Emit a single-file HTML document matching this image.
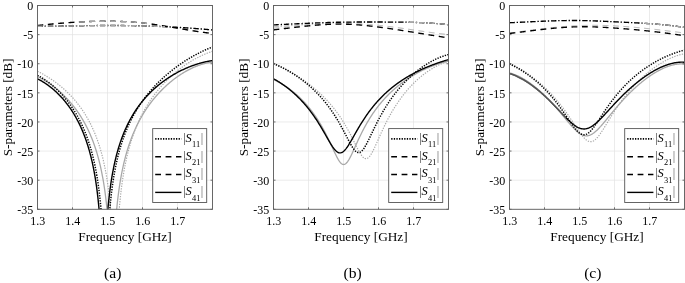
<!DOCTYPE html>
<html><head><meta charset="utf-8"><title>S-parameters</title>
<style>html,body{margin:0;padding:0;background:#fff}body{width:685px;height:283px;overflow:hidden}</style>
</head><body>
<svg width="685" height="283" viewBox="0 0 685 283" style="display:block">
<rect width="685" height="283" fill="#fff"/>
<defs>
<clipPath id="c0"><rect x="37.50" y="5.50" width="175.00" height="203.80"/></clipPath>
<clipPath id="c1"><rect x="273.50" y="5.50" width="175.00" height="203.80"/></clipPath>
<clipPath id="c2"><rect x="509.50" y="5.50" width="175.00" height="203.80"/></clipPath>
<clipPath id="o0_0"><rect x="78.00" y="5.50" width="72.00" height="203.80"/></clipPath>
<clipPath id="o0_1"><rect x="37.00" y="5.50" width="128.00" height="203.80"/></clipPath>
<clipPath id="o1_0"><rect x="405.00" y="5.50" width="44.00" height="203.80"/></clipPath>
<clipPath id="o2_0"><rect x="641.00" y="5.50" width="45.00" height="203.80"/></clipPath>
<clipPath id="o2_1"><rect x="509.00" y="5.50" width="57.00" height="203.80"/></clipPath>
</defs>
<path d="M72.50 5.50 V209.30 M107.50 5.50 V209.30 M142.50 5.50 V209.30 M177.50 5.50 V209.30 M37.50 34.61 H212.50 M37.50 63.73 H212.50 M37.50 92.84 H212.50 M37.50 121.96 H212.50 M37.50 151.07 H212.50 M37.50 180.19 H212.50" stroke="#e2e2e2" stroke-width="0.7" fill="none"/>
<g clip-path="url(#c0)" fill="none">
<path d="M37.50 25.53 L37.99 25.48 L38.47 25.42 L38.96 25.37 L39.45 25.32 L39.94 25.26 L40.42 25.21 L40.91 25.16 L41.40 25.11 L41.89 25.05 L42.37 25.00 L42.86 24.95 L43.35 24.90 L43.84 24.85 L44.32 24.80 L44.81 24.75 L45.30 24.70 L45.79 24.65 L46.27 24.60 L46.76 24.55 L47.25 24.50 L47.74 24.45 L48.22 24.40 L48.71 24.35 L49.20 24.31 L49.69 24.26 L50.17 24.21 L50.66 24.16 L51.15 24.12 L51.64 24.07 L52.12 24.02 L52.61 23.98 L53.10 23.93 L53.59 23.89 L54.07 23.84 L54.56 23.80 L55.05 23.75 L55.54 23.71 L56.02 23.67 L56.51 23.62 L57.00 23.58 L57.49 23.54 L57.97 23.49 L58.46 23.45 L58.95 23.41 L59.44 23.37 L59.92 23.33 L60.41 23.29 L60.90 23.25 L61.39 23.21 L61.87 23.17 L62.36 23.13 L62.85 23.09 L63.34 23.05 L63.82 23.01 L64.31 22.97 L64.80 22.93 L65.29 22.90 L65.77 22.86 L66.26 22.82 L66.75 22.79 L67.24 22.75 L67.72 22.72 L68.21 22.68 L68.70 22.65 L69.19 22.61 L69.67 22.58 L70.16 22.54 L70.65 22.51 L71.14 22.48 L71.62 22.44 L72.11 22.41 L72.60 22.38 L73.08 22.35 L73.57 22.32 L74.06 22.29 L74.55 22.26 L75.03 22.23 L75.52 22.20 L76.01 22.17 L76.50 22.14 L76.98 22.11 L77.47 22.08 L77.96 22.06 L78.45 22.03 L78.93 22.00 L79.42 21.98 L79.91 21.95 L80.40 21.92 L80.88 21.90 L81.37 21.87 L81.86 21.85 L82.35 21.83 L82.83 21.80 L83.32 21.78 L83.81 21.76 L84.30 21.74 L84.78 21.71 L85.27 21.69 L85.76 21.67 L86.25 21.65 L86.73 21.63 L87.22 21.61 L87.71 21.59 L88.20 21.57 L88.68 21.56 L89.17 21.54 L89.66 21.52 L90.15 21.50 L90.63 21.49 L91.12 21.47 L91.61 21.46 L92.10 21.44 L92.58 21.43 L93.07 21.41 L93.56 21.40 L94.05 21.39 L94.53 21.37 L95.02 21.36 L95.51 21.35 L96.00 21.34 L96.48 21.33 L96.97 21.32 L97.46 21.31 L97.95 21.30 L98.43 21.29 L98.92 21.28 L99.41 21.28 L99.90 21.27 L100.38 21.26 L100.87 21.26 L101.36 21.25 L101.85 21.24 L102.33 21.24 L102.82 21.24 L103.31 21.23 L103.80 21.23 L104.28 21.23 L104.77 21.22 L105.26 21.22 L105.75 21.22 L106.23 21.22 L106.72 21.22 L107.21 21.22 L107.69 21.22 L108.18 21.22 L108.67 21.23 L109.16 21.23 L109.64 21.23 L110.13 21.24 L110.62 21.24 L111.11 21.24 L111.59 21.25 L112.08 21.26 L112.57 21.26 L113.06 21.27 L113.54 21.28 L114.03 21.29 L114.52 21.29 L115.01 21.30 L115.49 21.31 L115.98 21.32 L116.47 21.34 L116.96 21.35 L117.44 21.36 L117.93 21.37 L118.42 21.39 L118.91 21.40 L119.39 21.42 L119.88 21.43 L120.37 21.45 L120.86 21.47 L121.34 21.48 L121.83 21.50 L122.32 21.52 L122.81 21.54 L123.29 21.56 L123.78 21.58 L124.27 21.61 L124.76 21.63 L125.24 21.65 L125.73 21.68 L126.22 21.70 L126.71 21.73 L127.19 21.75 L127.68 21.78 L128.17 21.81 L128.66 21.83 L129.14 21.86 L129.63 21.89 L130.12 21.92 L130.61 21.96 L131.09 21.99 L131.58 22.02 L132.07 22.05 L132.56 22.09 L133.04 22.12 L133.53 22.16 L134.02 22.20 L134.51 22.23 L134.99 22.27 L135.48 22.31 L135.97 22.35 L136.46 22.39 L136.94 22.43 L137.43 22.48 L137.92 22.52 L138.41 22.56 L138.89 22.61 L139.38 22.65 L139.87 22.70 L140.36 22.75 L140.84 22.80 L141.33 22.85 L141.82 22.90 L142.31 22.95 L142.79 23.00 L143.28 23.05 L143.77 23.11 L144.25 23.16 L144.74 23.22 L145.23 23.27 L145.72 23.33 L146.20 23.39 L146.69 23.45 L147.18 23.51 L147.67 23.57 L148.15 23.63 L148.64 23.69 L149.13 23.75 L149.62 23.81 L150.10 23.88 L150.59 23.94 L151.08 24.01 L151.57 24.07 L152.05 24.14 L152.54 24.21 L153.03 24.27 L153.52 24.34 L154.00 24.41 L154.49 24.48 L154.98 24.55 L155.47 24.62 L155.95 24.69 L156.44 24.76 L156.93 24.84 L157.42 24.91 L157.90 24.98 L158.39 25.06 L158.88 25.13 L159.37 25.21 L159.85 25.28 L160.34 25.36 L160.83 25.43 L161.32 25.51 L161.80 25.59 L162.29 25.66 L162.78 25.74 L163.27 25.82 L163.75 25.90 L164.24 25.98 L164.73 26.06 L165.22 26.14 L165.70 26.22 L166.19 26.30 L166.68 26.38 L167.17 26.46 L167.65 26.54 L168.14 26.62 L168.63 26.70 L169.12 26.78 L169.60 26.86 L170.09 26.95 L170.58 27.03 L171.07 27.11 L171.55 27.19 L172.04 27.28 L172.53 27.36 L173.02 27.44 L173.50 27.53 L173.99 27.61 L174.48 27.69 L174.97 27.77 L175.45 27.86 L175.94 27.94 L176.43 28.03 L176.92 28.11 L177.40 28.19 L177.89 28.28 L178.38 28.36 L178.86 28.44 L179.35 28.53 L179.84 28.61 L180.33 28.69 L180.81 28.78 L181.30 28.86 L181.79 28.94 L182.28 29.03 L182.76 29.11 L183.25 29.19 L183.74 29.27 L184.23 29.36 L184.71 29.44 L185.20 29.52 L185.69 29.60 L186.18 29.69 L186.66 29.77 L187.15 29.85 L187.64 29.93 L188.13 30.01 L188.61 30.09 L189.10 30.17 L189.59 30.25 L190.08 30.33 L190.56 30.41 L191.05 30.49 L191.54 30.57 L192.03 30.65 L192.51 30.72 L193.00 30.80 L193.49 30.88 L193.98 30.95 L194.46 31.03 L194.95 31.11 L195.44 31.18 L195.93 31.26 L196.41 31.33 L196.90 31.41 L197.39 31.48 L197.88 31.55 L198.36 31.62 L198.85 31.70 L199.34 31.77 L199.83 31.84 L200.31 31.91 L200.80 31.98 L201.29 32.05 L201.78 32.12 L202.26 32.19 L202.75 32.25 L203.24 32.32 L203.73 32.39 L204.21 32.45 L204.70 32.52 L205.19 32.58 L205.68 32.64 L206.16 32.71 L206.65 32.77 L207.14 32.83 L207.63 32.89 L208.11 32.95 L208.60 33.01 L209.09 33.07 L209.58 33.12 L210.06 33.18 L210.55 33.24 L211.04 33.29 L211.53 33.34 L212.01 33.40 L212.50 33.45" stroke="#a8a8a8" stroke-width="1.00" stroke-dasharray="5.8 4.6"/>
<path d="M37.50 26.23 L37.99 26.23 L38.47 26.23 L38.96 26.23 L39.45 26.23 L39.94 26.23 L40.42 26.23 L40.91 26.23 L41.40 26.23 L41.89 26.22 L42.37 26.22 L42.86 26.22 L43.35 26.22 L43.84 26.22 L44.32 26.21 L44.81 26.21 L45.30 26.21 L45.79 26.21 L46.27 26.20 L46.76 26.20 L47.25 26.20 L47.74 26.19 L48.22 26.19 L48.71 26.19 L49.20 26.18 L49.69 26.18 L50.17 26.17 L50.66 26.17 L51.15 26.17 L51.64 26.16 L52.12 26.16 L52.61 26.15 L53.10 26.15 L53.59 26.14 L54.07 26.14 L54.56 26.13 L55.05 26.13 L55.54 26.12 L56.02 26.12 L56.51 26.11 L57.00 26.10 L57.49 26.10 L57.97 26.09 L58.46 26.09 L58.95 26.08 L59.44 26.07 L59.92 26.07 L60.41 26.06 L60.90 26.05 L61.39 26.05 L61.87 26.04 L62.36 26.03 L62.85 26.03 L63.34 26.02 L63.82 26.01 L64.31 26.01 L64.80 26.00 L65.29 25.99 L65.77 25.98 L66.26 25.98 L66.75 25.97 L67.24 25.96 L67.72 25.95 L68.21 25.95 L68.70 25.94 L69.19 25.93 L69.67 25.92 L70.16 25.92 L70.65 25.91 L71.14 25.90 L71.62 25.89 L72.11 25.89 L72.60 25.88 L73.08 25.87 L73.57 25.86 L74.06 25.86 L74.55 25.85 L75.03 25.84 L75.52 25.83 L76.01 25.82 L76.50 25.82 L76.98 25.81 L77.47 25.80 L77.96 25.79 L78.45 25.79 L78.93 25.78 L79.42 25.77 L79.91 25.76 L80.40 25.76 L80.88 25.75 L81.37 25.74 L81.86 25.73 L82.35 25.73 L82.83 25.72 L83.32 25.71 L83.81 25.70 L84.30 25.70 L84.78 25.69 L85.27 25.68 L85.76 25.68 L86.25 25.67 L86.73 25.66 L87.22 25.66 L87.71 25.65 L88.20 25.64 L88.68 25.64 L89.17 25.63 L89.66 25.62 L90.15 25.62 L90.63 25.61 L91.12 25.60 L91.61 25.60 L92.10 25.59 L92.58 25.59 L93.07 25.58 L93.56 25.58 L94.05 25.57 L94.53 25.56 L95.02 25.56 L95.51 25.55 L96.00 25.55 L96.48 25.54 L96.97 25.54 L97.46 25.53 L97.95 25.53 L98.43 25.53 L98.92 25.52 L99.41 25.52 L99.90 25.51 L100.38 25.51 L100.87 25.51 L101.36 25.50 L101.85 25.50 L102.33 25.50 L102.82 25.49 L103.31 25.49 L103.80 25.49 L104.28 25.48 L104.77 25.48 L105.26 25.48 L105.75 25.48 L106.23 25.48 L106.72 25.47 L107.21 25.47 L107.69 25.47 L108.18 25.47 L108.67 25.47 L109.16 25.47 L109.64 25.47 L110.13 25.47 L110.62 25.47 L111.11 25.47 L111.59 25.47 L112.08 25.47 L112.57 25.47 L113.06 25.47 L113.54 25.47 L114.03 25.47 L114.52 25.47 L115.01 25.48 L115.49 25.48 L115.98 25.48 L116.47 25.48 L116.96 25.48 L117.44 25.49 L117.93 25.49 L118.42 25.49 L118.91 25.49 L119.39 25.50 L119.88 25.50 L120.37 25.51 L120.86 25.51 L121.34 25.51 L121.83 25.52 L122.32 25.52 L122.81 25.53 L123.29 25.53 L123.78 25.54 L124.27 25.54 L124.76 25.55 L125.24 25.55 L125.73 25.56 L126.22 25.56 L126.71 25.57 L127.19 25.58 L127.68 25.58 L128.17 25.59 L128.66 25.60 L129.14 25.61 L129.63 25.61 L130.12 25.62 L130.61 25.63 L131.09 25.64 L131.58 25.64 L132.07 25.65 L132.56 25.66 L133.04 25.67 L133.53 25.68 L134.02 25.69 L134.51 25.70 L134.99 25.71 L135.48 25.72 L135.97 25.73 L136.46 25.74 L136.94 25.75 L137.43 25.76 L137.92 25.77 L138.41 25.78 L138.89 25.79 L139.38 25.80 L139.87 25.81 L140.36 25.83 L140.84 25.84 L141.33 25.85 L141.82 25.86 L142.31 25.87 L142.79 25.89 L143.28 25.90 L143.77 25.91 L144.25 25.93 L144.74 25.94 L145.23 25.95 L145.72 25.97 L146.20 25.98 L146.69 26.00 L147.18 26.01 L147.67 26.03 L148.15 26.04 L148.64 26.06 L149.13 26.07 L149.62 26.09 L150.10 26.10 L150.59 26.12 L151.08 26.14 L151.57 26.15 L152.05 26.17 L152.54 26.19 L153.03 26.20 L153.52 26.22 L154.00 26.24 L154.49 26.26 L154.98 26.27 L155.47 26.29 L155.95 26.31 L156.44 26.33 L156.93 26.35 L157.42 26.37 L157.90 26.39 L158.39 26.40 L158.88 26.42 L159.37 26.44 L159.85 26.46 L160.34 26.48 L160.83 26.50 L161.32 26.53 L161.80 26.55 L162.29 26.57 L162.78 26.59 L163.27 26.61 L163.75 26.63 L164.24 26.65 L164.73 26.68 L165.22 26.70 L165.70 26.72 L166.19 26.74 L166.68 26.77 L167.17 26.79 L167.65 26.81 L168.14 26.84 L168.63 26.86 L169.12 26.89 L169.60 26.91 L170.09 26.93 L170.58 26.96 L171.07 26.98 L171.55 27.01 L172.04 27.04 L172.53 27.06 L173.02 27.09 L173.50 27.11 L173.99 27.14 L174.48 27.17 L174.97 27.19 L175.45 27.22 L175.94 27.25 L176.43 27.27 L176.92 27.30 L177.40 27.33 L177.89 27.36 L178.38 27.39 L178.86 27.42 L179.35 27.44 L179.84 27.47 L180.33 27.50 L180.81 27.53 L181.30 27.56 L181.79 27.59 L182.28 27.62 L182.76 27.65 L183.25 27.68 L183.74 27.71 L184.23 27.74 L184.71 27.78 L185.20 27.81 L185.69 27.84 L186.18 27.87 L186.66 27.90 L187.15 27.94 L187.64 27.97 L188.13 28.00 L188.61 28.04 L189.10 28.07 L189.59 28.10 L190.08 28.14 L190.56 28.17 L191.05 28.21 L191.54 28.24 L192.03 28.27 L192.51 28.31 L193.00 28.34 L193.49 28.38 L193.98 28.42 L194.46 28.45 L194.95 28.49 L195.44 28.53 L195.93 28.56 L196.41 28.60 L196.90 28.64 L197.39 28.67 L197.88 28.71 L198.36 28.75 L198.85 28.79 L199.34 28.83 L199.83 28.86 L200.31 28.90 L200.80 28.94 L201.29 28.98 L201.78 29.02 L202.26 29.06 L202.75 29.10 L203.24 29.14 L203.73 29.18 L204.21 29.22 L204.70 29.26 L205.19 29.31 L205.68 29.35 L206.16 29.39 L206.65 29.43 L207.14 29.47 L207.63 29.52 L208.11 29.56 L208.60 29.60 L209.09 29.65 L209.58 29.69 L210.06 29.73 L210.55 29.78 L211.04 29.82 L211.53 29.87 L212.01 29.91 L212.50 29.96" stroke="#a8a8a8" stroke-width="1.00" stroke-dasharray="5.3 1.9 1.3 1.9"/>
<path d="M37.50 25.53 L37.99 25.48 L38.47 25.42 L38.96 25.37 L39.45 25.32 L39.94 25.26 L40.42 25.21 L40.91 25.16 L41.40 25.11 L41.89 25.05 L42.37 25.00 L42.86 24.95 L43.35 24.90 L43.84 24.85 L44.32 24.80 L44.81 24.75 L45.30 24.70 L45.79 24.65 L46.27 24.60 L46.76 24.55 L47.25 24.50 L47.74 24.45 L48.22 24.40 L48.71 24.35 L49.20 24.31 L49.69 24.26 L50.17 24.21 L50.66 24.16 L51.15 24.12 L51.64 24.07 L52.12 24.02 L52.61 23.98 L53.10 23.93 L53.59 23.89 L54.07 23.84 L54.56 23.80 L55.05 23.75 L55.54 23.71 L56.02 23.67 L56.51 23.62 L57.00 23.58 L57.49 23.54 L57.97 23.49 L58.46 23.45 L58.95 23.41 L59.44 23.37 L59.92 23.33 L60.41 23.29 L60.90 23.25 L61.39 23.21 L61.87 23.17 L62.36 23.13 L62.85 23.09 L63.34 23.05 L63.82 23.01 L64.31 22.97 L64.80 22.93 L65.29 22.90 L65.77 22.86 L66.26 22.82 L66.75 22.79 L67.24 22.75 L67.72 22.72 L68.21 22.68 L68.70 22.65 L69.19 22.61 L69.67 22.58 L70.16 22.54 L70.65 22.51 L71.14 22.48 L71.62 22.44 L72.11 22.41 L72.60 22.38 L73.08 22.35 L73.57 22.32 L74.06 22.29 L74.55 22.26 L75.03 22.23 L75.52 22.20 L76.01 22.17 L76.50 22.14 L76.98 22.11 L77.47 22.08 L77.96 22.06 L78.45 22.03 L78.93 22.00 L79.42 21.98 L79.91 21.95 L80.40 21.92 L80.88 21.90 L81.37 21.87 L81.86 21.85 L82.35 21.83 L82.83 21.80 L83.32 21.78 L83.81 21.76 L84.30 21.74 L84.78 21.71 L85.27 21.69 L85.76 21.67 L86.25 21.65 L86.73 21.63 L87.22 21.61 L87.71 21.59 L88.20 21.57 L88.68 21.56 L89.17 21.54 L89.66 21.52 L90.15 21.50 L90.63 21.49 L91.12 21.47 L91.61 21.46 L92.10 21.44 L92.58 21.43 L93.07 21.41 L93.56 21.40 L94.05 21.39 L94.53 21.37 L95.02 21.36 L95.51 21.35 L96.00 21.34 L96.48 21.33 L96.97 21.32 L97.46 21.31 L97.95 21.30 L98.43 21.29 L98.92 21.28 L99.41 21.28 L99.90 21.27 L100.38 21.26 L100.87 21.26 L101.36 21.25 L101.85 21.24 L102.33 21.24 L102.82 21.24 L103.31 21.23 L103.80 21.23 L104.28 21.23 L104.77 21.22 L105.26 21.22 L105.75 21.22 L106.23 21.22 L106.72 21.22 L107.21 21.22 L107.69 21.22 L108.18 21.22 L108.67 21.23 L109.16 21.23 L109.64 21.23 L110.13 21.24 L110.62 21.24 L111.11 21.24 L111.59 21.25 L112.08 21.26 L112.57 21.26 L113.06 21.27 L113.54 21.28 L114.03 21.29 L114.52 21.29 L115.01 21.30 L115.49 21.31 L115.98 21.32 L116.47 21.34 L116.96 21.35 L117.44 21.36 L117.93 21.37 L118.42 21.39 L118.91 21.40 L119.39 21.42 L119.88 21.43 L120.37 21.45 L120.86 21.47 L121.34 21.48 L121.83 21.50 L122.32 21.52 L122.81 21.54 L123.29 21.56 L123.78 21.58 L124.27 21.61 L124.76 21.63 L125.24 21.65 L125.73 21.68 L126.22 21.70 L126.71 21.73 L127.19 21.75 L127.68 21.78 L128.17 21.81 L128.66 21.83 L129.14 21.86 L129.63 21.89 L130.12 21.92 L130.61 21.96 L131.09 21.99 L131.58 22.02 L132.07 22.05 L132.56 22.09 L133.04 22.12 L133.53 22.16 L134.02 22.20 L134.51 22.23 L134.99 22.27 L135.48 22.31 L135.97 22.35 L136.46 22.39 L136.94 22.43 L137.43 22.48 L137.92 22.52 L138.41 22.56 L138.89 22.61 L139.38 22.65 L139.87 22.70 L140.36 22.75 L140.84 22.80 L141.33 22.85 L141.82 22.90 L142.31 22.95 L142.79 23.00 L143.28 23.05 L143.77 23.11 L144.25 23.16 L144.74 23.22 L145.23 23.27 L145.72 23.33 L146.20 23.39 L146.69 23.45 L147.18 23.51 L147.67 23.57 L148.15 23.63 L148.64 23.69 L149.13 23.75 L149.62 23.81 L150.10 23.88 L150.59 23.94 L151.08 24.01 L151.57 24.07 L152.05 24.14 L152.54 24.21 L153.03 24.27 L153.52 24.34 L154.00 24.41 L154.49 24.48 L154.98 24.55 L155.47 24.62 L155.95 24.69 L156.44 24.76 L156.93 24.84 L157.42 24.91 L157.90 24.98 L158.39 25.06 L158.88 25.13 L159.37 25.21 L159.85 25.28 L160.34 25.36 L160.83 25.43 L161.32 25.51 L161.80 25.59 L162.29 25.66 L162.78 25.74 L163.27 25.82 L163.75 25.90 L164.24 25.98 L164.73 26.06 L165.22 26.14 L165.70 26.22 L166.19 26.30 L166.68 26.38 L167.17 26.46 L167.65 26.54 L168.14 26.62 L168.63 26.70 L169.12 26.78 L169.60 26.86 L170.09 26.95 L170.58 27.03 L171.07 27.11 L171.55 27.19 L172.04 27.28 L172.53 27.36 L173.02 27.44 L173.50 27.53 L173.99 27.61 L174.48 27.69 L174.97 27.77 L175.45 27.86 L175.94 27.94 L176.43 28.03 L176.92 28.11 L177.40 28.19 L177.89 28.28 L178.38 28.36 L178.86 28.44 L179.35 28.53 L179.84 28.61 L180.33 28.69 L180.81 28.78 L181.30 28.86 L181.79 28.94 L182.28 29.03 L182.76 29.11 L183.25 29.19 L183.74 29.27 L184.23 29.36 L184.71 29.44 L185.20 29.52 L185.69 29.60 L186.18 29.69 L186.66 29.77 L187.15 29.85 L187.64 29.93 L188.13 30.01 L188.61 30.09 L189.10 30.17 L189.59 30.25 L190.08 30.33 L190.56 30.41 L191.05 30.49 L191.54 30.57 L192.03 30.65 L192.51 30.72 L193.00 30.80 L193.49 30.88 L193.98 30.95 L194.46 31.03 L194.95 31.11 L195.44 31.18 L195.93 31.26 L196.41 31.33 L196.90 31.41 L197.39 31.48 L197.88 31.55 L198.36 31.62 L198.85 31.70 L199.34 31.77 L199.83 31.84 L200.31 31.91 L200.80 31.98 L201.29 32.05 L201.78 32.12 L202.26 32.19 L202.75 32.25 L203.24 32.32 L203.73 32.39 L204.21 32.45 L204.70 32.52 L205.19 32.58 L205.68 32.64 L206.16 32.71 L206.65 32.77 L207.14 32.83 L207.63 32.89 L208.11 32.95 L208.60 33.01 L209.09 33.07 L209.58 33.12 L210.06 33.18 L210.55 33.24 L211.04 33.29 L211.53 33.34 L212.01 33.40 L212.50 33.45" stroke="#000" stroke-width="1.35" stroke-dasharray="5.8 4.6"/>
<path d="M37.50 26.23 L37.99 26.23 L38.47 26.23 L38.96 26.23 L39.45 26.23 L39.94 26.23 L40.42 26.23 L40.91 26.23 L41.40 26.23 L41.89 26.22 L42.37 26.22 L42.86 26.22 L43.35 26.22 L43.84 26.22 L44.32 26.21 L44.81 26.21 L45.30 26.21 L45.79 26.21 L46.27 26.20 L46.76 26.20 L47.25 26.20 L47.74 26.19 L48.22 26.19 L48.71 26.19 L49.20 26.18 L49.69 26.18 L50.17 26.17 L50.66 26.17 L51.15 26.17 L51.64 26.16 L52.12 26.16 L52.61 26.15 L53.10 26.15 L53.59 26.14 L54.07 26.14 L54.56 26.13 L55.05 26.13 L55.54 26.12 L56.02 26.12 L56.51 26.11 L57.00 26.10 L57.49 26.10 L57.97 26.09 L58.46 26.09 L58.95 26.08 L59.44 26.07 L59.92 26.07 L60.41 26.06 L60.90 26.05 L61.39 26.05 L61.87 26.04 L62.36 26.03 L62.85 26.03 L63.34 26.02 L63.82 26.01 L64.31 26.01 L64.80 26.00 L65.29 25.99 L65.77 25.98 L66.26 25.98 L66.75 25.97 L67.24 25.96 L67.72 25.95 L68.21 25.95 L68.70 25.94 L69.19 25.93 L69.67 25.92 L70.16 25.92 L70.65 25.91 L71.14 25.90 L71.62 25.89 L72.11 25.89 L72.60 25.88 L73.08 25.87 L73.57 25.86 L74.06 25.86 L74.55 25.85 L75.03 25.84 L75.52 25.83 L76.01 25.82 L76.50 25.82 L76.98 25.81 L77.47 25.80 L77.96 25.79 L78.45 25.79 L78.93 25.78 L79.42 25.77 L79.91 25.76 L80.40 25.76 L80.88 25.75 L81.37 25.74 L81.86 25.73 L82.35 25.73 L82.83 25.72 L83.32 25.71 L83.81 25.70 L84.30 25.70 L84.78 25.69 L85.27 25.68 L85.76 25.68 L86.25 25.67 L86.73 25.66 L87.22 25.66 L87.71 25.65 L88.20 25.64 L88.68 25.64 L89.17 25.63 L89.66 25.62 L90.15 25.62 L90.63 25.61 L91.12 25.60 L91.61 25.60 L92.10 25.59 L92.58 25.59 L93.07 25.58 L93.56 25.58 L94.05 25.57 L94.53 25.56 L95.02 25.56 L95.51 25.55 L96.00 25.55 L96.48 25.54 L96.97 25.54 L97.46 25.53 L97.95 25.53 L98.43 25.53 L98.92 25.52 L99.41 25.52 L99.90 25.51 L100.38 25.51 L100.87 25.51 L101.36 25.50 L101.85 25.50 L102.33 25.50 L102.82 25.49 L103.31 25.49 L103.80 25.49 L104.28 25.48 L104.77 25.48 L105.26 25.48 L105.75 25.48 L106.23 25.48 L106.72 25.47 L107.21 25.47 L107.69 25.47 L108.18 25.47 L108.67 25.47 L109.16 25.47 L109.64 25.47 L110.13 25.47 L110.62 25.47 L111.11 25.47 L111.59 25.47 L112.08 25.47 L112.57 25.47 L113.06 25.47 L113.54 25.47 L114.03 25.47 L114.52 25.47 L115.01 25.48 L115.49 25.48 L115.98 25.48 L116.47 25.48 L116.96 25.48 L117.44 25.49 L117.93 25.49 L118.42 25.49 L118.91 25.49 L119.39 25.50 L119.88 25.50 L120.37 25.51 L120.86 25.51 L121.34 25.51 L121.83 25.52 L122.32 25.52 L122.81 25.53 L123.29 25.53 L123.78 25.54 L124.27 25.54 L124.76 25.55 L125.24 25.55 L125.73 25.56 L126.22 25.56 L126.71 25.57 L127.19 25.58 L127.68 25.58 L128.17 25.59 L128.66 25.60 L129.14 25.61 L129.63 25.61 L130.12 25.62 L130.61 25.63 L131.09 25.64 L131.58 25.64 L132.07 25.65 L132.56 25.66 L133.04 25.67 L133.53 25.68 L134.02 25.69 L134.51 25.70 L134.99 25.71 L135.48 25.72 L135.97 25.73 L136.46 25.74 L136.94 25.75 L137.43 25.76 L137.92 25.77 L138.41 25.78 L138.89 25.79 L139.38 25.80 L139.87 25.81 L140.36 25.83 L140.84 25.84 L141.33 25.85 L141.82 25.86 L142.31 25.87 L142.79 25.89 L143.28 25.90 L143.77 25.91 L144.25 25.93 L144.74 25.94 L145.23 25.95 L145.72 25.97 L146.20 25.98 L146.69 26.00 L147.18 26.01 L147.67 26.03 L148.15 26.04 L148.64 26.06 L149.13 26.07 L149.62 26.09 L150.10 26.10 L150.59 26.12 L151.08 26.14 L151.57 26.15 L152.05 26.17 L152.54 26.19 L153.03 26.20 L153.52 26.22 L154.00 26.24 L154.49 26.26 L154.98 26.27 L155.47 26.29 L155.95 26.31 L156.44 26.33 L156.93 26.35 L157.42 26.37 L157.90 26.39 L158.39 26.40 L158.88 26.42 L159.37 26.44 L159.85 26.46 L160.34 26.48 L160.83 26.50 L161.32 26.53 L161.80 26.55 L162.29 26.57 L162.78 26.59 L163.27 26.61 L163.75 26.63 L164.24 26.65 L164.73 26.68 L165.22 26.70 L165.70 26.72 L166.19 26.74 L166.68 26.77 L167.17 26.79 L167.65 26.81 L168.14 26.84 L168.63 26.86 L169.12 26.89 L169.60 26.91 L170.09 26.93 L170.58 26.96 L171.07 26.98 L171.55 27.01 L172.04 27.04 L172.53 27.06 L173.02 27.09 L173.50 27.11 L173.99 27.14 L174.48 27.17 L174.97 27.19 L175.45 27.22 L175.94 27.25 L176.43 27.27 L176.92 27.30 L177.40 27.33 L177.89 27.36 L178.38 27.39 L178.86 27.42 L179.35 27.44 L179.84 27.47 L180.33 27.50 L180.81 27.53 L181.30 27.56 L181.79 27.59 L182.28 27.62 L182.76 27.65 L183.25 27.68 L183.74 27.71 L184.23 27.74 L184.71 27.78 L185.20 27.81 L185.69 27.84 L186.18 27.87 L186.66 27.90 L187.15 27.94 L187.64 27.97 L188.13 28.00 L188.61 28.04 L189.10 28.07 L189.59 28.10 L190.08 28.14 L190.56 28.17 L191.05 28.21 L191.54 28.24 L192.03 28.27 L192.51 28.31 L193.00 28.34 L193.49 28.38 L193.98 28.42 L194.46 28.45 L194.95 28.49 L195.44 28.53 L195.93 28.56 L196.41 28.60 L196.90 28.64 L197.39 28.67 L197.88 28.71 L198.36 28.75 L198.85 28.79 L199.34 28.83 L199.83 28.86 L200.31 28.90 L200.80 28.94 L201.29 28.98 L201.78 29.02 L202.26 29.06 L202.75 29.10 L203.24 29.14 L203.73 29.18 L204.21 29.22 L204.70 29.26 L205.19 29.31 L205.68 29.35 L206.16 29.39 L206.65 29.43 L207.14 29.47 L207.63 29.52 L208.11 29.56 L208.60 29.60 L209.09 29.65 L209.58 29.69 L210.06 29.73 L210.55 29.78 L211.04 29.82 L211.53 29.87 L212.01 29.91 L212.50 29.96" stroke="#000" stroke-width="1.35" stroke-dasharray="5.3 1.9 1.3 1.9"/>
<path d="M37.50 71.26 L37.99 71.50 L38.47 71.75 L38.96 72.00 L39.45 72.25 L39.94 72.50 L40.42 72.76 L40.91 73.02 L41.40 73.28 L41.89 73.54 L42.37 73.81 L42.86 74.08 L43.35 74.36 L43.84 74.64 L44.32 74.92 L44.81 75.20 L45.30 75.49 L45.79 75.78 L46.27 76.07 L46.76 76.36 L47.25 76.66 L47.74 76.96 L48.22 77.27 L48.71 77.58 L49.20 77.89 L49.69 78.21 L50.17 78.53 L50.66 78.85 L51.15 79.17 L51.64 79.50 L52.12 79.83 L52.61 80.17 L53.10 80.51 L53.59 80.85 L54.07 81.20 L54.56 81.55 L55.05 81.90 L55.54 82.26 L56.02 82.62 L56.51 82.99 L57.00 83.36 L57.49 83.73 L57.97 84.11 L58.46 84.49 L58.95 84.88 L59.44 85.27 L59.92 85.66 L60.41 86.06 L60.90 86.46 L61.39 86.87 L61.87 87.28 L62.36 87.70 L62.85 88.12 L63.34 88.55 L63.82 88.98 L64.31 89.41 L64.80 89.85 L65.29 90.30 L65.77 90.75 L66.26 91.20 L66.75 91.67 L67.24 92.13 L67.72 92.60 L68.21 93.08 L68.70 93.56 L69.19 94.05 L69.67 94.55 L70.16 95.05 L70.65 95.56 L71.14 96.07 L71.62 96.59 L72.11 97.12 L72.60 97.65 L73.08 98.19 L73.57 98.74 L74.06 99.29 L74.55 99.86 L75.03 100.43 L75.52 101.00 L76.01 101.59 L76.50 102.18 L76.98 102.78 L77.47 103.39 L77.96 104.01 L78.45 104.64 L78.93 105.28 L79.42 105.92 L79.91 106.58 L80.40 107.24 L80.88 107.92 L81.37 108.60 L81.86 109.30 L82.35 110.01 L82.83 110.73 L83.32 111.46 L83.81 112.20 L84.30 112.96 L84.78 113.73 L85.27 114.51 L85.76 115.31 L86.25 116.11 L86.73 116.94 L87.22 117.78 L87.71 118.63 L88.20 119.51 L88.68 120.39 L89.17 121.30 L89.66 122.22 L90.15 123.17 L90.63 124.13 L91.12 125.11 L91.61 126.12 L92.10 127.14 L92.58 128.19 L93.07 129.27 L93.56 130.36 L94.05 131.49 L94.53 132.64 L95.02 133.82 L95.51 135.03 L96.00 136.28 L96.48 137.55 L96.97 138.87 L97.46 140.22 L97.95 141.60 L98.43 143.03 L98.92 144.51 L99.41 146.03 L99.90 147.60 L100.38 149.23 L100.87 150.91 L101.36 152.65 L101.85 154.45 L102.33 156.33 L102.82 158.28 L103.31 160.32 L103.80 162.44 L104.28 164.66 L104.77 166.98 L105.26 169.42 L105.75 171.99 L106.23 174.70 L106.72 177.57 L107.21 180.61 L107.69 183.85 L108.18 187.32 L108.67 191.05 L109.16 195.09 L109.64 199.47 L110.13 204.28 L110.62 209.60 L111.11 215.55 L111.59 222.28 L112.08 230.04 L112.57 239.17 L113.06 249.30 L113.54 249.30 L114.03 249.30 L114.52 249.30 L115.01 249.30 L115.49 249.30 L115.98 249.30 L116.47 249.30 L116.96 246.09 L117.44 235.65 L117.93 226.92 L118.42 219.44 L118.91 212.90 L119.39 207.09 L119.88 201.87 L120.37 197.12 L120.86 192.78 L121.34 188.76 L121.83 185.04 L122.32 181.56 L122.81 178.31 L123.29 175.24 L123.78 172.35 L124.27 169.61 L124.76 167.00 L125.24 164.52 L125.73 162.15 L126.22 159.88 L126.71 157.71 L127.19 155.62 L127.68 153.62 L128.17 151.68 L128.66 149.82 L129.14 148.02 L129.63 146.28 L130.12 144.59 L130.61 142.96 L131.09 141.37 L131.58 139.83 L132.07 138.34 L132.56 136.88 L133.04 135.47 L133.53 134.09 L134.02 132.74 L134.51 131.43 L134.99 130.15 L135.48 128.90 L135.97 127.68 L136.46 126.49 L136.94 125.32 L137.43 124.18 L137.92 123.06 L138.41 121.96 L138.89 120.89 L139.38 119.84 L139.87 118.80 L140.36 117.79 L140.84 116.80 L141.33 115.82 L141.82 114.86 L142.31 113.92 L142.79 112.99 L143.28 112.08 L143.77 111.19 L144.25 110.31 L144.74 109.44 L145.23 108.59 L145.72 107.75 L146.20 106.93 L146.69 106.12 L147.18 105.31 L147.67 104.53 L148.15 103.75 L148.64 102.98 L149.13 102.23 L149.62 101.48 L150.10 100.75 L150.59 100.02 L151.08 99.31 L151.57 98.60 L152.05 97.91 L152.54 97.22 L153.03 96.54 L153.52 95.87 L154.00 95.21 L154.49 94.56 L154.98 93.92 L155.47 93.28 L155.95 92.65 L156.44 92.03 L156.93 91.42 L157.42 90.81 L157.90 90.21 L158.39 89.62 L158.88 89.03 L159.37 88.45 L159.85 87.88 L160.34 87.31 L160.83 86.75 L161.32 86.20 L161.80 85.65 L162.29 85.11 L162.78 84.58 L163.27 84.05 L163.75 83.52 L164.24 83.00 L164.73 82.49 L165.22 81.98 L165.70 81.48 L166.19 80.98 L166.68 80.49 L167.17 80.00 L167.65 79.52 L168.14 79.04 L168.63 78.57 L169.12 78.10 L169.60 77.64 L170.09 77.18 L170.58 76.73 L171.07 76.28 L171.55 75.84 L172.04 75.40 L172.53 74.96 L173.02 74.53 L173.50 74.10 L173.99 73.68 L174.48 73.26 L174.97 72.84 L175.45 72.43 L175.94 72.03 L176.43 71.62 L176.92 71.23 L177.40 70.83 L177.89 70.44 L178.38 70.05 L178.86 69.67 L179.35 69.29 L179.84 68.92 L180.33 68.54 L180.81 68.17 L181.30 67.81 L181.79 67.45 L182.28 67.09 L182.76 66.74 L183.25 66.39 L183.74 66.04 L184.23 65.70 L184.71 65.36 L185.20 65.02 L185.69 64.69 L186.18 64.36 L186.66 64.03 L187.15 63.71 L187.64 63.39 L188.13 63.07 L188.61 62.76 L189.10 62.45 L189.59 62.14 L190.08 61.84 L190.56 61.54 L191.05 61.24 L191.54 60.95 L192.03 60.66 L192.51 60.37 L193.00 60.09 L193.49 59.80 L193.98 59.53 L194.46 59.25 L194.95 58.98 L195.44 58.71 L195.93 58.45 L196.41 58.19 L196.90 57.93 L197.39 57.67 L197.88 57.42 L198.36 57.17 L198.85 56.92 L199.34 56.68 L199.83 56.44 L200.31 56.20 L200.80 55.97 L201.29 55.73 L201.78 55.51 L202.26 55.28 L202.75 55.06 L203.24 54.84 L203.73 54.63 L204.21 54.41 L204.70 54.20 L205.19 54.00 L205.68 53.79 L206.16 53.59 L206.65 53.40 L207.14 53.20 L207.63 53.01 L208.11 52.82 L208.60 52.64 L209.09 52.46 L209.58 52.28 L210.06 52.11 L210.55 51.93 L211.04 51.77 L211.53 51.60 L212.01 51.44 L212.50 51.28" stroke="#a8a8a8" stroke-width="1.20" stroke-dasharray="1.3 1.3"/>
<path d="M37.50 76.58 L37.99 76.81 L38.47 77.05 L38.96 77.29 L39.45 77.53 L39.94 77.78 L40.42 78.04 L40.91 78.30 L41.40 78.56 L41.89 78.83 L42.37 79.10 L42.86 79.37 L43.35 79.65 L43.84 79.93 L44.32 80.22 L44.81 80.51 L45.30 80.81 L45.79 81.11 L46.27 81.41 L46.76 81.72 L47.25 82.03 L47.74 82.35 L48.22 82.67 L48.71 83.00 L49.20 83.33 L49.69 83.66 L50.17 84.00 L50.66 84.34 L51.15 84.69 L51.64 85.04 L52.12 85.39 L52.61 85.76 L53.10 86.12 L53.59 86.49 L54.07 86.86 L54.56 87.24 L55.05 87.63 L55.54 88.01 L56.02 88.41 L56.51 88.80 L57.00 89.21 L57.49 89.61 L57.97 90.03 L58.46 90.44 L58.95 90.87 L59.44 91.29 L59.92 91.73 L60.41 92.16 L60.90 92.61 L61.39 93.06 L61.87 93.51 L62.36 93.97 L62.85 94.44 L63.34 94.91 L63.82 95.38 L64.31 95.87 L64.80 96.36 L65.29 96.85 L65.77 97.35 L66.26 97.86 L66.75 98.37 L67.24 98.89 L67.72 99.42 L68.21 99.95 L68.70 100.49 L69.19 101.04 L69.67 101.59 L70.16 102.15 L70.65 102.72 L71.14 103.30 L71.62 103.88 L72.11 104.47 L72.60 105.07 L73.08 105.68 L73.57 106.30 L74.06 106.92 L74.55 107.56 L75.03 108.20 L75.52 108.85 L76.01 109.51 L76.50 110.18 L76.98 110.87 L77.47 111.56 L77.96 112.26 L78.45 112.97 L78.93 113.69 L79.42 114.43 L79.91 115.18 L80.40 115.93 L80.88 116.70 L81.37 117.49 L81.86 118.28 L82.35 119.09 L82.83 119.92 L83.32 120.76 L83.81 121.61 L84.30 122.48 L84.78 123.36 L85.27 124.26 L85.76 125.18 L86.25 126.12 L86.73 127.07 L87.22 128.05 L87.71 129.04 L88.20 130.05 L88.68 131.09 L89.17 132.15 L89.66 133.23 L90.15 134.34 L90.63 135.47 L91.12 136.63 L91.61 137.81 L92.10 139.03 L92.58 140.27 L93.07 141.55 L93.56 142.86 L94.05 144.21 L94.53 145.60 L95.02 147.02 L95.51 148.49 L96.00 150.00 L96.48 151.56 L96.97 153.18 L97.46 154.84 L97.95 156.56 L98.43 158.35 L98.92 160.20 L99.41 162.12 L99.90 164.12 L100.38 166.20 L100.87 168.38 L101.36 170.65 L101.85 173.03 L102.33 175.53 L102.82 178.16 L103.31 180.93 L103.80 183.87 L104.28 186.99 L104.77 190.32 L105.26 193.88 L105.75 197.71 L106.23 201.85 L106.72 206.37 L107.21 211.33 L107.69 216.82 L108.18 222.97 L108.67 229.96 L109.16 238.03 L109.64 247.58 L110.13 249.30 L110.62 249.30 L111.11 249.30 L111.59 249.30 L112.08 249.30 L112.57 249.30 L113.06 249.30 L113.54 249.30 L114.03 248.54 L114.52 238.77 L115.01 230.53 L115.49 223.40 L115.98 217.14 L116.47 211.55 L116.96 206.51 L117.44 201.91 L117.93 197.70 L118.42 193.80 L118.91 190.18 L119.39 186.79 L119.88 183.62 L120.37 180.62 L120.86 177.80 L121.34 175.12 L121.83 172.57 L122.32 170.15 L122.81 167.83 L123.29 165.61 L123.78 163.48 L124.27 161.44 L124.76 159.48 L125.24 157.58 L125.73 155.76 L126.22 153.99 L126.71 152.29 L127.19 150.64 L127.68 149.04 L128.17 147.48 L128.66 145.98 L129.14 144.51 L129.63 143.09 L130.12 141.70 L130.61 140.35 L131.09 139.03 L131.58 137.75 L132.07 136.49 L132.56 135.27 L133.04 134.08 L133.53 132.91 L134.02 131.76 L134.51 130.64 L134.99 129.55 L135.48 128.48 L135.97 127.43 L136.46 126.40 L136.94 125.39 L137.43 124.39 L137.92 123.42 L138.41 122.47 L138.89 121.53 L139.38 120.61 L139.87 119.70 L140.36 118.81 L140.84 117.94 L141.33 117.08 L141.82 116.23 L142.31 115.40 L142.79 114.58 L143.28 113.77 L143.77 112.98 L144.25 112.20 L144.74 111.43 L145.23 110.67 L145.72 109.92 L146.20 109.18 L146.69 108.46 L147.18 107.74 L147.67 107.03 L148.15 106.34 L148.64 105.65 L149.13 104.97 L149.62 104.30 L150.10 103.64 L150.59 102.99 L151.08 102.34 L151.57 101.71 L152.05 101.08 L152.54 100.46 L153.03 99.85 L153.52 99.25 L154.00 98.65 L154.49 98.06 L154.98 97.48 L155.47 96.90 L155.95 96.33 L156.44 95.77 L156.93 95.21 L157.42 94.67 L157.90 94.12 L158.39 93.59 L158.88 93.06 L159.37 92.53 L159.85 92.01 L160.34 91.50 L160.83 90.99 L161.32 90.49 L161.80 90.00 L162.29 89.51 L162.78 89.02 L163.27 88.54 L163.75 88.07 L164.24 87.60 L164.73 87.13 L165.22 86.68 L165.70 86.22 L166.19 85.77 L166.68 85.33 L167.17 84.89 L167.65 84.45 L168.14 84.02 L168.63 83.60 L169.12 83.18 L169.60 82.76 L170.09 82.35 L170.58 81.95 L171.07 81.54 L171.55 81.15 L172.04 80.75 L172.53 80.36 L173.02 79.98 L173.50 79.60 L173.99 79.22 L174.48 78.85 L174.97 78.48 L175.45 78.12 L175.94 77.76 L176.43 77.40 L176.92 77.05 L177.40 76.70 L177.89 76.36 L178.38 76.02 L178.86 75.68 L179.35 75.35 L179.84 75.03 L180.33 74.70 L180.81 74.38 L181.30 74.07 L181.79 73.75 L182.28 73.45 L182.76 73.14 L183.25 72.84 L183.74 72.55 L184.23 72.25 L184.71 71.97 L185.20 71.68 L185.69 71.40 L186.18 71.12 L186.66 70.85 L187.15 70.58 L187.64 70.32 L188.13 70.06 L188.61 69.80 L189.10 69.55 L189.59 69.30 L190.08 69.05 L190.56 68.81 L191.05 68.57 L191.54 68.34 L192.03 68.11 L192.51 67.88 L193.00 67.66 L193.49 67.44 L193.98 67.22 L194.46 67.01 L194.95 66.81 L195.44 66.60 L195.93 66.41 L196.41 66.21 L196.90 66.02 L197.39 65.84 L197.88 65.65 L198.36 65.47 L198.85 65.30 L199.34 65.13 L199.83 64.97 L200.31 64.80 L200.80 64.65 L201.29 64.50 L201.78 64.35 L202.26 64.20 L202.75 64.06 L203.24 63.93 L203.73 63.80 L204.21 63.67 L204.70 63.55 L205.19 63.43 L205.68 63.32 L206.16 63.21 L206.65 63.11 L207.14 63.01 L207.63 62.92 L208.11 62.83 L208.60 62.75 L209.09 62.67 L209.58 62.59 L210.06 62.52 L210.55 62.46 L211.04 62.40 L211.53 62.35 L212.01 62.30 L212.50 62.26" stroke="#a8a8a8" stroke-width="1.30"/>
<path d="M37.50 75.32 L37.99 75.57 L38.47 75.84 L38.96 76.10 L39.45 76.37 L39.94 76.65 L40.42 76.93 L40.91 77.22 L41.40 77.51 L41.89 77.80 L42.37 78.10 L42.86 78.41 L43.35 78.72 L43.84 79.03 L44.32 79.35 L44.81 79.68 L45.30 80.01 L45.79 80.34 L46.27 80.68 L46.76 81.03 L47.25 81.38 L47.74 81.73 L48.22 82.09 L48.71 82.46 L49.20 82.83 L49.69 83.21 L50.17 83.59 L50.66 83.97 L51.15 84.37 L51.64 84.76 L52.12 85.17 L52.61 85.58 L53.10 85.99 L53.59 86.41 L54.07 86.84 L54.56 87.27 L55.05 87.71 L55.54 88.15 L56.02 88.60 L56.51 89.06 L57.00 89.52 L57.49 89.99 L57.97 90.46 L58.46 90.94 L58.95 91.43 L59.44 91.92 L59.92 92.42 L60.41 92.93 L60.90 93.45 L61.39 93.97 L61.87 94.50 L62.36 95.03 L62.85 95.58 L63.34 96.13 L63.82 96.68 L64.31 97.25 L64.80 97.83 L65.29 98.41 L65.77 99.00 L66.26 99.60 L66.75 100.21 L67.24 100.82 L67.72 101.45 L68.21 102.08 L68.70 102.73 L69.19 103.38 L69.67 104.04 L70.16 104.72 L70.65 105.40 L71.14 106.10 L71.62 106.80 L72.11 107.52 L72.60 108.25 L73.08 108.99 L73.57 109.74 L74.06 110.50 L74.55 111.28 L75.03 112.07 L75.52 112.87 L76.01 113.69 L76.50 114.52 L76.98 115.37 L77.47 116.23 L77.96 117.11 L78.45 118.00 L78.93 118.91 L79.42 119.84 L79.91 120.79 L80.40 121.76 L80.88 122.74 L81.37 123.75 L81.86 124.77 L82.35 125.82 L82.83 126.89 L83.32 127.99 L83.81 129.11 L84.30 130.26 L84.78 131.43 L85.27 132.63 L85.76 133.86 L86.25 135.13 L86.73 136.42 L87.22 137.75 L87.71 139.12 L88.20 140.53 L88.68 141.97 L89.17 143.46 L89.66 145.00 L90.15 146.58 L90.63 148.22 L91.12 149.91 L91.61 151.66 L92.10 153.47 L92.58 155.35 L93.07 157.30 L93.56 159.33 L94.05 161.45 L94.53 163.66 L95.02 165.97 L95.51 168.39 L96.00 170.94 L96.48 173.61 L96.97 176.44 L97.46 179.43 L97.95 182.62 L98.43 186.01 L98.92 189.65 L99.41 193.57 L99.90 197.82 L100.38 202.46 L100.87 207.56 L101.36 213.22 L101.85 219.59 L102.33 226.85 L102.82 235.31 L103.31 245.38 L103.80 249.30 L104.28 249.30 L104.77 249.30 L105.26 249.30 L105.75 249.30 L106.23 249.30 L106.72 249.30 L107.21 249.30 L107.69 241.44 L108.18 232.02 L108.67 224.04 L109.16 217.12 L109.64 211.02 L110.13 205.57 L110.62 200.65 L111.11 196.16 L111.59 192.03 L112.08 188.21 L112.57 184.65 L113.06 181.33 L113.54 178.21 L114.03 175.28 L114.52 172.50 L115.01 169.86 L115.49 167.36 L115.98 164.97 L116.47 162.69 L116.96 160.51 L117.44 158.41 L117.93 156.40 L118.42 154.47 L118.91 152.60 L119.39 150.80 L119.88 149.06 L120.37 147.38 L120.86 145.76 L121.34 144.18 L121.83 142.65 L122.32 141.16 L122.81 139.72 L123.29 138.31 L123.78 136.95 L124.27 135.62 L124.76 134.32 L125.24 133.05 L125.73 131.81 L126.22 130.61 L126.71 129.43 L127.19 128.27 L127.68 127.15 L128.17 126.04 L128.66 124.96 L129.14 123.90 L129.63 122.86 L130.12 121.84 L130.61 120.85 L131.09 119.87 L131.58 118.90 L132.07 117.96 L132.56 117.03 L133.04 116.12 L133.53 115.22 L134.02 114.34 L134.51 113.48 L134.99 112.62 L135.48 111.78 L135.97 110.96 L136.46 110.14 L136.94 109.34 L137.43 108.55 L137.92 107.78 L138.41 107.01 L138.89 106.26 L139.38 105.51 L139.87 104.78 L140.36 104.05 L140.84 103.34 L141.33 102.63 L141.82 101.93 L142.31 101.25 L142.79 100.57 L143.28 99.90 L143.77 99.23 L144.25 98.58 L144.74 97.93 L145.23 97.29 L145.72 96.66 L146.20 96.04 L146.69 95.42 L147.18 94.81 L147.67 94.21 L148.15 93.61 L148.64 93.02 L149.13 92.44 L149.62 91.86 L150.10 91.29 L150.59 90.72 L151.08 90.16 L151.57 89.61 L152.05 89.06 L152.54 88.52 L153.03 87.98 L153.52 87.44 L154.00 86.92 L154.49 86.39 L154.98 85.88 L155.47 85.36 L155.95 84.86 L156.44 84.35 L156.93 83.85 L157.42 83.36 L157.90 82.87 L158.39 82.38 L158.88 81.90 L159.37 81.43 L159.85 80.95 L160.34 80.49 L160.83 80.02 L161.32 79.56 L161.80 79.10 L162.29 78.65 L162.78 78.20 L163.27 77.76 L163.75 77.31 L164.24 76.88 L164.73 76.44 L165.22 76.01 L165.70 75.58 L166.19 75.16 L166.68 74.74 L167.17 74.32 L167.65 73.91 L168.14 73.50 L168.63 73.09 L169.12 72.68 L169.60 72.28 L170.09 71.88 L170.58 71.49 L171.07 71.10 L171.55 70.71 L172.04 70.32 L172.53 69.94 L173.02 69.56 L173.50 69.18 L173.99 68.80 L174.48 68.43 L174.97 68.06 L175.45 67.70 L175.94 67.33 L176.43 66.97 L176.92 66.61 L177.40 66.26 L177.89 65.91 L178.38 65.56 L178.86 65.21 L179.35 64.86 L179.84 64.52 L180.33 64.18 L180.81 63.84 L181.30 63.51 L181.79 63.18 L182.28 62.85 L182.76 62.52 L183.25 62.20 L183.74 61.87 L184.23 61.55 L184.71 61.24 L185.20 60.92 L185.69 60.61 L186.18 60.30 L186.66 59.99 L187.15 59.69 L187.64 59.38 L188.13 59.08 L188.61 58.78 L189.10 58.49 L189.59 58.19 L190.08 57.90 L190.56 57.61 L191.05 57.33 L191.54 57.04 L192.03 56.76 L192.51 56.48 L193.00 56.20 L193.49 55.93 L193.98 55.66 L194.46 55.39 L194.95 55.12 L195.44 54.85 L195.93 54.59 L196.41 54.33 L196.90 54.07 L197.39 53.81 L197.88 53.56 L198.36 53.30 L198.85 53.05 L199.34 52.81 L199.83 52.56 L200.31 52.32 L200.80 52.08 L201.29 51.84 L201.78 51.60 L202.26 51.37 L202.75 51.14 L203.24 50.91 L203.73 50.68 L204.21 50.46 L204.70 50.24 L205.19 50.02 L205.68 49.80 L206.16 49.59 L206.65 49.37 L207.14 49.16 L207.63 48.95 L208.11 48.75 L208.60 48.55 L209.09 48.35 L209.58 48.15 L210.06 47.95 L210.55 47.76 L211.04 47.57 L211.53 47.38 L212.01 47.19 L212.50 47.01" stroke="#000" stroke-width="1.50" stroke-dasharray="1.3 1.3"/>
<path d="M37.50 78.83 L37.99 79.07 L38.47 79.32 L38.96 79.58 L39.45 79.84 L39.94 80.10 L40.42 80.37 L40.91 80.65 L41.40 80.93 L41.89 81.21 L42.37 81.50 L42.86 81.80 L43.35 82.09 L43.84 82.40 L44.32 82.71 L44.81 83.03 L45.30 83.35 L45.79 83.67 L46.27 84.00 L46.76 84.34 L47.25 84.68 L47.74 85.03 L48.22 85.38 L48.71 85.74 L49.20 86.10 L49.69 86.47 L50.17 86.85 L50.66 87.23 L51.15 87.61 L51.64 88.01 L52.12 88.41 L52.61 88.81 L53.10 89.22 L53.59 89.64 L54.07 90.06 L54.56 90.49 L55.05 90.92 L55.54 91.37 L56.02 91.81 L56.51 92.27 L57.00 92.73 L57.49 93.20 L57.97 93.68 L58.46 94.16 L58.95 94.65 L59.44 95.14 L59.92 95.65 L60.41 96.16 L60.90 96.68 L61.39 97.21 L61.87 97.74 L62.36 98.29 L62.85 98.84 L63.34 99.40 L63.82 99.96 L64.31 100.54 L64.80 101.13 L65.29 101.72 L65.77 102.33 L66.26 102.94 L66.75 103.56 L67.24 104.20 L67.72 104.84 L68.21 105.49 L68.70 106.16 L69.19 106.83 L69.67 107.52 L70.16 108.22 L70.65 108.93 L71.14 109.65 L71.62 110.38 L72.11 111.13 L72.60 111.89 L73.08 112.66 L73.57 113.45 L74.06 114.25 L74.55 115.07 L75.03 115.90 L75.52 116.75 L76.01 117.61 L76.50 118.49 L76.98 119.39 L77.47 120.30 L77.96 121.23 L78.45 122.19 L78.93 123.16 L79.42 124.15 L79.91 125.17 L80.40 126.21 L80.88 127.27 L81.37 128.35 L81.86 129.46 L82.35 130.60 L82.83 131.76 L83.32 132.95 L83.81 134.18 L84.30 135.43 L84.78 136.72 L85.27 138.04 L85.76 139.40 L86.25 140.80 L86.73 142.24 L87.22 143.73 L87.71 145.26 L88.20 146.83 L88.68 148.46 L89.17 150.15 L89.66 151.90 L90.15 153.70 L90.63 155.58 L91.12 157.53 L91.61 159.56 L92.10 161.67 L92.58 163.88 L93.07 166.19 L93.56 168.61 L94.05 171.15 L94.53 173.83 L95.02 176.66 L95.51 179.65 L96.00 182.84 L96.48 186.23 L96.97 189.87 L97.46 193.80 L97.95 198.05 L98.43 202.68 L98.92 207.78 L99.41 213.44 L99.90 219.81 L100.38 227.07 L100.87 235.52 L101.36 245.58 L101.85 249.30 L102.33 249.30 L102.82 249.30 L103.31 249.30 L103.80 249.30 L104.28 249.30 L104.77 249.30 L105.26 249.30 L105.75 241.90 L106.23 232.48 L106.72 224.50 L107.21 217.60 L107.69 211.51 L108.18 206.07 L108.67 201.16 L109.16 196.68 L109.64 192.56 L110.13 188.76 L110.62 185.22 L111.11 181.91 L111.59 178.81 L112.08 175.89 L112.57 173.13 L113.06 170.52 L113.54 168.03 L114.03 165.66 L114.52 163.40 L115.01 161.24 L115.49 159.17 L115.98 157.18 L116.47 155.27 L116.96 153.43 L117.44 151.65 L117.93 149.94 L118.42 148.28 L118.91 146.68 L119.39 145.13 L119.88 143.63 L120.37 142.17 L120.86 140.75 L121.34 139.38 L121.83 138.04 L122.32 136.74 L122.81 135.47 L123.29 134.23 L123.78 133.03 L124.27 131.85 L124.76 130.70 L125.24 129.58 L125.73 128.49 L126.22 127.42 L126.71 126.37 L127.19 125.34 L127.68 124.34 L128.17 123.36 L128.66 122.40 L129.14 121.46 L129.63 120.53 L130.12 119.62 L130.61 118.74 L131.09 117.86 L131.58 117.01 L132.07 116.17 L132.56 115.34 L133.04 114.53 L133.53 113.73 L134.02 112.95 L134.51 112.18 L134.99 111.42 L135.48 110.67 L135.97 109.94 L136.46 109.22 L136.94 108.51 L137.43 107.81 L137.92 107.12 L138.41 106.44 L138.89 105.78 L139.38 105.12 L139.87 104.47 L140.36 103.83 L140.84 103.20 L141.33 102.58 L141.82 101.97 L142.31 101.37 L142.79 100.77 L143.28 100.18 L143.77 99.60 L144.25 99.03 L144.74 98.47 L145.23 97.91 L145.72 97.36 L146.20 96.82 L146.69 96.29 L147.18 95.76 L147.67 95.24 L148.15 94.72 L148.64 94.21 L149.13 93.71 L149.62 93.21 L150.10 92.72 L150.59 92.24 L151.08 91.76 L151.57 91.29 L152.05 90.82 L152.54 90.36 L153.03 89.90 L153.52 89.45 L154.00 89.01 L154.49 88.57 L154.98 88.13 L155.47 87.70 L155.95 87.27 L156.44 86.85 L156.93 86.44 L157.42 86.02 L157.90 85.62 L158.39 85.21 L158.88 84.82 L159.37 84.42 L159.85 84.03 L160.34 83.65 L160.83 83.27 L161.32 82.89 L161.80 82.52 L162.29 82.15 L162.78 81.78 L163.27 81.42 L163.75 81.07 L164.24 80.71 L164.73 80.36 L165.22 80.02 L165.70 79.68 L166.19 79.34 L166.68 79.00 L167.17 78.67 L167.65 78.34 L168.14 78.02 L168.63 77.70 L169.12 77.38 L169.60 77.07 L170.09 76.76 L170.58 76.45 L171.07 76.14 L171.55 75.84 L172.04 75.55 L172.53 75.25 L173.02 74.96 L173.50 74.67 L173.99 74.39 L174.48 74.10 L174.97 73.82 L175.45 73.55 L175.94 73.28 L176.43 73.01 L176.92 72.74 L177.40 72.47 L177.89 72.21 L178.38 71.95 L178.86 71.70 L179.35 71.45 L179.84 71.20 L180.33 70.95 L180.81 70.71 L181.30 70.46 L181.79 70.23 L182.28 69.99 L182.76 69.76 L183.25 69.53 L183.74 69.30 L184.23 69.07 L184.71 68.85 L185.20 68.63 L185.69 68.42 L186.18 68.20 L186.66 67.99 L187.15 67.78 L187.64 67.58 L188.13 67.37 L188.61 67.17 L189.10 66.97 L189.59 66.78 L190.08 66.58 L190.56 66.39 L191.05 66.21 L191.54 66.02 L192.03 65.84 L192.51 65.66 L193.00 65.48 L193.49 65.31 L193.98 65.13 L194.46 64.96 L194.95 64.80 L195.44 64.63 L195.93 64.47 L196.41 64.31 L196.90 64.16 L197.39 64.00 L197.88 63.85 L198.36 63.70 L198.85 63.56 L199.34 63.41 L199.83 63.27 L200.31 63.13 L200.80 63.00 L201.29 62.87 L201.78 62.74 L202.26 62.61 L202.75 62.48 L203.24 62.36 L203.73 62.24 L204.21 62.12 L204.70 62.01 L205.19 61.90 L205.68 61.79 L206.16 61.68 L206.65 61.58 L207.14 61.48 L207.63 61.38 L208.11 61.29 L208.60 61.20 L209.09 61.11 L209.58 61.02 L210.06 60.94 L210.55 60.86 L211.04 60.78 L211.53 60.70 L212.01 60.63 L212.50 60.56" stroke="#000" stroke-width="1.40"/>
</g>
<path clip-path="url(#o0_0)" d="M37.50 25.53 L37.99 25.48 L38.47 25.42 L38.96 25.37 L39.45 25.32 L39.94 25.26 L40.42 25.21 L40.91 25.16 L41.40 25.11 L41.89 25.05 L42.37 25.00 L42.86 24.95 L43.35 24.90 L43.84 24.85 L44.32 24.80 L44.81 24.75 L45.30 24.70 L45.79 24.65 L46.27 24.60 L46.76 24.55 L47.25 24.50 L47.74 24.45 L48.22 24.40 L48.71 24.35 L49.20 24.31 L49.69 24.26 L50.17 24.21 L50.66 24.16 L51.15 24.12 L51.64 24.07 L52.12 24.02 L52.61 23.98 L53.10 23.93 L53.59 23.89 L54.07 23.84 L54.56 23.80 L55.05 23.75 L55.54 23.71 L56.02 23.67 L56.51 23.62 L57.00 23.58 L57.49 23.54 L57.97 23.49 L58.46 23.45 L58.95 23.41 L59.44 23.37 L59.92 23.33 L60.41 23.29 L60.90 23.25 L61.39 23.21 L61.87 23.17 L62.36 23.13 L62.85 23.09 L63.34 23.05 L63.82 23.01 L64.31 22.97 L64.80 22.93 L65.29 22.90 L65.77 22.86 L66.26 22.82 L66.75 22.79 L67.24 22.75 L67.72 22.72 L68.21 22.68 L68.70 22.65 L69.19 22.61 L69.67 22.58 L70.16 22.54 L70.65 22.51 L71.14 22.48 L71.62 22.44 L72.11 22.41 L72.60 22.38 L73.08 22.35 L73.57 22.32 L74.06 22.29 L74.55 22.26 L75.03 22.23 L75.52 22.20 L76.01 22.17 L76.50 22.14 L76.98 22.11 L77.47 22.08 L77.96 22.06 L78.45 22.03 L78.93 22.00 L79.42 21.98 L79.91 21.95 L80.40 21.92 L80.88 21.90 L81.37 21.87 L81.86 21.85 L82.35 21.83 L82.83 21.80 L83.32 21.78 L83.81 21.76 L84.30 21.74 L84.78 21.71 L85.27 21.69 L85.76 21.67 L86.25 21.65 L86.73 21.63 L87.22 21.61 L87.71 21.59 L88.20 21.57 L88.68 21.56 L89.17 21.54 L89.66 21.52 L90.15 21.50 L90.63 21.49 L91.12 21.47 L91.61 21.46 L92.10 21.44 L92.58 21.43 L93.07 21.41 L93.56 21.40 L94.05 21.39 L94.53 21.37 L95.02 21.36 L95.51 21.35 L96.00 21.34 L96.48 21.33 L96.97 21.32 L97.46 21.31 L97.95 21.30 L98.43 21.29 L98.92 21.28 L99.41 21.28 L99.90 21.27 L100.38 21.26 L100.87 21.26 L101.36 21.25 L101.85 21.24 L102.33 21.24 L102.82 21.24 L103.31 21.23 L103.80 21.23 L104.28 21.23 L104.77 21.22 L105.26 21.22 L105.75 21.22 L106.23 21.22 L106.72 21.22 L107.21 21.22 L107.69 21.22 L108.18 21.22 L108.67 21.23 L109.16 21.23 L109.64 21.23 L110.13 21.24 L110.62 21.24 L111.11 21.24 L111.59 21.25 L112.08 21.26 L112.57 21.26 L113.06 21.27 L113.54 21.28 L114.03 21.29 L114.52 21.29 L115.01 21.30 L115.49 21.31 L115.98 21.32 L116.47 21.34 L116.96 21.35 L117.44 21.36 L117.93 21.37 L118.42 21.39 L118.91 21.40 L119.39 21.42 L119.88 21.43 L120.37 21.45 L120.86 21.47 L121.34 21.48 L121.83 21.50 L122.32 21.52 L122.81 21.54 L123.29 21.56 L123.78 21.58 L124.27 21.61 L124.76 21.63 L125.24 21.65 L125.73 21.68 L126.22 21.70 L126.71 21.73 L127.19 21.75 L127.68 21.78 L128.17 21.81 L128.66 21.83 L129.14 21.86 L129.63 21.89 L130.12 21.92 L130.61 21.96 L131.09 21.99 L131.58 22.02 L132.07 22.05 L132.56 22.09 L133.04 22.12 L133.53 22.16 L134.02 22.20 L134.51 22.23 L134.99 22.27 L135.48 22.31 L135.97 22.35 L136.46 22.39 L136.94 22.43 L137.43 22.48 L137.92 22.52 L138.41 22.56 L138.89 22.61 L139.38 22.65 L139.87 22.70 L140.36 22.75 L140.84 22.80 L141.33 22.85 L141.82 22.90 L142.31 22.95 L142.79 23.00 L143.28 23.05 L143.77 23.11 L144.25 23.16 L144.74 23.22 L145.23 23.27 L145.72 23.33 L146.20 23.39 L146.69 23.45 L147.18 23.51 L147.67 23.57 L148.15 23.63 L148.64 23.69 L149.13 23.75 L149.62 23.81 L150.10 23.88 L150.59 23.94 L151.08 24.01 L151.57 24.07 L152.05 24.14 L152.54 24.21 L153.03 24.27 L153.52 24.34 L154.00 24.41 L154.49 24.48 L154.98 24.55 L155.47 24.62 L155.95 24.69 L156.44 24.76 L156.93 24.84 L157.42 24.91 L157.90 24.98 L158.39 25.06 L158.88 25.13 L159.37 25.21 L159.85 25.28 L160.34 25.36 L160.83 25.43 L161.32 25.51 L161.80 25.59 L162.29 25.66 L162.78 25.74 L163.27 25.82 L163.75 25.90 L164.24 25.98 L164.73 26.06 L165.22 26.14 L165.70 26.22 L166.19 26.30 L166.68 26.38 L167.17 26.46 L167.65 26.54 L168.14 26.62 L168.63 26.70 L169.12 26.78 L169.60 26.86 L170.09 26.95 L170.58 27.03 L171.07 27.11 L171.55 27.19 L172.04 27.28 L172.53 27.36 L173.02 27.44 L173.50 27.53 L173.99 27.61 L174.48 27.69 L174.97 27.77 L175.45 27.86 L175.94 27.94 L176.43 28.03 L176.92 28.11 L177.40 28.19 L177.89 28.28 L178.38 28.36 L178.86 28.44 L179.35 28.53 L179.84 28.61 L180.33 28.69 L180.81 28.78 L181.30 28.86 L181.79 28.94 L182.28 29.03 L182.76 29.11 L183.25 29.19 L183.74 29.27 L184.23 29.36 L184.71 29.44 L185.20 29.52 L185.69 29.60 L186.18 29.69 L186.66 29.77 L187.15 29.85 L187.64 29.93 L188.13 30.01 L188.61 30.09 L189.10 30.17 L189.59 30.25 L190.08 30.33 L190.56 30.41 L191.05 30.49 L191.54 30.57 L192.03 30.65 L192.51 30.72 L193.00 30.80 L193.49 30.88 L193.98 30.95 L194.46 31.03 L194.95 31.11 L195.44 31.18 L195.93 31.26 L196.41 31.33 L196.90 31.41 L197.39 31.48 L197.88 31.55 L198.36 31.62 L198.85 31.70 L199.34 31.77 L199.83 31.84 L200.31 31.91 L200.80 31.98 L201.29 32.05 L201.78 32.12 L202.26 32.19 L202.75 32.25 L203.24 32.32 L203.73 32.39 L204.21 32.45 L204.70 32.52 L205.19 32.58 L205.68 32.64 L206.16 32.71 L206.65 32.77 L207.14 32.83 L207.63 32.89 L208.11 32.95 L208.60 33.01 L209.09 33.07 L209.58 33.12 L210.06 33.18 L210.55 33.24 L211.04 33.29 L211.53 33.34 L212.01 33.40 L212.50 33.45" stroke="#a8a8a8" stroke-width="1.30" stroke-dasharray="5.8 4.6" fill="none"/>
<path clip-path="url(#o0_1)" d="M37.50 26.23 L37.99 26.23 L38.47 26.23 L38.96 26.23 L39.45 26.23 L39.94 26.23 L40.42 26.23 L40.91 26.23 L41.40 26.23 L41.89 26.22 L42.37 26.22 L42.86 26.22 L43.35 26.22 L43.84 26.22 L44.32 26.21 L44.81 26.21 L45.30 26.21 L45.79 26.21 L46.27 26.20 L46.76 26.20 L47.25 26.20 L47.74 26.19 L48.22 26.19 L48.71 26.19 L49.20 26.18 L49.69 26.18 L50.17 26.17 L50.66 26.17 L51.15 26.17 L51.64 26.16 L52.12 26.16 L52.61 26.15 L53.10 26.15 L53.59 26.14 L54.07 26.14 L54.56 26.13 L55.05 26.13 L55.54 26.12 L56.02 26.12 L56.51 26.11 L57.00 26.10 L57.49 26.10 L57.97 26.09 L58.46 26.09 L58.95 26.08 L59.44 26.07 L59.92 26.07 L60.41 26.06 L60.90 26.05 L61.39 26.05 L61.87 26.04 L62.36 26.03 L62.85 26.03 L63.34 26.02 L63.82 26.01 L64.31 26.01 L64.80 26.00 L65.29 25.99 L65.77 25.98 L66.26 25.98 L66.75 25.97 L67.24 25.96 L67.72 25.95 L68.21 25.95 L68.70 25.94 L69.19 25.93 L69.67 25.92 L70.16 25.92 L70.65 25.91 L71.14 25.90 L71.62 25.89 L72.11 25.89 L72.60 25.88 L73.08 25.87 L73.57 25.86 L74.06 25.86 L74.55 25.85 L75.03 25.84 L75.52 25.83 L76.01 25.82 L76.50 25.82 L76.98 25.81 L77.47 25.80 L77.96 25.79 L78.45 25.79 L78.93 25.78 L79.42 25.77 L79.91 25.76 L80.40 25.76 L80.88 25.75 L81.37 25.74 L81.86 25.73 L82.35 25.73 L82.83 25.72 L83.32 25.71 L83.81 25.70 L84.30 25.70 L84.78 25.69 L85.27 25.68 L85.76 25.68 L86.25 25.67 L86.73 25.66 L87.22 25.66 L87.71 25.65 L88.20 25.64 L88.68 25.64 L89.17 25.63 L89.66 25.62 L90.15 25.62 L90.63 25.61 L91.12 25.60 L91.61 25.60 L92.10 25.59 L92.58 25.59 L93.07 25.58 L93.56 25.58 L94.05 25.57 L94.53 25.56 L95.02 25.56 L95.51 25.55 L96.00 25.55 L96.48 25.54 L96.97 25.54 L97.46 25.53 L97.95 25.53 L98.43 25.53 L98.92 25.52 L99.41 25.52 L99.90 25.51 L100.38 25.51 L100.87 25.51 L101.36 25.50 L101.85 25.50 L102.33 25.50 L102.82 25.49 L103.31 25.49 L103.80 25.49 L104.28 25.48 L104.77 25.48 L105.26 25.48 L105.75 25.48 L106.23 25.48 L106.72 25.47 L107.21 25.47 L107.69 25.47 L108.18 25.47 L108.67 25.47 L109.16 25.47 L109.64 25.47 L110.13 25.47 L110.62 25.47 L111.11 25.47 L111.59 25.47 L112.08 25.47 L112.57 25.47 L113.06 25.47 L113.54 25.47 L114.03 25.47 L114.52 25.47 L115.01 25.48 L115.49 25.48 L115.98 25.48 L116.47 25.48 L116.96 25.48 L117.44 25.49 L117.93 25.49 L118.42 25.49 L118.91 25.49 L119.39 25.50 L119.88 25.50 L120.37 25.51 L120.86 25.51 L121.34 25.51 L121.83 25.52 L122.32 25.52 L122.81 25.53 L123.29 25.53 L123.78 25.54 L124.27 25.54 L124.76 25.55 L125.24 25.55 L125.73 25.56 L126.22 25.56 L126.71 25.57 L127.19 25.58 L127.68 25.58 L128.17 25.59 L128.66 25.60 L129.14 25.61 L129.63 25.61 L130.12 25.62 L130.61 25.63 L131.09 25.64 L131.58 25.64 L132.07 25.65 L132.56 25.66 L133.04 25.67 L133.53 25.68 L134.02 25.69 L134.51 25.70 L134.99 25.71 L135.48 25.72 L135.97 25.73 L136.46 25.74 L136.94 25.75 L137.43 25.76 L137.92 25.77 L138.41 25.78 L138.89 25.79 L139.38 25.80 L139.87 25.81 L140.36 25.83 L140.84 25.84 L141.33 25.85 L141.82 25.86 L142.31 25.87 L142.79 25.89 L143.28 25.90 L143.77 25.91 L144.25 25.93 L144.74 25.94 L145.23 25.95 L145.72 25.97 L146.20 25.98 L146.69 26.00 L147.18 26.01 L147.67 26.03 L148.15 26.04 L148.64 26.06 L149.13 26.07 L149.62 26.09 L150.10 26.10 L150.59 26.12 L151.08 26.14 L151.57 26.15 L152.05 26.17 L152.54 26.19 L153.03 26.20 L153.52 26.22 L154.00 26.24 L154.49 26.26 L154.98 26.27 L155.47 26.29 L155.95 26.31 L156.44 26.33 L156.93 26.35 L157.42 26.37 L157.90 26.39 L158.39 26.40 L158.88 26.42 L159.37 26.44 L159.85 26.46 L160.34 26.48 L160.83 26.50 L161.32 26.53 L161.80 26.55 L162.29 26.57 L162.78 26.59 L163.27 26.61 L163.75 26.63 L164.24 26.65 L164.73 26.68 L165.22 26.70 L165.70 26.72 L166.19 26.74 L166.68 26.77 L167.17 26.79 L167.65 26.81 L168.14 26.84 L168.63 26.86 L169.12 26.89 L169.60 26.91 L170.09 26.93 L170.58 26.96 L171.07 26.98 L171.55 27.01 L172.04 27.04 L172.53 27.06 L173.02 27.09 L173.50 27.11 L173.99 27.14 L174.48 27.17 L174.97 27.19 L175.45 27.22 L175.94 27.25 L176.43 27.27 L176.92 27.30 L177.40 27.33 L177.89 27.36 L178.38 27.39 L178.86 27.42 L179.35 27.44 L179.84 27.47 L180.33 27.50 L180.81 27.53 L181.30 27.56 L181.79 27.59 L182.28 27.62 L182.76 27.65 L183.25 27.68 L183.74 27.71 L184.23 27.74 L184.71 27.78 L185.20 27.81 L185.69 27.84 L186.18 27.87 L186.66 27.90 L187.15 27.94 L187.64 27.97 L188.13 28.00 L188.61 28.04 L189.10 28.07 L189.59 28.10 L190.08 28.14 L190.56 28.17 L191.05 28.21 L191.54 28.24 L192.03 28.27 L192.51 28.31 L193.00 28.34 L193.49 28.38 L193.98 28.42 L194.46 28.45 L194.95 28.49 L195.44 28.53 L195.93 28.56 L196.41 28.60 L196.90 28.64 L197.39 28.67 L197.88 28.71 L198.36 28.75 L198.85 28.79 L199.34 28.83 L199.83 28.86 L200.31 28.90 L200.80 28.94 L201.29 28.98 L201.78 29.02 L202.26 29.06 L202.75 29.10 L203.24 29.14 L203.73 29.18 L204.21 29.22 L204.70 29.26 L205.19 29.31 L205.68 29.35 L206.16 29.39 L206.65 29.43 L207.14 29.47 L207.63 29.52 L208.11 29.56 L208.60 29.60 L209.09 29.65 L209.58 29.69 L210.06 29.73 L210.55 29.78 L211.04 29.82 L211.53 29.87 L212.01 29.91 L212.50 29.96" stroke="#a8a8a8" stroke-width="1.30" stroke-dasharray="5.3 1.9 1.3 1.9" fill="none"/>
<path d="M37.50 209.30 v-2.00 M37.50 5.50 v2.00 M72.50 209.30 v-2.00 M72.50 5.50 v2.00 M107.50 209.30 v-2.00 M107.50 5.50 v2.00 M142.50 209.30 v-2.00 M142.50 5.50 v2.00 M177.50 209.30 v-2.00 M177.50 5.50 v2.00 M37.50 5.50 h2.00 M212.50 5.50 h-2.00 M37.50 34.61 h2.00 M212.50 34.61 h-2.00 M37.50 63.73 h2.00 M212.50 63.73 h-2.00 M37.50 92.84 h2.00 M212.50 92.84 h-2.00 M37.50 121.96 h2.00 M212.50 121.96 h-2.00 M37.50 151.07 h2.00 M212.50 151.07 h-2.00 M37.50 180.19 h2.00 M212.50 180.19 h-2.00 M37.50 209.30 h2.00 M212.50 209.30 h-2.00" stroke="#606060" stroke-width="0.9" fill="none"/>
<rect x="37.50" y="5.50" width="175.00" height="203.80" fill="none" stroke="#606060" stroke-width="0.95"/>
<g font-family="'Liberation Serif','Times New Roman',serif" font-size="12" fill="#000">
<text x="33.30" y="10.20" text-anchor="end">0</text>
<text x="33.30" y="39.31" text-anchor="end">-5</text>
<text x="33.30" y="68.43" text-anchor="end">-10</text>
<text x="33.30" y="97.54" text-anchor="end">-15</text>
<text x="33.30" y="126.66" text-anchor="end">-20</text>
<text x="33.30" y="155.77" text-anchor="end">-25</text>
<text x="33.30" y="184.89" text-anchor="end">-30</text>
<text x="33.30" y="214.00" text-anchor="end">-35</text>
<text x="37.70" y="224.80" text-anchor="middle">1.3</text>
<text x="72.70" y="224.80" text-anchor="middle">1.4</text>
<text x="107.70" y="224.80" text-anchor="middle">1.5</text>
<text x="142.70" y="224.80" text-anchor="middle">1.6</text>
<text x="177.70" y="224.80" text-anchor="middle">1.7</text>
</g>
<g font-family="'Liberation Serif','Times New Roman',serif" font-size="13.3" fill="#000">
<text x="125.00" y="241.00" text-anchor="middle">Frequency [GHz]</text>
<text transform="translate(12.10 107.40) rotate(-90)" text-anchor="middle">S-parameters [dB]</text>
</g>
<text x="112.75" y="278.00" text-anchor="middle" font-family="'Liberation Serif','Times New Roman',serif" font-size="15.6" fill="#000">(a)</text>
<rect x="152.70" y="128.60" width="54.00" height="73.90" fill="#fff" stroke="#555" stroke-width="0.9"/>
<path d="M155.20 138.80 H181.40" stroke="#000" stroke-width="1.7" fill="none" stroke-dasharray="1.3 1.3"/>
<text font-family="'Liberation Serif','Times New Roman',serif" font-size="12.4" y="141.60"><tspan x="184.40" text-anchor="middle" fill="#333">|</tspan><tspan x="185.50" font-style="italic" fill="#000">S</tspan><tspan x="192.10" dy="5.7" font-size="8.4" fill="#000">11</tspan><tspan x="202.00" dy="-5.7" text-anchor="middle" fill="#666">|</tspan></text>
<path d="M155.20 156.80 H181.40" stroke="#000" stroke-width="1.4" fill="none" stroke-dasharray="5.8 4.6"/>
<text font-family="'Liberation Serif','Times New Roman',serif" font-size="12.4" y="159.60"><tspan x="184.40" text-anchor="middle" fill="#333">|</tspan><tspan x="185.50" font-style="italic" fill="#000">S</tspan><tspan x="192.10" dy="5.7" font-size="8.4" fill="#000">21</tspan><tspan x="202.00" dy="-5.7" text-anchor="middle" fill="#666">|</tspan></text>
<path d="M155.20 174.50 H181.40" stroke="#000" stroke-width="1.4" fill="none" stroke-dasharray="5.8 4.6"/>
<text font-family="'Liberation Serif','Times New Roman',serif" font-size="12.4" y="177.30"><tspan x="184.40" text-anchor="middle" fill="#333">|</tspan><tspan x="185.50" font-style="italic" fill="#000">S</tspan><tspan x="192.10" dy="5.7" font-size="8.4" fill="#000">31</tspan><tspan x="202.00" dy="-5.7" text-anchor="middle" fill="#666">|</tspan></text>
<path d="M155.20 192.40 H181.40" stroke="#000" stroke-width="1.4" fill="none"/>
<text font-family="'Liberation Serif','Times New Roman',serif" font-size="12.4" y="195.20"><tspan x="184.40" text-anchor="middle" fill="#333">|</tspan><tspan x="185.50" font-style="italic" fill="#000">S</tspan><tspan x="192.10" dy="5.7" font-size="8.4" fill="#000">41</tspan><tspan x="202.00" dy="-5.7" text-anchor="middle" fill="#666">|</tspan></text>
<path d="M308.50 5.50 V209.30 M343.50 5.50 V209.30 M378.50 5.50 V209.30 M413.50 5.50 V209.30 M273.50 34.61 H448.50 M273.50 63.73 H448.50 M273.50 92.84 H448.50 M273.50 121.96 H448.50 M273.50 151.07 H448.50 M273.50 180.19 H448.50" stroke="#e2e2e2" stroke-width="0.7" fill="none"/>
<g clip-path="url(#c1)" fill="none">
<path d="M273.50 28.21 L273.99 28.17 L274.47 28.14 L274.96 28.10 L275.45 28.07 L275.94 28.03 L276.42 27.99 L276.91 27.96 L277.40 27.92 L277.89 27.88 L278.37 27.84 L278.86 27.81 L279.35 27.77 L279.84 27.73 L280.32 27.69 L280.81 27.65 L281.30 27.61 L281.79 27.57 L282.27 27.53 L282.76 27.49 L283.25 27.45 L283.74 27.41 L284.22 27.37 L284.71 27.33 L285.20 27.29 L285.69 27.25 L286.17 27.21 L286.66 27.17 L287.15 27.12 L287.64 27.08 L288.12 27.04 L288.61 27.00 L289.10 26.96 L289.59 26.91 L290.07 26.87 L290.56 26.83 L291.05 26.79 L291.54 26.75 L292.02 26.70 L292.51 26.66 L293.00 26.62 L293.49 26.58 L293.97 26.53 L294.46 26.49 L294.95 26.45 L295.44 26.41 L295.92 26.36 L296.41 26.32 L296.90 26.28 L297.39 26.24 L297.87 26.19 L298.36 26.15 L298.85 26.11 L299.34 26.07 L299.82 26.03 L300.31 25.98 L300.80 25.94 L301.29 25.90 L301.77 25.86 L302.26 25.82 L302.75 25.77 L303.24 25.73 L303.72 25.69 L304.21 25.65 L304.70 25.61 L305.19 25.57 L305.67 25.53 L306.16 25.49 L306.65 25.45 L307.14 25.41 L307.62 25.37 L308.11 25.33 L308.60 25.29 L309.08 25.25 L309.57 25.21 L310.06 25.17 L310.55 25.13 L311.03 25.10 L311.52 25.06 L312.01 25.02 L312.50 24.98 L312.98 24.95 L313.47 24.91 L313.96 24.87 L314.45 24.84 L314.93 24.80 L315.42 24.77 L315.91 24.73 L316.40 24.70 L316.88 24.66 L317.37 24.63 L317.86 24.59 L318.35 24.56 L318.83 24.53 L319.32 24.50 L319.81 24.46 L320.30 24.43 L320.78 24.40 L321.27 24.37 L321.76 24.34 L322.25 24.31 L322.73 24.28 L323.22 24.25 L323.71 24.22 L324.20 24.19 L324.68 24.17 L325.17 24.14 L325.66 24.11 L326.15 24.09 L326.63 24.06 L327.12 24.04 L327.61 24.01 L328.10 23.99 L328.58 23.96 L329.07 23.94 L329.56 23.92 L330.05 23.90 L330.53 23.88 L331.02 23.85 L331.51 23.83 L332.00 23.82 L332.48 23.80 L332.97 23.78 L333.46 23.76 L333.95 23.74 L334.43 23.73 L334.92 23.71 L335.41 23.70 L335.90 23.68 L336.38 23.67 L336.87 23.66 L337.36 23.64 L337.85 23.63 L338.33 23.62 L338.82 23.61 L339.31 23.60 L339.80 23.59 L340.28 23.58 L340.77 23.58 L341.26 23.57 L341.75 23.57 L342.23 23.56 L342.72 23.56 L343.21 23.55 L343.69 23.55 L344.18 23.55 L344.67 23.55 L345.16 23.55 L345.64 23.55 L346.13 23.55 L346.62 23.55 L347.11 23.55 L347.59 23.56 L348.08 23.56 L348.57 23.57 L349.06 23.57 L349.54 23.58 L350.03 23.59 L350.52 23.60 L351.01 23.61 L351.49 23.62 L351.98 23.63 L352.47 23.64 L352.96 23.65 L353.44 23.66 L353.93 23.68 L354.42 23.69 L354.91 23.71 L355.39 23.72 L355.88 23.74 L356.37 23.76 L356.86 23.77 L357.34 23.79 L357.83 23.81 L358.32 23.83 L358.81 23.85 L359.29 23.88 L359.78 23.90 L360.27 23.92 L360.76 23.95 L361.24 23.97 L361.73 24.00 L362.22 24.02 L362.71 24.05 L363.19 24.08 L363.68 24.11 L364.17 24.13 L364.66 24.16 L365.14 24.19 L365.63 24.23 L366.12 24.26 L366.61 24.29 L367.09 24.32 L367.58 24.36 L368.07 24.39 L368.56 24.43 L369.04 24.46 L369.53 24.50 L370.02 24.54 L370.51 24.58 L370.99 24.62 L371.48 24.65 L371.97 24.70 L372.46 24.74 L372.94 24.78 L373.43 24.82 L373.92 24.86 L374.41 24.91 L374.89 24.95 L375.38 25.00 L375.87 25.04 L376.36 25.09 L376.84 25.13 L377.33 25.18 L377.82 25.23 L378.31 25.28 L378.79 25.33 L379.28 25.38 L379.77 25.43 L380.25 25.48 L380.74 25.53 L381.23 25.58 L381.72 25.64 L382.20 25.69 L382.69 25.75 L383.18 25.80 L383.67 25.86 L384.15 25.91 L384.64 25.97 L385.13 26.03 L385.62 26.08 L386.10 26.14 L386.59 26.20 L387.08 26.26 L387.57 26.32 L388.05 26.38 L388.54 26.44 L389.03 26.50 L389.52 26.56 L390.00 26.62 L390.49 26.69 L390.98 26.75 L391.47 26.81 L391.95 26.88 L392.44 26.94 L392.93 27.00 L393.42 27.07 L393.90 27.13 L394.39 27.20 L394.88 27.27 L395.37 27.33 L395.85 27.40 L396.34 27.47 L396.83 27.53 L397.32 27.60 L397.80 27.67 L398.29 27.74 L398.78 27.80 L399.27 27.87 L399.75 27.94 L400.24 28.01 L400.73 28.08 L401.22 28.15 L401.70 28.22 L402.19 28.29 L402.68 28.36 L403.17 28.43 L403.65 28.50 L404.14 28.57 L404.63 28.64 L405.12 28.71 L405.60 28.79 L406.09 28.86 L406.58 28.93 L407.07 29.00 L407.55 29.07 L408.04 29.14 L408.53 29.22 L409.02 29.29 L409.50 29.36 L409.99 29.43 L410.48 29.51 L410.97 29.58 L411.45 29.65 L411.94 29.72 L412.43 29.80 L412.92 29.87 L413.40 29.94 L413.89 30.01 L414.38 30.09 L414.86 30.16 L415.35 30.23 L415.84 30.30 L416.33 30.38 L416.81 30.45 L417.30 30.52 L417.79 30.59 L418.28 30.67 L418.76 30.74 L419.25 30.81 L419.74 30.88 L420.23 30.95 L420.71 31.03 L421.20 31.10 L421.69 31.17 L422.18 31.24 L422.66 31.31 L423.15 31.38 L423.64 31.45 L424.13 31.52 L424.61 31.59 L425.10 31.66 L425.59 31.73 L426.08 31.80 L426.56 31.87 L427.05 31.94 L427.54 32.01 L428.03 32.08 L428.51 32.15 L429.00 32.22 L429.49 32.29 L429.98 32.35 L430.46 32.42 L430.95 32.49 L431.44 32.55 L431.93 32.62 L432.41 32.69 L432.90 32.75 L433.39 32.82 L433.88 32.88 L434.36 32.95 L434.85 33.01 L435.34 33.07 L435.83 33.14 L436.31 33.20 L436.80 33.26 L437.29 33.33 L437.78 33.39 L438.26 33.45 L438.75 33.51 L439.24 33.57 L439.73 33.63 L440.21 33.69 L440.70 33.75 L441.19 33.81 L441.68 33.86 L442.16 33.92 L442.65 33.98 L443.14 34.03 L443.63 34.09 L444.11 34.14 L444.60 34.20 L445.09 34.25 L445.58 34.31 L446.06 34.36 L446.55 34.41 L447.04 34.46 L447.53 34.51 L448.01 34.56 L448.50 34.61" stroke="#a8a8a8" stroke-width="1.00" stroke-dasharray="5.8 4.6"/>
<path d="M273.50 26.81 L273.99 26.78 L274.47 26.74 L274.96 26.71 L275.45 26.67 L275.94 26.64 L276.42 26.60 L276.91 26.57 L277.40 26.54 L277.89 26.50 L278.37 26.47 L278.86 26.43 L279.35 26.40 L279.84 26.36 L280.32 26.33 L280.81 26.29 L281.30 26.26 L281.79 26.23 L282.27 26.19 L282.76 26.16 L283.25 26.12 L283.74 26.09 L284.22 26.05 L284.71 26.02 L285.20 25.99 L285.69 25.95 L286.17 25.92 L286.66 25.88 L287.15 25.85 L287.64 25.81 L288.12 25.78 L288.61 25.75 L289.10 25.71 L289.59 25.68 L290.07 25.65 L290.56 25.61 L291.05 25.58 L291.54 25.54 L292.02 25.51 L292.51 25.48 L293.00 25.44 L293.49 25.41 L293.97 25.38 L294.46 25.34 L294.95 25.31 L295.44 25.28 L295.92 25.24 L296.41 25.21 L296.90 25.18 L297.39 25.15 L297.87 25.11 L298.36 25.08 L298.85 25.05 L299.34 25.02 L299.82 24.98 L300.31 24.95 L300.80 24.92 L301.29 24.89 L301.77 24.85 L302.26 24.82 L302.75 24.79 L303.24 24.76 L303.72 24.73 L304.21 24.70 L304.70 24.67 L305.19 24.63 L305.67 24.60 L306.16 24.57 L306.65 24.54 L307.14 24.51 L307.62 24.48 L308.11 24.45 L308.60 24.42 L309.08 24.39 L309.57 24.36 L310.06 24.33 L310.55 24.30 L311.03 24.27 L311.52 24.24 L312.01 24.21 L312.50 24.18 L312.98 24.15 L313.47 24.12 L313.96 24.09 L314.45 24.06 L314.93 24.03 L315.42 24.01 L315.91 23.98 L316.40 23.95 L316.88 23.92 L317.37 23.89 L317.86 23.87 L318.35 23.84 L318.83 23.81 L319.32 23.78 L319.81 23.76 L320.30 23.73 L320.78 23.70 L321.27 23.68 L321.76 23.65 L322.25 23.62 L322.73 23.60 L323.22 23.57 L323.71 23.55 L324.20 23.52 L324.68 23.49 L325.17 23.47 L325.66 23.44 L326.15 23.42 L326.63 23.40 L327.12 23.37 L327.61 23.35 L328.10 23.32 L328.58 23.30 L329.07 23.28 L329.56 23.25 L330.05 23.23 L330.53 23.21 L331.02 23.18 L331.51 23.16 L332.00 23.14 L332.48 23.12 L332.97 23.09 L333.46 23.07 L333.95 23.05 L334.43 23.03 L334.92 23.01 L335.41 22.99 L335.90 22.97 L336.38 22.95 L336.87 22.93 L337.36 22.91 L337.85 22.89 L338.33 22.87 L338.82 22.85 L339.31 22.83 L339.80 22.81 L340.28 22.79 L340.77 22.77 L341.26 22.76 L341.75 22.74 L342.23 22.72 L342.72 22.70 L343.21 22.69 L343.69 22.67 L344.18 22.65 L344.67 22.64 L345.16 22.62 L345.64 22.61 L346.13 22.59 L346.62 22.58 L347.11 22.56 L347.59 22.55 L348.08 22.53 L348.57 22.52 L349.06 22.50 L349.54 22.49 L350.03 22.48 L350.52 22.46 L351.01 22.45 L351.49 22.44 L351.98 22.43 L352.47 22.41 L352.96 22.40 L353.44 22.39 L353.93 22.38 L354.42 22.37 L354.91 22.35 L355.39 22.34 L355.88 22.33 L356.37 22.32 L356.86 22.31 L357.34 22.30 L357.83 22.29 L358.32 22.28 L358.81 22.27 L359.29 22.26 L359.78 22.25 L360.27 22.25 L360.76 22.24 L361.24 22.23 L361.73 22.22 L362.22 22.21 L362.71 22.20 L363.19 22.20 L363.68 22.19 L364.17 22.18 L364.66 22.17 L365.14 22.17 L365.63 22.16 L366.12 22.15 L366.61 22.15 L367.09 22.14 L367.58 22.13 L368.07 22.13 L368.56 22.12 L369.04 22.12 L369.53 22.11 L370.02 22.11 L370.51 22.10 L370.99 22.10 L371.48 22.09 L371.97 22.09 L372.46 22.08 L372.94 22.08 L373.43 22.07 L373.92 22.07 L374.41 22.06 L374.89 22.06 L375.38 22.06 L375.87 22.05 L376.36 22.05 L376.84 22.05 L377.33 22.04 L377.82 22.04 L378.31 22.04 L378.79 22.04 L379.28 22.03 L379.77 22.03 L380.25 22.03 L380.74 22.03 L381.23 22.02 L381.72 22.02 L382.20 22.02 L382.69 22.02 L383.18 22.02 L383.67 22.02 L384.15 22.01 L384.64 22.01 L385.13 22.01 L385.62 22.01 L386.10 22.01 L386.59 22.01 L387.08 22.01 L387.57 22.01 L388.05 22.01 L388.54 22.01 L389.03 22.01 L389.52 22.01 L390.00 22.01 L390.49 22.02 L390.98 22.02 L391.47 22.02 L391.95 22.02 L392.44 22.02 L392.93 22.03 L393.42 22.03 L393.90 22.03 L394.39 22.03 L394.88 22.04 L395.37 22.04 L395.85 22.05 L396.34 22.05 L396.83 22.05 L397.32 22.06 L397.80 22.06 L398.29 22.07 L398.78 22.07 L399.27 22.08 L399.75 22.09 L400.24 22.09 L400.73 22.10 L401.22 22.11 L401.70 22.11 L402.19 22.12 L402.68 22.13 L403.17 22.14 L403.65 22.15 L404.14 22.15 L404.63 22.16 L405.12 22.17 L405.60 22.18 L406.09 22.19 L406.58 22.20 L407.07 22.21 L407.55 22.22 L408.04 22.24 L408.53 22.25 L409.02 22.26 L409.50 22.27 L409.99 22.28 L410.48 22.30 L410.97 22.31 L411.45 22.32 L411.94 22.34 L412.43 22.35 L412.92 22.37 L413.40 22.38 L413.89 22.40 L414.38 22.41 L414.86 22.43 L415.35 22.45 L415.84 22.47 L416.33 22.48 L416.81 22.50 L417.30 22.52 L417.79 22.54 L418.28 22.56 L418.76 22.58 L419.25 22.60 L419.74 22.62 L420.23 22.64 L420.71 22.66 L421.20 22.68 L421.69 22.71 L422.18 22.73 L422.66 22.75 L423.15 22.77 L423.64 22.80 L424.13 22.82 L424.61 22.85 L425.10 22.87 L425.59 22.90 L426.08 22.93 L426.56 22.95 L427.05 22.98 L427.54 23.01 L428.03 23.04 L428.51 23.07 L429.00 23.10 L429.49 23.12 L429.98 23.16 L430.46 23.19 L430.95 23.22 L431.44 23.25 L431.93 23.28 L432.41 23.31 L432.90 23.35 L433.39 23.38 L433.88 23.42 L434.36 23.45 L434.85 23.49 L435.34 23.52 L435.83 23.56 L436.31 23.60 L436.80 23.63 L437.29 23.67 L437.78 23.71 L438.26 23.75 L438.75 23.79 L439.24 23.83 L439.73 23.87 L440.21 23.91 L440.70 23.96 L441.19 24.00 L441.68 24.04 L442.16 24.09 L442.65 24.13 L443.14 24.18 L443.63 24.22 L444.11 24.27 L444.60 24.32 L445.09 24.36 L445.58 24.41 L446.06 24.46 L446.55 24.51 L447.04 24.56 L447.53 24.61 L448.01 24.66 L448.50 24.72" stroke="#a8a8a8" stroke-width="1.00" stroke-dasharray="5.3 1.9 1.3 1.9"/>
<path d="M273.50 29.90 L273.99 29.84 L274.47 29.79 L274.96 29.73 L275.45 29.68 L275.94 29.62 L276.42 29.56 L276.91 29.51 L277.40 29.45 L277.89 29.40 L278.37 29.34 L278.86 29.28 L279.35 29.22 L279.84 29.17 L280.32 29.11 L280.81 29.05 L281.30 28.99 L281.79 28.94 L282.27 28.88 L282.76 28.82 L283.25 28.76 L283.74 28.70 L284.22 28.65 L284.71 28.59 L285.20 28.53 L285.69 28.47 L286.17 28.41 L286.66 28.35 L287.15 28.30 L287.64 28.24 L288.12 28.18 L288.61 28.12 L289.10 28.06 L289.59 28.00 L290.07 27.94 L290.56 27.89 L291.05 27.83 L291.54 27.77 L292.02 27.71 L292.51 27.65 L293.00 27.60 L293.49 27.54 L293.97 27.48 L294.46 27.42 L294.95 27.37 L295.44 27.31 L295.92 27.25 L296.41 27.20 L296.90 27.14 L297.39 27.08 L297.87 27.03 L298.36 26.97 L298.85 26.92 L299.34 26.86 L299.82 26.81 L300.31 26.75 L300.80 26.70 L301.29 26.64 L301.77 26.59 L302.26 26.54 L302.75 26.48 L303.24 26.43 L303.72 26.38 L304.21 26.32 L304.70 26.27 L305.19 26.22 L305.67 26.17 L306.16 26.12 L306.65 26.07 L307.14 26.02 L307.62 25.97 L308.11 25.92 L308.60 25.87 L309.08 25.82 L309.57 25.77 L310.06 25.73 L310.55 25.68 L311.03 25.63 L311.52 25.59 L312.01 25.54 L312.50 25.50 L312.98 25.45 L313.47 25.41 L313.96 25.36 L314.45 25.32 L314.93 25.28 L315.42 25.24 L315.91 25.20 L316.40 25.16 L316.88 25.12 L317.37 25.08 L317.86 25.04 L318.35 25.00 L318.83 24.96 L319.32 24.93 L319.81 24.89 L320.30 24.85 L320.78 24.82 L321.27 24.79 L321.76 24.75 L322.25 24.72 L322.73 24.69 L323.22 24.66 L323.71 24.63 L324.20 24.60 L324.68 24.57 L325.17 24.54 L325.66 24.51 L326.15 24.49 L326.63 24.46 L327.12 24.43 L327.61 24.41 L328.10 24.39 L328.58 24.36 L329.07 24.34 L329.56 24.32 L330.05 24.30 L330.53 24.28 L331.02 24.26 L331.51 24.25 L332.00 24.23 L332.48 24.22 L332.97 24.20 L333.46 24.19 L333.95 24.18 L334.43 24.16 L334.92 24.15 L335.41 24.14 L335.90 24.13 L336.38 24.13 L336.87 24.12 L337.36 24.11 L337.85 24.11 L338.33 24.11 L338.82 24.10 L339.31 24.10 L339.80 24.10 L340.28 24.10 L340.77 24.10 L341.26 24.11 L341.75 24.11 L342.23 24.11 L342.72 24.12 L343.21 24.13 L343.69 24.14 L344.18 24.15 L344.67 24.16 L345.16 24.17 L345.64 24.18 L346.13 24.20 L346.62 24.21 L347.11 24.23 L347.59 24.24 L348.08 24.26 L348.57 24.28 L349.06 24.30 L349.54 24.32 L350.03 24.35 L350.52 24.37 L351.01 24.39 L351.49 24.42 L351.98 24.45 L352.47 24.47 L352.96 24.50 L353.44 24.53 L353.93 24.56 L354.42 24.59 L354.91 24.62 L355.39 24.66 L355.88 24.69 L356.37 24.73 L356.86 24.76 L357.34 24.80 L357.83 24.84 L358.32 24.87 L358.81 24.91 L359.29 24.95 L359.78 24.99 L360.27 25.03 L360.76 25.08 L361.24 25.12 L361.73 25.16 L362.22 25.21 L362.71 25.25 L363.19 25.30 L363.68 25.34 L364.17 25.39 L364.66 25.44 L365.14 25.49 L365.63 25.54 L366.12 25.59 L366.61 25.64 L367.09 25.69 L367.58 25.74 L368.07 25.79 L368.56 25.85 L369.04 25.90 L369.53 25.96 L370.02 26.01 L370.51 26.07 L370.99 26.12 L371.48 26.18 L371.97 26.23 L372.46 26.29 L372.94 26.35 L373.43 26.41 L373.92 26.47 L374.41 26.53 L374.89 26.59 L375.38 26.65 L375.87 26.71 L376.36 26.77 L376.84 26.83 L377.33 26.89 L377.82 26.96 L378.31 27.02 L378.79 27.08 L379.28 27.15 L379.77 27.21 L380.25 27.27 L380.74 27.34 L381.23 27.40 L381.72 27.47 L382.20 27.54 L382.69 27.60 L383.18 27.67 L383.67 27.74 L384.15 27.80 L384.64 27.87 L385.13 27.94 L385.62 28.01 L386.10 28.07 L386.59 28.14 L387.08 28.21 L387.57 28.28 L388.05 28.35 L388.54 28.42 L389.03 28.49 L389.52 28.56 L390.00 28.63 L390.49 28.70 L390.98 28.77 L391.47 28.85 L391.95 28.92 L392.44 28.99 L392.93 29.06 L393.42 29.13 L393.90 29.21 L394.39 29.28 L394.88 29.35 L395.37 29.43 L395.85 29.50 L396.34 29.57 L396.83 29.65 L397.32 29.72 L397.80 29.80 L398.29 29.87 L398.78 29.95 L399.27 30.02 L399.75 30.10 L400.24 30.17 L400.73 30.25 L401.22 30.33 L401.70 30.40 L402.19 30.48 L402.68 30.55 L403.17 30.63 L403.65 30.71 L404.14 30.78 L404.63 30.86 L405.12 30.94 L405.60 31.02 L406.09 31.09 L406.58 31.17 L407.07 31.25 L407.55 31.33 L408.04 31.40 L408.53 31.48 L409.02 31.56 L409.50 31.64 L409.99 31.72 L410.48 31.80 L410.97 31.87 L411.45 31.95 L411.94 32.03 L412.43 32.11 L412.92 32.19 L413.40 32.27 L413.89 32.35 L414.38 32.43 L414.86 32.51 L415.35 32.59 L415.84 32.67 L416.33 32.74 L416.81 32.82 L417.30 32.90 L417.79 32.98 L418.28 33.06 L418.76 33.14 L419.25 33.22 L419.74 33.30 L420.23 33.38 L420.71 33.46 L421.20 33.54 L421.69 33.62 L422.18 33.70 L422.66 33.78 L423.15 33.86 L423.64 33.94 L424.13 34.02 L424.61 34.10 L425.10 34.18 L425.59 34.26 L426.08 34.34 L426.56 34.41 L427.05 34.49 L427.54 34.57 L428.03 34.65 L428.51 34.73 L429.00 34.81 L429.49 34.89 L429.98 34.97 L430.46 35.05 L430.95 35.13 L431.44 35.21 L431.93 35.28 L432.41 35.36 L432.90 35.44 L433.39 35.52 L433.88 35.60 L434.36 35.68 L434.85 35.75 L435.34 35.83 L435.83 35.91 L436.31 35.99 L436.80 36.06 L437.29 36.14 L437.78 36.22 L438.26 36.30 L438.75 36.37 L439.24 36.45 L439.73 36.53 L440.21 36.60 L440.70 36.68 L441.19 36.76 L441.68 36.83 L442.16 36.91 L442.65 36.98 L443.14 37.06 L443.63 37.13 L444.11 37.21 L444.60 37.28 L445.09 37.36 L445.58 37.43 L446.06 37.51 L446.55 37.58 L447.04 37.66 L447.53 37.73 L448.01 37.80 L448.50 37.88" stroke="#000" stroke-width="1.35" stroke-dasharray="5.8 4.6"/>
<path d="M273.50 24.89 L273.99 24.87 L274.47 24.85 L274.96 24.82 L275.45 24.80 L275.94 24.78 L276.42 24.75 L276.91 24.73 L277.40 24.71 L277.89 24.69 L278.37 24.66 L278.86 24.64 L279.35 24.62 L279.84 24.59 L280.32 24.57 L280.81 24.55 L281.30 24.53 L281.79 24.50 L282.27 24.48 L282.76 24.46 L283.25 24.43 L283.74 24.41 L284.22 24.39 L284.71 24.36 L285.20 24.34 L285.69 24.32 L286.17 24.29 L286.66 24.27 L287.15 24.25 L287.64 24.22 L288.12 24.20 L288.61 24.18 L289.10 24.15 L289.59 24.13 L290.07 24.11 L290.56 24.08 L291.05 24.06 L291.54 24.04 L292.02 24.01 L292.51 23.99 L293.00 23.97 L293.49 23.95 L293.97 23.92 L294.46 23.90 L294.95 23.88 L295.44 23.85 L295.92 23.83 L296.41 23.81 L296.90 23.78 L297.39 23.76 L297.87 23.74 L298.36 23.72 L298.85 23.69 L299.34 23.67 L299.82 23.65 L300.31 23.63 L300.80 23.60 L301.29 23.58 L301.77 23.56 L302.26 23.54 L302.75 23.51 L303.24 23.49 L303.72 23.47 L304.21 23.45 L304.70 23.43 L305.19 23.41 L305.67 23.38 L306.16 23.36 L306.65 23.34 L307.14 23.32 L307.62 23.30 L308.11 23.28 L308.60 23.26 L309.08 23.23 L309.57 23.21 L310.06 23.19 L310.55 23.17 L311.03 23.15 L311.52 23.13 L312.01 23.11 L312.50 23.09 L312.98 23.07 L313.47 23.05 L313.96 23.03 L314.45 23.01 L314.93 22.99 L315.42 22.97 L315.91 22.95 L316.40 22.93 L316.88 22.91 L317.37 22.90 L317.86 22.88 L318.35 22.86 L318.83 22.84 L319.32 22.82 L319.81 22.80 L320.30 22.79 L320.78 22.77 L321.27 22.75 L321.76 22.73 L322.25 22.71 L322.73 22.70 L323.22 22.68 L323.71 22.66 L324.20 22.65 L324.68 22.63 L325.17 22.61 L325.66 22.60 L326.15 22.58 L326.63 22.57 L327.12 22.55 L327.61 22.54 L328.10 22.52 L328.58 22.51 L329.07 22.49 L329.56 22.48 L330.05 22.46 L330.53 22.45 L331.02 22.43 L331.51 22.42 L332.00 22.41 L332.48 22.39 L332.97 22.38 L333.46 22.37 L333.95 22.35 L334.43 22.34 L334.92 22.33 L335.41 22.32 L335.90 22.31 L336.38 22.29 L336.87 22.28 L337.36 22.27 L337.85 22.26 L338.33 22.25 L338.82 22.24 L339.31 22.23 L339.80 22.22 L340.28 22.21 L340.77 22.20 L341.26 22.19 L341.75 22.18 L342.23 22.17 L342.72 22.17 L343.21 22.16 L343.69 22.15 L344.18 22.14 L344.67 22.14 L345.16 22.13 L345.64 22.12 L346.13 22.12 L346.62 22.11 L347.11 22.10 L347.59 22.10 L348.08 22.09 L348.57 22.09 L349.06 22.08 L349.54 22.08 L350.03 22.07 L350.52 22.07 L351.01 22.06 L351.49 22.06 L351.98 22.06 L352.47 22.05 L352.96 22.05 L353.44 22.05 L353.93 22.04 L354.42 22.04 L354.91 22.04 L355.39 22.03 L355.88 22.03 L356.37 22.03 L356.86 22.03 L357.34 22.03 L357.83 22.02 L358.32 22.02 L358.81 22.02 L359.29 22.02 L359.78 22.02 L360.27 22.02 L360.76 22.02 L361.24 22.02 L361.73 22.02 L362.22 22.02 L362.71 22.02 L363.19 22.02 L363.68 22.01 L364.17 22.01 L364.66 22.01 L365.14 22.01 L365.63 22.02 L366.12 22.02 L366.61 22.02 L367.09 22.02 L367.58 22.02 L368.07 22.02 L368.56 22.02 L369.04 22.02 L369.53 22.02 L370.02 22.02 L370.51 22.02 L370.99 22.02 L371.48 22.02 L371.97 22.02 L372.46 22.02 L372.94 22.03 L373.43 22.03 L373.92 22.03 L374.41 22.03 L374.89 22.03 L375.38 22.03 L375.87 22.03 L376.36 22.03 L376.84 22.03 L377.33 22.03 L377.82 22.04 L378.31 22.04 L378.79 22.04 L379.28 22.04 L379.77 22.04 L380.25 22.04 L380.74 22.04 L381.23 22.04 L381.72 22.04 L382.20 22.04 L382.69 22.04 L383.18 22.05 L383.67 22.05 L384.15 22.05 L384.64 22.05 L385.13 22.05 L385.62 22.05 L386.10 22.05 L386.59 22.05 L387.08 22.05 L387.57 22.06 L388.05 22.06 L388.54 22.06 L389.03 22.06 L389.52 22.06 L390.00 22.06 L390.49 22.07 L390.98 22.07 L391.47 22.07 L391.95 22.07 L392.44 22.07 L392.93 22.08 L393.42 22.08 L393.90 22.08 L394.39 22.09 L394.88 22.09 L395.37 22.09 L395.85 22.10 L396.34 22.10 L396.83 22.10 L397.32 22.11 L397.80 22.11 L398.29 22.12 L398.78 22.12 L399.27 22.13 L399.75 22.13 L400.24 22.14 L400.73 22.14 L401.22 22.15 L401.70 22.15 L402.19 22.16 L402.68 22.17 L403.17 22.17 L403.65 22.18 L404.14 22.19 L404.63 22.19 L405.12 22.20 L405.60 22.21 L406.09 22.22 L406.58 22.23 L407.07 22.24 L407.55 22.25 L408.04 22.26 L408.53 22.27 L409.02 22.28 L409.50 22.29 L409.99 22.30 L410.48 22.31 L410.97 22.32 L411.45 22.33 L411.94 22.34 L412.43 22.36 L412.92 22.37 L413.40 22.38 L413.89 22.40 L414.38 22.41 L414.86 22.43 L415.35 22.44 L415.84 22.46 L416.33 22.47 L416.81 22.49 L417.30 22.51 L417.79 22.52 L418.28 22.54 L418.76 22.56 L419.25 22.58 L419.74 22.60 L420.23 22.61 L420.71 22.63 L421.20 22.65 L421.69 22.68 L422.18 22.70 L422.66 22.72 L423.15 22.74 L423.64 22.76 L424.13 22.79 L424.61 22.81 L425.10 22.83 L425.59 22.86 L426.08 22.88 L426.56 22.91 L427.05 22.94 L427.54 22.96 L428.03 22.99 L428.51 23.02 L429.00 23.05 L429.49 23.08 L429.98 23.11 L430.46 23.14 L430.95 23.17 L431.44 23.20 L431.93 23.23 L432.41 23.26 L432.90 23.30 L433.39 23.33 L433.88 23.37 L434.36 23.40 L434.85 23.44 L435.34 23.47 L435.83 23.51 L436.31 23.55 L436.80 23.59 L437.29 23.62 L437.78 23.66 L438.26 23.70 L438.75 23.75 L439.24 23.79 L439.73 23.83 L440.21 23.87 L440.70 23.92 L441.19 23.96 L441.68 24.01 L442.16 24.05 L442.65 24.10 L443.14 24.15 L443.63 24.19 L444.11 24.24 L444.60 24.29 L445.09 24.34 L445.58 24.39 L446.06 24.44 L446.55 24.50 L447.04 24.55 L447.53 24.60 L448.01 24.66 L448.50 24.72" stroke="#000" stroke-width="1.35" stroke-dasharray="5.3 1.9 1.3 1.9"/>
<path d="M273.50 63.15 L273.99 63.38 L274.47 63.60 L274.96 63.83 L275.45 64.06 L275.94 64.29 L276.42 64.52 L276.91 64.75 L277.40 64.99 L277.89 65.22 L278.37 65.46 L278.86 65.70 L279.35 65.94 L279.84 66.19 L280.32 66.43 L280.81 66.68 L281.30 66.93 L281.79 67.18 L282.27 67.43 L282.76 67.68 L283.25 67.94 L283.74 68.19 L284.22 68.45 L284.71 68.71 L285.20 68.97 L285.69 69.24 L286.17 69.50 L286.66 69.77 L287.15 70.04 L287.64 70.31 L288.12 70.58 L288.61 70.85 L289.10 71.13 L289.59 71.41 L290.07 71.69 L290.56 71.97 L291.05 72.25 L291.54 72.54 L292.02 72.82 L292.51 73.11 L293.00 73.40 L293.49 73.70 L293.97 73.99 L294.46 74.29 L294.95 74.59 L295.44 74.89 L295.92 75.19 L296.41 75.50 L296.90 75.81 L297.39 76.12 L297.87 76.43 L298.36 76.74 L298.85 77.06 L299.34 77.38 L299.82 77.70 L300.31 78.02 L300.80 78.34 L301.29 78.67 L301.77 79.00 L302.26 79.33 L302.75 79.67 L303.24 80.01 L303.72 80.34 L304.21 80.69 L304.70 81.03 L305.19 81.38 L305.67 81.73 L306.16 82.08 L306.65 82.44 L307.14 82.80 L307.62 83.16 L308.11 83.52 L308.60 83.89 L309.08 84.26 L309.57 84.63 L310.06 85.00 L310.55 85.38 L311.03 85.76 L311.52 86.15 L312.01 86.54 L312.50 86.93 L312.98 87.32 L313.47 87.72 L313.96 88.12 L314.45 88.53 L314.93 88.94 L315.42 89.35 L315.91 89.76 L316.40 90.18 L316.88 90.61 L317.37 91.03 L317.86 91.47 L318.35 91.90 L318.83 92.34 L319.32 92.78 L319.81 93.23 L320.30 93.68 L320.78 94.14 L321.27 94.60 L321.76 95.06 L322.25 95.53 L322.73 96.01 L323.22 96.49 L323.71 96.97 L324.20 97.46 L324.68 97.96 L325.17 98.46 L325.66 98.96 L326.15 99.47 L326.63 99.99 L327.12 100.51 L327.61 101.03 L328.10 101.57 L328.58 102.11 L329.07 102.65 L329.56 103.20 L330.05 103.76 L330.53 104.32 L331.02 104.89 L331.51 105.47 L332.00 106.05 L332.48 106.64 L332.97 107.24 L333.46 107.84 L333.95 108.46 L334.43 109.08 L334.92 109.70 L335.41 110.34 L335.90 110.98 L336.38 111.63 L336.87 112.29 L337.36 112.96 L337.85 113.64 L338.33 114.32 L338.82 115.01 L339.31 115.72 L339.80 116.43 L340.28 117.15 L340.77 117.88 L341.26 118.62 L341.75 119.37 L342.23 120.13 L342.72 120.90 L343.21 121.69 L343.69 122.48 L344.18 123.28 L344.67 124.09 L345.16 124.91 L345.64 125.75 L346.13 126.59 L346.62 127.44 L347.11 128.31 L347.59 129.18 L348.08 130.07 L348.57 130.97 L349.06 131.87 L349.54 132.79 L350.03 133.71 L350.52 134.65 L351.01 135.59 L351.49 136.55 L351.98 137.50 L352.47 138.47 L352.96 139.44 L353.44 140.42 L353.93 141.40 L354.42 142.38 L354.91 143.36 L355.39 144.34 L355.88 145.32 L356.37 146.29 L356.86 147.26 L357.34 148.21 L357.83 149.14 L358.32 150.06 L358.81 150.96 L359.29 151.83 L359.78 152.67 L360.27 153.48 L360.76 154.25 L361.24 154.97 L361.73 155.64 L362.22 156.26 L362.71 156.82 L363.19 157.31 L363.68 157.73 L364.17 158.08 L364.66 158.35 L365.14 158.54 L365.63 158.64 L366.12 158.66 L366.61 158.60 L367.09 158.45 L367.58 158.21 L368.07 157.89 L368.56 157.49 L369.04 157.01 L369.53 156.46 L370.02 155.84 L370.51 155.16 L370.99 154.41 L371.48 153.61 L371.97 152.77 L372.46 151.88 L372.94 150.94 L373.43 149.98 L373.92 148.99 L374.41 147.97 L374.89 146.93 L375.38 145.87 L375.87 144.80 L376.36 143.72 L376.84 142.63 L377.33 141.53 L377.82 140.43 L378.31 139.33 L378.79 138.24 L379.28 137.14 L379.77 136.05 L380.25 134.96 L380.74 133.88 L381.23 132.81 L381.72 131.75 L382.20 130.69 L382.69 129.64 L383.18 128.61 L383.67 127.58 L384.15 126.56 L384.64 125.56 L385.13 124.56 L385.62 123.58 L386.10 122.61 L386.59 121.65 L387.08 120.70 L387.57 119.76 L388.05 118.83 L388.54 117.92 L389.03 117.01 L389.52 116.12 L390.00 115.24 L390.49 114.37 L390.98 113.51 L391.47 112.66 L391.95 111.82 L392.44 110.99 L392.93 110.18 L393.42 109.37 L393.90 108.57 L394.39 107.78 L394.88 107.00 L395.37 106.24 L395.85 105.48 L396.34 104.73 L396.83 103.99 L397.32 103.26 L397.80 102.54 L398.29 101.82 L398.78 101.12 L399.27 100.42 L399.75 99.74 L400.24 99.06 L400.73 98.39 L401.22 97.73 L401.70 97.07 L402.19 96.42 L402.68 95.79 L403.17 95.15 L403.65 94.53 L404.14 93.91 L404.63 93.30 L405.12 92.70 L405.60 92.11 L406.09 91.52 L406.58 90.94 L407.07 90.36 L407.55 89.80 L408.04 89.24 L408.53 88.68 L409.02 88.14 L409.50 87.59 L409.99 87.06 L410.48 86.53 L410.97 86.01 L411.45 85.49 L411.94 84.98 L412.43 84.48 L412.92 83.98 L413.40 83.49 L413.89 83.00 L414.38 82.52 L414.86 82.04 L415.35 81.57 L415.84 81.11 L416.33 80.65 L416.81 80.20 L417.30 79.75 L417.79 79.31 L418.28 78.87 L418.76 78.44 L419.25 78.02 L419.74 77.59 L420.23 77.18 L420.71 76.77 L421.20 76.36 L421.69 75.96 L422.18 75.57 L422.66 75.18 L423.15 74.79 L423.64 74.41 L424.13 74.04 L424.61 73.67 L425.10 73.30 L425.59 72.94 L426.08 72.58 L426.56 72.23 L427.05 71.89 L427.54 71.55 L428.03 71.21 L428.51 70.88 L429.00 70.55 L429.49 70.23 L429.98 69.91 L430.46 69.60 L430.95 69.29 L431.44 68.99 L431.93 68.69 L432.41 68.39 L432.90 68.10 L433.39 67.82 L433.88 67.54 L434.36 67.26 L434.85 66.99 L435.34 66.73 L435.83 66.47 L436.31 66.21 L436.80 65.96 L437.29 65.71 L437.78 65.47 L438.26 65.23 L438.75 65.00 L439.24 64.77 L439.73 64.55 L440.21 64.33 L440.70 64.12 L441.19 63.91 L441.68 63.70 L442.16 63.50 L442.65 63.31 L443.14 63.12 L443.63 62.94 L444.11 62.76 L444.60 62.58 L445.09 62.41 L445.58 62.25 L446.06 62.09 L446.55 61.93 L447.04 61.78 L447.53 61.64 L448.01 61.50 L448.50 61.37" stroke="#a8a8a8" stroke-width="1.20" stroke-dasharray="1.3 1.3"/>
<path d="M273.50 79.39 L273.99 79.62 L274.47 79.86 L274.96 80.10 L275.45 80.34 L275.94 80.59 L276.42 80.84 L276.91 81.10 L277.40 81.36 L277.89 81.62 L278.37 81.88 L278.86 82.15 L279.35 82.43 L279.84 82.70 L280.32 82.99 L280.81 83.27 L281.30 83.56 L281.79 83.85 L282.27 84.15 L282.76 84.45 L283.25 84.75 L283.74 85.06 L284.22 85.37 L284.71 85.69 L285.20 86.00 L285.69 86.33 L286.17 86.66 L286.66 86.99 L287.15 87.33 L287.64 87.67 L288.12 88.01 L288.61 88.36 L289.10 88.71 L289.59 89.07 L290.07 89.43 L290.56 89.80 L291.05 90.17 L291.54 90.55 L292.02 90.93 L292.51 91.32 L293.00 91.71 L293.49 92.10 L293.97 92.50 L294.46 92.91 L294.95 93.32 L295.44 93.73 L295.92 94.15 L296.41 94.58 L296.90 95.01 L297.39 95.45 L297.87 95.89 L298.36 96.33 L298.85 96.79 L299.34 97.25 L299.82 97.71 L300.31 98.18 L300.80 98.66 L301.29 99.14 L301.77 99.63 L302.26 100.12 L302.75 100.62 L303.24 101.13 L303.72 101.64 L304.21 102.16 L304.70 102.69 L305.19 103.22 L305.67 103.76 L306.16 104.31 L306.65 104.86 L307.14 105.43 L307.62 106.00 L308.11 106.57 L308.60 107.16 L309.08 107.75 L309.57 108.35 L310.06 108.96 L310.55 109.57 L311.03 110.20 L311.52 110.83 L312.01 111.47 L312.50 112.12 L312.98 112.78 L313.47 113.45 L313.96 114.13 L314.45 114.82 L314.93 115.51 L315.42 116.22 L315.91 116.93 L316.40 117.66 L316.88 118.40 L317.37 119.14 L317.86 119.90 L318.35 120.67 L318.83 121.45 L319.32 122.24 L319.81 123.04 L320.30 123.85 L320.78 124.67 L321.27 125.51 L321.76 126.36 L322.25 127.22 L322.73 128.09 L323.22 128.97 L323.71 129.86 L324.20 130.77 L324.68 131.69 L325.17 132.62 L325.66 133.56 L326.15 134.52 L326.63 135.48 L327.12 136.46 L327.61 137.45 L328.10 138.45 L328.58 139.46 L329.07 140.47 L329.56 141.50 L330.05 142.54 L330.53 143.58 L331.02 144.63 L331.51 145.68 L332.00 146.74 L332.48 147.80 L332.97 148.85 L333.46 149.91 L333.95 150.96 L334.43 152.00 L334.92 153.03 L335.41 154.05 L335.90 155.05 L336.38 156.02 L336.87 156.97 L337.36 157.89 L337.85 158.77 L338.33 159.60 L338.82 160.39 L339.31 161.13 L339.80 161.81 L340.28 162.42 L340.77 162.96 L341.26 163.42 L341.75 163.81 L342.23 164.11 L342.72 164.33 L343.21 164.45 L343.69 164.49 L344.18 164.43 L344.67 164.28 L345.16 164.04 L345.64 163.72 L346.13 163.31 L346.62 162.82 L347.11 162.25 L347.59 161.62 L348.08 160.92 L348.57 160.16 L349.06 159.35 L349.54 158.49 L350.03 157.59 L350.52 156.65 L351.01 155.68 L351.49 154.68 L351.98 153.66 L352.47 152.62 L352.96 151.57 L353.44 150.51 L353.93 149.44 L354.42 148.36 L354.91 147.28 L355.39 146.20 L355.88 145.12 L356.37 144.05 L356.86 142.98 L357.34 141.91 L357.83 140.85 L358.32 139.81 L358.81 138.76 L359.29 137.73 L359.78 136.71 L360.27 135.70 L360.76 134.70 L361.24 133.72 L361.73 132.74 L362.22 131.77 L362.71 130.82 L363.19 129.88 L363.68 128.95 L364.17 128.03 L364.66 127.13 L365.14 126.23 L365.63 125.35 L366.12 124.48 L366.61 123.62 L367.09 122.78 L367.58 121.94 L368.07 121.11 L368.56 120.30 L369.04 119.50 L369.53 118.71 L370.02 117.92 L370.51 117.15 L370.99 116.39 L371.48 115.64 L371.97 114.90 L372.46 114.17 L372.94 113.45 L373.43 112.73 L373.92 112.03 L374.41 111.34 L374.89 110.65 L375.38 109.97 L375.87 109.31 L376.36 108.65 L376.84 108.00 L377.33 107.35 L377.82 106.72 L378.31 106.09 L378.79 105.47 L379.28 104.86 L379.77 104.25 L380.25 103.66 L380.74 103.07 L381.23 102.48 L381.72 101.91 L382.20 101.34 L382.69 100.77 L383.18 100.22 L383.67 99.67 L384.15 99.12 L384.64 98.59 L385.13 98.06 L385.62 97.53 L386.10 97.01 L386.59 96.50 L387.08 95.99 L387.57 95.49 L388.05 94.99 L388.54 94.50 L389.03 94.02 L389.52 93.54 L390.00 93.06 L390.49 92.59 L390.98 92.13 L391.47 91.67 L391.95 91.21 L392.44 90.76 L392.93 90.32 L393.42 89.88 L393.90 89.44 L394.39 89.01 L394.88 88.58 L395.37 88.16 L395.85 87.74 L396.34 87.33 L396.83 86.92 L397.32 86.52 L397.80 86.11 L398.29 85.72 L398.78 85.32 L399.27 84.94 L399.75 84.55 L400.24 84.17 L400.73 83.79 L401.22 83.42 L401.70 83.05 L402.19 82.69 L402.68 82.32 L403.17 81.97 L403.65 81.61 L404.14 81.26 L404.63 80.91 L405.12 80.57 L405.60 80.23 L406.09 79.89 L406.58 79.56 L407.07 79.22 L407.55 78.90 L408.04 78.57 L408.53 78.25 L409.02 77.93 L409.50 77.62 L409.99 77.31 L410.48 77.00 L410.97 76.70 L411.45 76.39 L411.94 76.09 L412.43 75.80 L412.92 75.51 L413.40 75.22 L413.89 74.93 L414.38 74.64 L414.86 74.36 L415.35 74.08 L415.84 73.81 L416.33 73.54 L416.81 73.27 L417.30 73.00 L417.79 72.73 L418.28 72.47 L418.76 72.21 L419.25 71.96 L419.74 71.70 L420.23 71.45 L420.71 71.20 L421.20 70.96 L421.69 70.71 L422.18 70.47 L422.66 70.24 L423.15 70.00 L423.64 69.77 L424.13 69.54 L424.61 69.31 L425.10 69.08 L425.59 68.86 L426.08 68.64 L426.56 68.42 L427.05 68.21 L427.54 67.99 L428.03 67.78 L428.51 67.58 L429.00 67.37 L429.49 67.17 L429.98 66.97 L430.46 66.77 L430.95 66.57 L431.44 66.38 L431.93 66.19 L432.41 66.00 L432.90 65.81 L433.39 65.63 L433.88 65.44 L434.36 65.26 L434.85 65.09 L435.34 64.91 L435.83 64.74 L436.31 64.57 L436.80 64.40 L437.29 64.24 L437.78 64.07 L438.26 63.91 L438.75 63.75 L439.24 63.60 L439.73 63.44 L440.21 63.29 L440.70 63.14 L441.19 62.99 L441.68 62.85 L442.16 62.71 L442.65 62.57 L443.14 62.43 L443.63 62.29 L444.11 62.16 L444.60 62.03 L445.09 61.90 L445.58 61.77 L446.06 61.65 L446.55 61.53 L447.04 61.41 L447.53 61.29 L448.01 61.18 L448.50 61.06" stroke="#a8a8a8" stroke-width="1.30"/>
<path d="M273.50 63.69 L273.99 63.88 L274.47 64.08 L274.96 64.28 L275.45 64.49 L275.94 64.69 L276.42 64.90 L276.91 65.12 L277.40 65.33 L277.89 65.55 L278.37 65.77 L278.86 65.99 L279.35 66.22 L279.84 66.45 L280.32 66.68 L280.81 66.91 L281.30 67.15 L281.79 67.39 L282.27 67.63 L282.76 67.88 L283.25 68.13 L283.74 68.38 L284.22 68.63 L284.71 68.89 L285.20 69.15 L285.69 69.41 L286.17 69.67 L286.66 69.94 L287.15 70.21 L287.64 70.48 L288.12 70.76 L288.61 71.04 L289.10 71.32 L289.59 71.60 L290.07 71.89 L290.56 72.18 L291.05 72.48 L291.54 72.77 L292.02 73.07 L292.51 73.37 L293.00 73.68 L293.49 73.99 L293.97 74.30 L294.46 74.61 L294.95 74.93 L295.44 75.25 L295.92 75.57 L296.41 75.90 L296.90 76.23 L297.39 76.56 L297.87 76.90 L298.36 77.23 L298.85 77.58 L299.34 77.92 L299.82 78.27 L300.31 78.62 L300.80 78.98 L301.29 79.34 L301.77 79.70 L302.26 80.07 L302.75 80.44 L303.24 80.81 L303.72 81.19 L304.21 81.57 L304.70 81.95 L305.19 82.34 L305.67 82.73 L306.16 83.13 L306.65 83.53 L307.14 83.93 L307.62 84.34 L308.11 84.75 L308.60 85.17 L309.08 85.59 L309.57 86.01 L310.06 86.44 L310.55 86.87 L311.03 87.31 L311.52 87.75 L312.01 88.19 L312.50 88.64 L312.98 89.10 L313.47 89.56 L313.96 90.02 L314.45 90.49 L314.93 90.97 L315.42 91.44 L315.91 91.93 L316.40 92.42 L316.88 92.91 L317.37 93.41 L317.86 93.92 L318.35 94.43 L318.83 94.94 L319.32 95.46 L319.81 95.99 L320.30 96.53 L320.78 97.06 L321.27 97.61 L321.76 98.16 L322.25 98.72 L322.73 99.28 L323.22 99.85 L323.71 100.43 L324.20 101.01 L324.68 101.60 L325.17 102.20 L325.66 102.81 L326.15 103.42 L326.63 104.04 L327.12 104.66 L327.61 105.29 L328.10 105.94 L328.58 106.58 L329.07 107.24 L329.56 107.91 L330.05 108.58 L330.53 109.26 L331.02 109.95 L331.51 110.65 L332.00 111.35 L332.48 112.07 L332.97 112.79 L333.46 113.53 L333.95 114.27 L334.43 115.02 L334.92 115.78 L335.41 116.55 L335.90 117.33 L336.38 118.12 L336.87 118.92 L337.36 119.72 L337.85 120.54 L338.33 121.37 L338.82 122.20 L339.31 123.05 L339.80 123.90 L340.28 124.77 L340.77 125.64 L341.26 126.52 L341.75 127.41 L342.23 128.31 L342.72 129.21 L343.21 130.12 L343.69 131.04 L344.18 131.97 L344.67 132.90 L345.16 133.83 L345.64 134.77 L346.13 135.71 L346.62 136.65 L347.11 137.59 L347.59 138.52 L348.08 139.45 L348.57 140.38 L349.06 141.30 L349.54 142.20 L350.03 143.09 L350.52 143.97 L351.01 144.82 L351.49 145.65 L351.98 146.45 L352.47 147.23 L352.96 147.96 L353.44 148.66 L353.93 149.31 L354.42 149.92 L354.91 150.47 L355.39 150.97 L355.88 151.41 L356.37 151.78 L356.86 152.08 L357.34 152.32 L357.83 152.48 L358.32 152.57 L358.81 152.58 L359.29 152.51 L359.78 152.37 L360.27 152.16 L360.76 151.87 L361.24 151.51 L361.73 151.08 L362.22 150.58 L362.71 150.02 L363.19 149.41 L363.68 148.74 L364.17 148.02 L364.66 147.25 L365.14 146.45 L365.63 145.60 L366.12 144.73 L366.61 143.82 L367.09 142.89 L367.58 141.94 L368.07 140.97 L368.56 139.99 L369.04 138.99 L369.53 137.99 L370.02 136.97 L370.51 135.96 L370.99 134.93 L371.48 133.91 L371.97 132.89 L372.46 131.87 L372.94 130.85 L373.43 129.84 L373.92 128.83 L374.41 127.82 L374.89 126.83 L375.38 125.84 L375.87 124.86 L376.36 123.88 L376.84 122.92 L377.33 121.96 L377.82 121.01 L378.31 120.08 L378.79 119.15 L379.28 118.23 L379.77 117.32 L380.25 116.42 L380.74 115.53 L381.23 114.65 L381.72 113.78 L382.20 112.92 L382.69 112.07 L383.18 111.23 L383.67 110.40 L384.15 109.58 L384.64 108.77 L385.13 107.97 L385.62 107.17 L386.10 106.39 L386.59 105.62 L387.08 104.85 L387.57 104.10 L388.05 103.35 L388.54 102.61 L389.03 101.88 L389.52 101.16 L390.00 100.44 L390.49 99.74 L390.98 99.04 L391.47 98.35 L391.95 97.67 L392.44 96.99 L392.93 96.33 L393.42 95.67 L393.90 95.02 L394.39 94.37 L394.88 93.74 L395.37 93.11 L395.85 92.48 L396.34 91.87 L396.83 91.26 L397.32 90.66 L397.80 90.06 L398.29 89.47 L398.78 88.89 L399.27 88.31 L399.75 87.74 L400.24 87.18 L400.73 86.62 L401.22 86.07 L401.70 85.52 L402.19 84.98 L402.68 84.45 L403.17 83.92 L403.65 83.40 L404.14 82.88 L404.63 82.37 L405.12 81.86 L405.60 81.36 L406.09 80.86 L406.58 80.37 L407.07 79.89 L407.55 79.41 L408.04 78.93 L408.53 78.46 L409.02 78.00 L409.50 77.54 L409.99 77.08 L410.48 76.63 L410.97 76.18 L411.45 75.74 L411.94 75.31 L412.43 74.88 L412.92 74.45 L413.40 74.03 L413.89 73.61 L414.38 73.20 L414.86 72.79 L415.35 72.38 L415.84 71.98 L416.33 71.59 L416.81 71.20 L417.30 70.81 L417.79 70.43 L418.28 70.05 L418.76 69.68 L419.25 69.31 L419.74 68.94 L420.23 68.58 L420.71 68.22 L421.20 67.87 L421.69 67.52 L422.18 67.18 L422.66 66.84 L423.15 66.50 L423.64 66.17 L424.13 65.84 L424.61 65.52 L425.10 65.20 L425.59 64.88 L426.08 64.57 L426.56 64.26 L427.05 63.96 L427.54 63.66 L428.03 63.36 L428.51 63.07 L429.00 62.78 L429.49 62.50 L429.98 62.22 L430.46 61.94 L430.95 61.67 L431.44 61.40 L431.93 61.14 L432.41 60.88 L432.90 60.62 L433.39 60.37 L433.88 60.12 L434.36 59.88 L434.85 59.64 L435.34 59.40 L435.83 59.17 L436.31 58.94 L436.80 58.72 L437.29 58.50 L437.78 58.28 L438.26 58.07 L438.75 57.86 L439.24 57.66 L439.73 57.46 L440.21 57.26 L440.70 57.07 L441.19 56.88 L441.68 56.70 L442.16 56.52 L442.65 56.34 L443.14 56.17 L443.63 56.01 L444.11 55.85 L444.60 55.69 L445.09 55.53 L445.58 55.39 L446.06 55.24 L446.55 55.10 L447.04 54.97 L447.53 54.83 L448.01 54.71 L448.50 54.59" stroke="#000" stroke-width="1.50" stroke-dasharray="1.3 1.3"/>
<path d="M273.50 78.72 L273.99 78.99 L274.47 79.27 L274.96 79.55 L275.45 79.83 L275.94 80.12 L276.42 80.41 L276.91 80.70 L277.40 80.99 L277.89 81.29 L278.37 81.60 L278.86 81.90 L279.35 82.21 L279.84 82.52 L280.32 82.84 L280.81 83.16 L281.30 83.48 L281.79 83.81 L282.27 84.14 L282.76 84.47 L283.25 84.81 L283.74 85.15 L284.22 85.50 L284.71 85.85 L285.20 86.20 L285.69 86.56 L286.17 86.92 L286.66 87.29 L287.15 87.66 L287.64 88.03 L288.12 88.41 L288.61 88.79 L289.10 89.17 L289.59 89.57 L290.07 89.96 L290.56 90.36 L291.05 90.76 L291.54 91.17 L292.02 91.59 L292.51 92.00 L293.00 92.43 L293.49 92.85 L293.97 93.29 L294.46 93.72 L294.95 94.17 L295.44 94.61 L295.92 95.06 L296.41 95.52 L296.90 95.99 L297.39 96.45 L297.87 96.93 L298.36 97.41 L298.85 97.89 L299.34 98.38 L299.82 98.88 L300.31 99.38 L300.80 99.89 L301.29 100.40 L301.77 100.92 L302.26 101.44 L302.75 101.98 L303.24 102.51 L303.72 103.06 L304.21 103.61 L304.70 104.17 L305.19 104.73 L305.67 105.30 L306.16 105.88 L306.65 106.46 L307.14 107.06 L307.62 107.65 L308.11 108.26 L308.60 108.87 L309.08 109.49 L309.57 110.12 L310.06 110.76 L310.55 111.40 L311.03 112.05 L311.52 112.71 L312.01 113.37 L312.50 114.05 L312.98 114.73 L313.47 115.42 L313.96 116.12 L314.45 116.82 L314.93 117.54 L315.42 118.26 L315.91 118.99 L316.40 119.73 L316.88 120.47 L317.37 121.23 L317.86 121.99 L318.35 122.76 L318.83 123.54 L319.32 124.32 L319.81 125.12 L320.30 125.92 L320.78 126.73 L321.27 127.54 L321.76 128.36 L322.25 129.19 L322.73 130.03 L323.22 130.87 L323.71 131.71 L324.20 132.56 L324.68 133.41 L325.17 134.27 L325.66 135.12 L326.15 135.98 L326.63 136.84 L327.12 137.70 L327.61 138.55 L328.10 139.40 L328.58 140.25 L329.07 141.09 L329.56 141.92 L330.05 142.74 L330.53 143.54 L331.02 144.33 L331.51 145.11 L332.00 145.86 L332.48 146.59 L332.97 147.30 L333.46 147.98 L333.95 148.62 L334.43 149.23 L334.92 149.81 L335.41 150.34 L335.90 150.83 L336.38 151.27 L336.87 151.67 L337.36 152.01 L337.85 152.30 L338.33 152.53 L338.82 152.71 L339.31 152.82 L339.80 152.88 L340.28 152.88 L340.77 152.82 L341.26 152.69 L341.75 152.51 L342.23 152.27 L342.72 151.98 L343.21 151.63 L343.69 151.23 L344.18 150.79 L344.67 150.29 L345.16 149.75 L345.64 149.18 L346.13 148.56 L346.62 147.91 L347.11 147.23 L347.59 146.52 L348.08 145.78 L348.57 145.02 L349.06 144.25 L349.54 143.45 L350.03 142.64 L350.52 141.82 L351.01 140.98 L351.49 140.14 L351.98 139.29 L352.47 138.44 L352.96 137.58 L353.44 136.72 L353.93 135.85 L354.42 134.99 L354.91 134.13 L355.39 133.27 L355.88 132.42 L356.37 131.56 L356.86 130.72 L357.34 129.87 L357.83 129.03 L358.32 128.20 L358.81 127.38 L359.29 126.56 L359.78 125.74 L360.27 124.94 L360.76 124.14 L361.24 123.35 L361.73 122.57 L362.22 121.79 L362.71 121.02 L363.19 120.27 L363.68 119.51 L364.17 118.77 L364.66 118.04 L365.14 117.31 L365.63 116.59 L366.12 115.88 L366.61 115.17 L367.09 114.48 L367.58 113.79 L368.07 113.11 L368.56 112.44 L369.04 111.78 L369.53 111.12 L370.02 110.47 L370.51 109.83 L370.99 109.19 L371.48 108.57 L371.97 107.95 L372.46 107.33 L372.94 106.73 L373.43 106.13 L373.92 105.54 L374.41 104.95 L374.89 104.37 L375.38 103.80 L375.87 103.23 L376.36 102.68 L376.84 102.12 L377.33 101.58 L377.82 101.04 L378.31 100.50 L378.79 99.97 L379.28 99.45 L379.77 98.93 L380.25 98.42 L380.74 97.91 L381.23 97.41 L381.72 96.92 L382.20 96.43 L382.69 95.95 L383.18 95.47 L383.67 94.99 L384.15 94.52 L384.64 94.06 L385.13 93.60 L385.62 93.15 L386.10 92.70 L386.59 92.25 L387.08 91.81 L387.57 91.38 L388.05 90.95 L388.54 90.52 L389.03 90.10 L389.52 89.68 L390.00 89.27 L390.49 88.86 L390.98 88.45 L391.47 88.05 L391.95 87.66 L392.44 87.26 L392.93 86.88 L393.42 86.49 L393.90 86.11 L394.39 85.73 L394.88 85.36 L395.37 84.99 L395.85 84.62 L396.34 84.26 L396.83 83.90 L397.32 83.54 L397.80 83.19 L398.29 82.84 L398.78 82.50 L399.27 82.16 L399.75 81.82 L400.24 81.48 L400.73 81.15 L401.22 80.82 L401.70 80.49 L402.19 80.17 L402.68 79.85 L403.17 79.53 L403.65 79.22 L404.14 78.91 L404.63 78.60 L405.12 78.29 L405.60 77.99 L406.09 77.69 L406.58 77.40 L407.07 77.10 L407.55 76.81 L408.04 76.52 L408.53 76.24 L409.02 75.95 L409.50 75.67 L409.99 75.39 L410.48 75.12 L410.97 74.84 L411.45 74.57 L411.94 74.31 L412.43 74.04 L412.92 73.78 L413.40 73.52 L413.89 73.26 L414.38 73.00 L414.86 72.75 L415.35 72.49 L415.84 72.24 L416.33 72.00 L416.81 71.75 L417.30 71.51 L417.79 71.27 L418.28 71.03 L418.76 70.79 L419.25 70.56 L419.74 70.33 L420.23 70.10 L420.71 69.87 L421.20 69.64 L421.69 69.42 L422.18 69.19 L422.66 68.97 L423.15 68.76 L423.64 68.54 L424.13 68.32 L424.61 68.11 L425.10 67.90 L425.59 67.69 L426.08 67.48 L426.56 67.28 L427.05 67.07 L427.54 66.87 L428.03 66.67 L428.51 66.47 L429.00 66.28 L429.49 66.08 L429.98 65.89 L430.46 65.70 L430.95 65.51 L431.44 65.32 L431.93 65.13 L432.41 64.95 L432.90 64.76 L433.39 64.58 L433.88 64.40 L434.36 64.22 L434.85 64.04 L435.34 63.87 L435.83 63.69 L436.31 63.52 L436.80 63.35 L437.29 63.18 L437.78 63.01 L438.26 62.84 L438.75 62.68 L439.24 62.51 L439.73 62.35 L440.21 62.19 L440.70 62.03 L441.19 61.87 L441.68 61.71 L442.16 61.55 L442.65 61.40 L443.14 61.24 L443.63 61.09 L444.11 60.94 L444.60 60.79 L445.09 60.64 L445.58 60.49 L446.06 60.35 L446.55 60.20 L447.04 60.06 L447.53 59.92 L448.01 59.77 L448.50 59.63" stroke="#000" stroke-width="1.40"/>
</g>
<path clip-path="url(#o1_0)" d="M273.50 24.89 L273.99 24.87 L274.47 24.85 L274.96 24.82 L275.45 24.80 L275.94 24.78 L276.42 24.75 L276.91 24.73 L277.40 24.71 L277.89 24.69 L278.37 24.66 L278.86 24.64 L279.35 24.62 L279.84 24.59 L280.32 24.57 L280.81 24.55 L281.30 24.53 L281.79 24.50 L282.27 24.48 L282.76 24.46 L283.25 24.43 L283.74 24.41 L284.22 24.39 L284.71 24.36 L285.20 24.34 L285.69 24.32 L286.17 24.29 L286.66 24.27 L287.15 24.25 L287.64 24.22 L288.12 24.20 L288.61 24.18 L289.10 24.15 L289.59 24.13 L290.07 24.11 L290.56 24.08 L291.05 24.06 L291.54 24.04 L292.02 24.01 L292.51 23.99 L293.00 23.97 L293.49 23.95 L293.97 23.92 L294.46 23.90 L294.95 23.88 L295.44 23.85 L295.92 23.83 L296.41 23.81 L296.90 23.78 L297.39 23.76 L297.87 23.74 L298.36 23.72 L298.85 23.69 L299.34 23.67 L299.82 23.65 L300.31 23.63 L300.80 23.60 L301.29 23.58 L301.77 23.56 L302.26 23.54 L302.75 23.51 L303.24 23.49 L303.72 23.47 L304.21 23.45 L304.70 23.43 L305.19 23.41 L305.67 23.38 L306.16 23.36 L306.65 23.34 L307.14 23.32 L307.62 23.30 L308.11 23.28 L308.60 23.26 L309.08 23.23 L309.57 23.21 L310.06 23.19 L310.55 23.17 L311.03 23.15 L311.52 23.13 L312.01 23.11 L312.50 23.09 L312.98 23.07 L313.47 23.05 L313.96 23.03 L314.45 23.01 L314.93 22.99 L315.42 22.97 L315.91 22.95 L316.40 22.93 L316.88 22.91 L317.37 22.90 L317.86 22.88 L318.35 22.86 L318.83 22.84 L319.32 22.82 L319.81 22.80 L320.30 22.79 L320.78 22.77 L321.27 22.75 L321.76 22.73 L322.25 22.71 L322.73 22.70 L323.22 22.68 L323.71 22.66 L324.20 22.65 L324.68 22.63 L325.17 22.61 L325.66 22.60 L326.15 22.58 L326.63 22.57 L327.12 22.55 L327.61 22.54 L328.10 22.52 L328.58 22.51 L329.07 22.49 L329.56 22.48 L330.05 22.46 L330.53 22.45 L331.02 22.43 L331.51 22.42 L332.00 22.41 L332.48 22.39 L332.97 22.38 L333.46 22.37 L333.95 22.35 L334.43 22.34 L334.92 22.33 L335.41 22.32 L335.90 22.31 L336.38 22.29 L336.87 22.28 L337.36 22.27 L337.85 22.26 L338.33 22.25 L338.82 22.24 L339.31 22.23 L339.80 22.22 L340.28 22.21 L340.77 22.20 L341.26 22.19 L341.75 22.18 L342.23 22.17 L342.72 22.17 L343.21 22.16 L343.69 22.15 L344.18 22.14 L344.67 22.14 L345.16 22.13 L345.64 22.12 L346.13 22.12 L346.62 22.11 L347.11 22.10 L347.59 22.10 L348.08 22.09 L348.57 22.09 L349.06 22.08 L349.54 22.08 L350.03 22.07 L350.52 22.07 L351.01 22.06 L351.49 22.06 L351.98 22.06 L352.47 22.05 L352.96 22.05 L353.44 22.05 L353.93 22.04 L354.42 22.04 L354.91 22.04 L355.39 22.03 L355.88 22.03 L356.37 22.03 L356.86 22.03 L357.34 22.03 L357.83 22.02 L358.32 22.02 L358.81 22.02 L359.29 22.02 L359.78 22.02 L360.27 22.02 L360.76 22.02 L361.24 22.02 L361.73 22.02 L362.22 22.02 L362.71 22.02 L363.19 22.02 L363.68 22.01 L364.17 22.01 L364.66 22.01 L365.14 22.01 L365.63 22.02 L366.12 22.02 L366.61 22.02 L367.09 22.02 L367.58 22.02 L368.07 22.02 L368.56 22.02 L369.04 22.02 L369.53 22.02 L370.02 22.02 L370.51 22.02 L370.99 22.02 L371.48 22.02 L371.97 22.02 L372.46 22.02 L372.94 22.03 L373.43 22.03 L373.92 22.03 L374.41 22.03 L374.89 22.03 L375.38 22.03 L375.87 22.03 L376.36 22.03 L376.84 22.03 L377.33 22.03 L377.82 22.04 L378.31 22.04 L378.79 22.04 L379.28 22.04 L379.77 22.04 L380.25 22.04 L380.74 22.04 L381.23 22.04 L381.72 22.04 L382.20 22.04 L382.69 22.04 L383.18 22.05 L383.67 22.05 L384.15 22.05 L384.64 22.05 L385.13 22.05 L385.62 22.05 L386.10 22.05 L386.59 22.05 L387.08 22.05 L387.57 22.06 L388.05 22.06 L388.54 22.06 L389.03 22.06 L389.52 22.06 L390.00 22.06 L390.49 22.07 L390.98 22.07 L391.47 22.07 L391.95 22.07 L392.44 22.07 L392.93 22.08 L393.42 22.08 L393.90 22.08 L394.39 22.09 L394.88 22.09 L395.37 22.09 L395.85 22.10 L396.34 22.10 L396.83 22.10 L397.32 22.11 L397.80 22.11 L398.29 22.12 L398.78 22.12 L399.27 22.13 L399.75 22.13 L400.24 22.14 L400.73 22.14 L401.22 22.15 L401.70 22.15 L402.19 22.16 L402.68 22.17 L403.17 22.17 L403.65 22.18 L404.14 22.19 L404.63 22.19 L405.12 22.20 L405.60 22.21 L406.09 22.22 L406.58 22.23 L407.07 22.24 L407.55 22.25 L408.04 22.26 L408.53 22.27 L409.02 22.28 L409.50 22.29 L409.99 22.30 L410.48 22.31 L410.97 22.32 L411.45 22.33 L411.94 22.34 L412.43 22.36 L412.92 22.37 L413.40 22.38 L413.89 22.40 L414.38 22.41 L414.86 22.43 L415.35 22.44 L415.84 22.46 L416.33 22.47 L416.81 22.49 L417.30 22.51 L417.79 22.52 L418.28 22.54 L418.76 22.56 L419.25 22.58 L419.74 22.60 L420.23 22.61 L420.71 22.63 L421.20 22.65 L421.69 22.68 L422.18 22.70 L422.66 22.72 L423.15 22.74 L423.64 22.76 L424.13 22.79 L424.61 22.81 L425.10 22.83 L425.59 22.86 L426.08 22.88 L426.56 22.91 L427.05 22.94 L427.54 22.96 L428.03 22.99 L428.51 23.02 L429.00 23.05 L429.49 23.08 L429.98 23.11 L430.46 23.14 L430.95 23.17 L431.44 23.20 L431.93 23.23 L432.41 23.26 L432.90 23.30 L433.39 23.33 L433.88 23.37 L434.36 23.40 L434.85 23.44 L435.34 23.47 L435.83 23.51 L436.31 23.55 L436.80 23.59 L437.29 23.62 L437.78 23.66 L438.26 23.70 L438.75 23.75 L439.24 23.79 L439.73 23.83 L440.21 23.87 L440.70 23.92 L441.19 23.96 L441.68 24.01 L442.16 24.05 L442.65 24.10 L443.14 24.15 L443.63 24.19 L444.11 24.24 L444.60 24.29 L445.09 24.34 L445.58 24.39 L446.06 24.44 L446.55 24.50 L447.04 24.55 L447.53 24.60 L448.01 24.66 L448.50 24.72" stroke="#a8a8a8" stroke-width="1.30" stroke-dasharray="5.3 1.9 1.3 1.9" fill="none"/>
<path d="M273.50 209.30 v-2.00 M273.50 5.50 v2.00 M308.50 209.30 v-2.00 M308.50 5.50 v2.00 M343.50 209.30 v-2.00 M343.50 5.50 v2.00 M378.50 209.30 v-2.00 M378.50 5.50 v2.00 M413.50 209.30 v-2.00 M413.50 5.50 v2.00 M273.50 5.50 h2.00 M448.50 5.50 h-2.00 M273.50 34.61 h2.00 M448.50 34.61 h-2.00 M273.50 63.73 h2.00 M448.50 63.73 h-2.00 M273.50 92.84 h2.00 M448.50 92.84 h-2.00 M273.50 121.96 h2.00 M448.50 121.96 h-2.00 M273.50 151.07 h2.00 M448.50 151.07 h-2.00 M273.50 180.19 h2.00 M448.50 180.19 h-2.00 M273.50 209.30 h2.00 M448.50 209.30 h-2.00" stroke="#606060" stroke-width="0.9" fill="none"/>
<rect x="273.50" y="5.50" width="175.00" height="203.80" fill="none" stroke="#606060" stroke-width="0.95"/>
<g font-family="'Liberation Serif','Times New Roman',serif" font-size="12" fill="#000">
<text x="269.30" y="10.20" text-anchor="end">0</text>
<text x="269.30" y="39.31" text-anchor="end">-5</text>
<text x="269.30" y="68.43" text-anchor="end">-10</text>
<text x="269.30" y="97.54" text-anchor="end">-15</text>
<text x="269.30" y="126.66" text-anchor="end">-20</text>
<text x="269.30" y="155.77" text-anchor="end">-25</text>
<text x="269.30" y="184.89" text-anchor="end">-30</text>
<text x="269.30" y="214.00" text-anchor="end">-35</text>
<text x="273.70" y="224.80" text-anchor="middle">1.3</text>
<text x="308.70" y="224.80" text-anchor="middle">1.4</text>
<text x="343.70" y="224.80" text-anchor="middle">1.5</text>
<text x="378.70" y="224.80" text-anchor="middle">1.6</text>
<text x="413.70" y="224.80" text-anchor="middle">1.7</text>
</g>
<g font-family="'Liberation Serif','Times New Roman',serif" font-size="13.3" fill="#000">
<text x="361.00" y="241.00" text-anchor="middle">Frequency [GHz]</text>
<text transform="translate(248.10 107.40) rotate(-90)" text-anchor="middle">S-parameters [dB]</text>
</g>
<text x="352.70" y="278.00" text-anchor="middle" font-family="'Liberation Serif','Times New Roman',serif" font-size="15.6" fill="#000">(b)</text>
<rect x="388.70" y="128.60" width="54.00" height="73.90" fill="#fff" stroke="#555" stroke-width="0.9"/>
<path d="M391.20 138.80 H417.40" stroke="#000" stroke-width="1.7" fill="none" stroke-dasharray="1.3 1.3"/>
<text font-family="'Liberation Serif','Times New Roman',serif" font-size="12.4" y="141.60"><tspan x="420.40" text-anchor="middle" fill="#333">|</tspan><tspan x="421.50" font-style="italic" fill="#000">S</tspan><tspan x="428.10" dy="5.7" font-size="8.4" fill="#000">11</tspan><tspan x="438.00" dy="-5.7" text-anchor="middle" fill="#666">|</tspan></text>
<path d="M391.20 156.80 H417.40" stroke="#000" stroke-width="1.4" fill="none" stroke-dasharray="5.8 4.6"/>
<text font-family="'Liberation Serif','Times New Roman',serif" font-size="12.4" y="159.60"><tspan x="420.40" text-anchor="middle" fill="#333">|</tspan><tspan x="421.50" font-style="italic" fill="#000">S</tspan><tspan x="428.10" dy="5.7" font-size="8.4" fill="#000">21</tspan><tspan x="438.00" dy="-5.7" text-anchor="middle" fill="#666">|</tspan></text>
<path d="M391.20 174.50 H417.40" stroke="#000" stroke-width="1.4" fill="none" stroke-dasharray="5.8 4.6"/>
<text font-family="'Liberation Serif','Times New Roman',serif" font-size="12.4" y="177.30"><tspan x="420.40" text-anchor="middle" fill="#333">|</tspan><tspan x="421.50" font-style="italic" fill="#000">S</tspan><tspan x="428.10" dy="5.7" font-size="8.4" fill="#000">31</tspan><tspan x="438.00" dy="-5.7" text-anchor="middle" fill="#666">|</tspan></text>
<path d="M391.20 192.40 H417.40" stroke="#000" stroke-width="1.4" fill="none"/>
<text font-family="'Liberation Serif','Times New Roman',serif" font-size="12.4" y="195.20"><tspan x="420.40" text-anchor="middle" fill="#333">|</tspan><tspan x="421.50" font-style="italic" fill="#000">S</tspan><tspan x="428.10" dy="5.7" font-size="8.4" fill="#000">41</tspan><tspan x="438.00" dy="-5.7" text-anchor="middle" fill="#666">|</tspan></text>
<path d="M544.50 5.50 V209.30 M579.50 5.50 V209.30 M614.50 5.50 V209.30 M649.50 5.50 V209.30 M509.50 34.61 H684.50 M509.50 63.73 H684.50 M509.50 92.84 H684.50 M509.50 121.96 H684.50 M509.50 151.07 H684.50 M509.50 180.19 H684.50" stroke="#e2e2e2" stroke-width="0.7" fill="none"/>
<g clip-path="url(#c2)" fill="none">
<path d="M509.50 33.16 L509.99 33.09 L510.47 33.02 L510.96 32.95 L511.45 32.89 L511.94 32.82 L512.42 32.75 L512.91 32.68 L513.40 32.61 L513.89 32.55 L514.37 32.48 L514.86 32.41 L515.35 32.34 L515.84 32.27 L516.32 32.21 L516.81 32.14 L517.30 32.07 L517.79 32.00 L518.27 31.93 L518.76 31.87 L519.25 31.80 L519.74 31.73 L520.22 31.66 L520.71 31.59 L521.20 31.53 L521.69 31.46 L522.17 31.39 L522.66 31.33 L523.15 31.26 L523.64 31.19 L524.12 31.12 L524.61 31.06 L525.10 30.99 L525.59 30.92 L526.07 30.86 L526.56 30.79 L527.05 30.73 L527.54 30.66 L528.02 30.59 L528.51 30.53 L529.00 30.46 L529.49 30.40 L529.97 30.33 L530.46 30.27 L530.95 30.20 L531.44 30.14 L531.92 30.07 L532.41 30.01 L532.90 29.95 L533.39 29.88 L533.87 29.82 L534.36 29.76 L534.85 29.69 L535.34 29.63 L535.82 29.57 L536.31 29.51 L536.80 29.44 L537.29 29.38 L537.77 29.32 L538.26 29.26 L538.75 29.20 L539.24 29.14 L539.72 29.08 L540.21 29.02 L540.70 28.96 L541.19 28.90 L541.67 28.84 L542.16 28.78 L542.65 28.72 L543.14 28.66 L543.62 28.60 L544.11 28.55 L544.60 28.49 L545.08 28.43 L545.57 28.38 L546.06 28.32 L546.55 28.26 L547.03 28.21 L547.52 28.15 L548.01 28.10 L548.50 28.04 L548.98 27.99 L549.47 27.94 L549.96 27.88 L550.45 27.83 L550.93 27.78 L551.42 27.72 L551.91 27.67 L552.40 27.62 L552.88 27.57 L553.37 27.52 L553.86 27.47 L554.35 27.42 L554.83 27.37 L555.32 27.32 L555.81 27.27 L556.30 27.23 L556.78 27.18 L557.27 27.13 L557.76 27.09 L558.25 27.04 L558.73 27.00 L559.22 26.95 L559.71 26.91 L560.20 26.86 L560.68 26.82 L561.17 26.78 L561.66 26.73 L562.15 26.69 L562.63 26.65 L563.12 26.61 L563.61 26.57 L564.10 26.53 L564.58 26.49 L565.07 26.45 L565.56 26.41 L566.05 26.38 L566.53 26.34 L567.02 26.30 L567.51 26.27 L568.00 26.23 L568.48 26.20 L568.97 26.16 L569.46 26.13 L569.95 26.10 L570.43 26.07 L570.92 26.04 L571.41 26.00 L571.90 25.97 L572.38 25.94 L572.87 25.92 L573.36 25.89 L573.85 25.86 L574.33 25.83 L574.82 25.81 L575.31 25.78 L575.80 25.76 L576.28 25.73 L576.77 25.71 L577.26 25.69 L577.75 25.66 L578.23 25.64 L578.72 25.62 L579.21 25.60 L579.69 25.58 L580.18 25.56 L580.67 25.54 L581.16 25.53 L581.64 25.51 L582.13 25.49 L582.62 25.48 L583.11 25.47 L583.59 25.45 L584.08 25.44 L584.57 25.43 L585.06 25.41 L585.54 25.40 L586.03 25.39 L586.52 25.38 L587.01 25.37 L587.49 25.37 L587.98 25.36 L588.47 25.35 L588.96 25.35 L589.44 25.34 L589.93 25.33 L590.42 25.33 L590.91 25.33 L591.39 25.32 L591.88 25.32 L592.37 25.32 L592.86 25.32 L593.34 25.32 L593.83 25.32 L594.32 25.32 L594.81 25.32 L595.29 25.32 L595.78 25.33 L596.27 25.33 L596.76 25.33 L597.24 25.34 L597.73 25.34 L598.22 25.35 L598.71 25.36 L599.19 25.36 L599.68 25.37 L600.17 25.38 L600.66 25.39 L601.14 25.40 L601.63 25.41 L602.12 25.42 L602.61 25.43 L603.09 25.44 L603.58 25.45 L604.07 25.47 L604.56 25.48 L605.04 25.49 L605.53 25.51 L606.02 25.52 L606.51 25.54 L606.99 25.56 L607.48 25.57 L607.97 25.59 L608.46 25.61 L608.94 25.63 L609.43 25.65 L609.92 25.67 L610.41 25.69 L610.89 25.71 L611.38 25.73 L611.87 25.75 L612.36 25.77 L612.84 25.80 L613.33 25.82 L613.82 25.85 L614.31 25.87 L614.79 25.90 L615.28 25.92 L615.77 25.95 L616.25 25.97 L616.74 26.00 L617.23 26.03 L617.72 26.06 L618.20 26.09 L618.69 26.11 L619.18 26.14 L619.67 26.17 L620.15 26.21 L620.64 26.24 L621.13 26.27 L621.62 26.30 L622.10 26.33 L622.59 26.37 L623.08 26.40 L623.57 26.43 L624.05 26.47 L624.54 26.50 L625.03 26.54 L625.52 26.57 L626.00 26.61 L626.49 26.65 L626.98 26.68 L627.47 26.72 L627.95 26.76 L628.44 26.80 L628.93 26.83 L629.42 26.87 L629.90 26.91 L630.39 26.95 L630.88 26.99 L631.37 27.03 L631.85 27.08 L632.34 27.12 L632.83 27.16 L633.32 27.20 L633.80 27.24 L634.29 27.29 L634.78 27.33 L635.27 27.37 L635.75 27.42 L636.24 27.46 L636.73 27.51 L637.22 27.55 L637.70 27.60 L638.19 27.64 L638.68 27.69 L639.17 27.74 L639.65 27.78 L640.14 27.83 L640.63 27.88 L641.12 27.92 L641.60 27.97 L642.09 28.02 L642.58 28.07 L643.07 28.12 L643.55 28.17 L644.04 28.22 L644.53 28.27 L645.02 28.32 L645.50 28.37 L645.99 28.42 L646.48 28.47 L646.97 28.52 L647.45 28.57 L647.94 28.62 L648.43 28.68 L648.92 28.73 L649.40 28.78 L649.89 28.83 L650.38 28.89 L650.86 28.94 L651.35 28.99 L651.84 29.05 L652.33 29.10 L652.81 29.16 L653.30 29.21 L653.79 29.26 L654.28 29.32 L654.76 29.37 L655.25 29.43 L655.74 29.49 L656.23 29.54 L656.71 29.60 L657.20 29.65 L657.69 29.71 L658.18 29.77 L658.66 29.82 L659.15 29.88 L659.64 29.94 L660.13 29.99 L660.61 30.05 L661.10 30.11 L661.59 30.17 L662.08 30.22 L662.56 30.28 L663.05 30.34 L663.54 30.40 L664.03 30.46 L664.51 30.51 L665.00 30.57 L665.49 30.63 L665.98 30.69 L666.46 30.75 L666.95 30.81 L667.44 30.87 L667.93 30.93 L668.41 30.99 L668.90 31.05 L669.39 31.11 L669.88 31.17 L670.36 31.23 L670.85 31.29 L671.34 31.35 L671.83 31.41 L672.31 31.47 L672.80 31.53 L673.29 31.59 L673.78 31.65 L674.26 31.71 L674.75 31.77 L675.24 31.83 L675.73 31.89 L676.21 31.95 L676.70 32.01 L677.19 32.07 L677.68 32.13 L678.16 32.19 L678.65 32.25 L679.14 32.31 L679.63 32.38 L680.11 32.44 L680.60 32.50 L681.09 32.56 L681.58 32.62 L682.06 32.68 L682.55 32.74 L683.04 32.80 L683.53 32.86 L684.01 32.92 L684.50 32.98" stroke="#a8a8a8" stroke-width="1.00" stroke-dasharray="5.8 4.6"/>
<path d="M509.50 22.74 L509.99 22.72 L510.47 22.70 L510.96 22.67 L511.45 22.65 L511.94 22.63 L512.42 22.61 L512.91 22.59 L513.40 22.57 L513.89 22.55 L514.37 22.53 L514.86 22.51 L515.35 22.48 L515.84 22.46 L516.32 22.44 L516.81 22.42 L517.30 22.40 L517.79 22.37 L518.27 22.35 L518.76 22.33 L519.25 22.31 L519.74 22.28 L520.22 22.26 L520.71 22.24 L521.20 22.22 L521.69 22.19 L522.17 22.17 L522.66 22.15 L523.15 22.13 L523.64 22.10 L524.12 22.08 L524.61 22.06 L525.10 22.03 L525.59 22.01 L526.07 21.99 L526.56 21.97 L527.05 21.94 L527.54 21.92 L528.02 21.90 L528.51 21.87 L529.00 21.85 L529.49 21.83 L529.97 21.81 L530.46 21.78 L530.95 21.76 L531.44 21.74 L531.92 21.71 L532.41 21.69 L532.90 21.67 L533.39 21.65 L533.87 21.62 L534.36 21.60 L534.85 21.58 L535.34 21.56 L535.82 21.54 L536.31 21.51 L536.80 21.49 L537.29 21.47 L537.77 21.45 L538.26 21.43 L538.75 21.41 L539.24 21.38 L539.72 21.36 L540.21 21.34 L540.70 21.32 L541.19 21.30 L541.67 21.28 L542.16 21.26 L542.65 21.24 L543.14 21.22 L543.62 21.20 L544.11 21.18 L544.60 21.16 L545.08 21.14 L545.57 21.12 L546.06 21.10 L546.55 21.08 L547.03 21.06 L547.52 21.05 L548.01 21.03 L548.50 21.01 L548.98 20.99 L549.47 20.97 L549.96 20.96 L550.45 20.94 L550.93 20.92 L551.42 20.91 L551.91 20.89 L552.40 20.87 L552.88 20.86 L553.37 20.84 L553.86 20.83 L554.35 20.81 L554.83 20.80 L555.32 20.78 L555.81 20.77 L556.30 20.75 L556.78 20.74 L557.27 20.73 L557.76 20.71 L558.25 20.70 L558.73 20.69 L559.22 20.68 L559.71 20.67 L560.20 20.65 L560.68 20.64 L561.17 20.63 L561.66 20.62 L562.15 20.61 L562.63 20.60 L563.12 20.59 L563.61 20.58 L564.10 20.58 L564.58 20.57 L565.07 20.56 L565.56 20.55 L566.05 20.55 L566.53 20.54 L567.02 20.53 L567.51 20.53 L568.00 20.52 L568.48 20.52 L568.97 20.51 L569.46 20.51 L569.95 20.50 L570.43 20.50 L570.92 20.50 L571.41 20.49 L571.90 20.49 L572.38 20.49 L572.87 20.49 L573.36 20.49 L573.85 20.49 L574.33 20.49 L574.82 20.49 L575.31 20.49 L575.80 20.49 L576.28 20.50 L576.77 20.50 L577.26 20.50 L577.75 20.51 L578.23 20.51 L578.72 20.51 L579.21 20.52 L579.69 20.53 L580.18 20.53 L580.67 20.54 L581.16 20.55 L581.64 20.55 L582.13 20.56 L582.62 20.57 L583.11 20.58 L583.59 20.59 L584.08 20.60 L584.57 20.61 L585.06 20.62 L585.54 20.63 L586.03 20.65 L586.52 20.66 L587.01 20.67 L587.49 20.68 L587.98 20.70 L588.47 20.71 L588.96 20.73 L589.44 20.74 L589.93 20.76 L590.42 20.77 L590.91 20.79 L591.39 20.80 L591.88 20.82 L592.37 20.84 L592.86 20.85 L593.34 20.87 L593.83 20.89 L594.32 20.91 L594.81 20.93 L595.29 20.94 L595.78 20.96 L596.27 20.98 L596.76 21.00 L597.24 21.02 L597.73 21.04 L598.22 21.06 L598.71 21.08 L599.19 21.10 L599.68 21.12 L600.17 21.14 L600.66 21.16 L601.14 21.18 L601.63 21.21 L602.12 21.23 L602.61 21.25 L603.09 21.27 L603.58 21.29 L604.07 21.32 L604.56 21.34 L605.04 21.36 L605.53 21.38 L606.02 21.40 L606.51 21.43 L606.99 21.45 L607.48 21.47 L607.97 21.50 L608.46 21.52 L608.94 21.54 L609.43 21.56 L609.92 21.59 L610.41 21.61 L610.89 21.63 L611.38 21.66 L611.87 21.68 L612.36 21.70 L612.84 21.73 L613.33 21.75 L613.82 21.77 L614.31 21.79 L614.79 21.82 L615.28 21.84 L615.77 21.86 L616.25 21.89 L616.74 21.91 L617.23 21.93 L617.72 21.95 L618.20 21.98 L618.69 22.00 L619.18 22.02 L619.67 22.04 L620.15 22.07 L620.64 22.09 L621.13 22.11 L621.62 22.14 L622.10 22.16 L622.59 22.18 L623.08 22.20 L623.57 22.23 L624.05 22.25 L624.54 22.27 L625.03 22.30 L625.52 22.32 L626.00 22.34 L626.49 22.37 L626.98 22.39 L627.47 22.41 L627.95 22.44 L628.44 22.46 L628.93 22.48 L629.42 22.51 L629.90 22.53 L630.39 22.56 L630.88 22.58 L631.37 22.60 L631.85 22.63 L632.34 22.65 L632.83 22.68 L633.32 22.70 L633.80 22.73 L634.29 22.75 L634.78 22.78 L635.27 22.81 L635.75 22.83 L636.24 22.86 L636.73 22.88 L637.22 22.91 L637.70 22.94 L638.19 22.96 L638.68 22.99 L639.17 23.02 L639.65 23.05 L640.14 23.07 L640.63 23.10 L641.12 23.13 L641.60 23.16 L642.09 23.19 L642.58 23.22 L643.07 23.25 L643.55 23.28 L644.04 23.31 L644.53 23.34 L645.02 23.37 L645.50 23.40 L645.99 23.43 L646.48 23.46 L646.97 23.50 L647.45 23.53 L647.94 23.56 L648.43 23.59 L648.92 23.63 L649.40 23.66 L649.89 23.69 L650.38 23.73 L650.86 23.76 L651.35 23.80 L651.84 23.83 L652.33 23.87 L652.81 23.91 L653.30 23.94 L653.79 23.98 L654.28 24.02 L654.76 24.06 L655.25 24.09 L655.74 24.13 L656.23 24.17 L656.71 24.21 L657.20 24.25 L657.69 24.29 L658.18 24.33 L658.66 24.38 L659.15 24.42 L659.64 24.46 L660.13 24.50 L660.61 24.55 L661.10 24.59 L661.59 24.64 L662.08 24.68 L662.56 24.73 L663.05 24.77 L663.54 24.82 L664.03 24.87 L664.51 24.91 L665.00 24.96 L665.49 25.01 L665.98 25.06 L666.46 25.11 L666.95 25.16 L667.44 25.21 L667.93 25.26 L668.41 25.31 L668.90 25.37 L669.39 25.42 L669.88 25.47 L670.36 25.53 L670.85 25.58 L671.34 25.64 L671.83 25.69 L672.31 25.75 L672.80 25.81 L673.29 25.87 L673.78 25.93 L674.26 25.99 L674.75 26.05 L675.24 26.11 L675.73 26.17 L676.21 26.23 L676.70 26.29 L677.19 26.36 L677.68 26.42 L678.16 26.49 L678.65 26.55 L679.14 26.62 L679.63 26.68 L680.11 26.75 L680.60 26.82 L681.09 26.89 L681.58 26.96 L682.06 27.03 L682.55 27.10 L683.04 27.17 L683.53 27.25 L684.01 27.32 L684.50 27.39" stroke="#a8a8a8" stroke-width="1.00" stroke-dasharray="5.3 1.9 1.3 1.9"/>
<path d="M509.50 33.45 L509.99 33.39 L510.47 33.33 L510.96 33.28 L511.45 33.22 L511.94 33.16 L512.42 33.10 L512.91 33.04 L513.40 32.98 L513.89 32.92 L514.37 32.86 L514.86 32.80 L515.35 32.74 L515.84 32.68 L516.32 32.62 L516.81 32.56 L517.30 32.50 L517.79 32.44 L518.27 32.38 L518.76 32.32 L519.25 32.26 L519.74 32.20 L520.22 32.14 L520.71 32.08 L521.20 32.02 L521.69 31.96 L522.17 31.89 L522.66 31.83 L523.15 31.77 L523.64 31.71 L524.12 31.65 L524.61 31.59 L525.10 31.53 L525.59 31.47 L526.07 31.41 L526.56 31.34 L527.05 31.28 L527.54 31.22 L528.02 31.16 L528.51 31.10 L529.00 31.04 L529.49 30.98 L529.97 30.92 L530.46 30.86 L530.95 30.80 L531.44 30.74 L531.92 30.68 L532.41 30.62 L532.90 30.56 L533.39 30.50 L533.87 30.44 L534.36 30.38 L534.85 30.32 L535.34 30.26 L535.82 30.20 L536.31 30.14 L536.80 30.09 L537.29 30.03 L537.77 29.97 L538.26 29.91 L538.75 29.86 L539.24 29.80 L539.72 29.74 L540.21 29.68 L540.70 29.63 L541.19 29.57 L541.67 29.52 L542.16 29.46 L542.65 29.41 L543.14 29.35 L543.62 29.30 L544.11 29.24 L544.60 29.19 L545.08 29.13 L545.57 29.08 L546.06 29.03 L546.55 28.98 L547.03 28.92 L547.52 28.87 L548.01 28.82 L548.50 28.77 L548.98 28.72 L549.47 28.67 L549.96 28.62 L550.45 28.57 L550.93 28.52 L551.42 28.48 L551.91 28.43 L552.40 28.38 L552.88 28.33 L553.37 28.29 L553.86 28.24 L554.35 28.20 L554.83 28.15 L555.32 28.11 L555.81 28.06 L556.30 28.02 L556.78 27.98 L557.27 27.94 L557.76 27.89 L558.25 27.85 L558.73 27.81 L559.22 27.77 L559.71 27.73 L560.20 27.70 L560.68 27.66 L561.17 27.62 L561.66 27.58 L562.15 27.55 L562.63 27.51 L563.12 27.48 L563.61 27.44 L564.10 27.41 L564.58 27.38 L565.07 27.35 L565.56 27.32 L566.05 27.29 L566.53 27.26 L567.02 27.23 L567.51 27.20 L568.00 27.17 L568.48 27.14 L568.97 27.12 L569.46 27.09 L569.95 27.07 L570.43 27.04 L570.92 27.02 L571.41 27.00 L571.90 26.98 L572.38 26.96 L572.87 26.94 L573.36 26.92 L573.85 26.90 L574.33 26.88 L574.82 26.87 L575.31 26.85 L575.80 26.84 L576.28 26.82 L576.77 26.81 L577.26 26.80 L577.75 26.79 L578.23 26.78 L578.72 26.77 L579.21 26.76 L579.69 26.75 L580.18 26.74 L580.67 26.74 L581.16 26.73 L581.64 26.73 L582.13 26.73 L582.62 26.73 L583.11 26.72 L583.59 26.72 L584.08 26.73 L584.57 26.73 L585.06 26.73 L585.54 26.73 L586.03 26.74 L586.52 26.74 L587.01 26.75 L587.49 26.75 L587.98 26.76 L588.47 26.77 L588.96 26.78 L589.44 26.79 L589.93 26.80 L590.42 26.81 L590.91 26.82 L591.39 26.83 L591.88 26.84 L592.37 26.86 L592.86 26.87 L593.34 26.89 L593.83 26.90 L594.32 26.92 L594.81 26.94 L595.29 26.95 L595.78 26.97 L596.27 26.99 L596.76 27.01 L597.24 27.03 L597.73 27.05 L598.22 27.07 L598.71 27.09 L599.19 27.12 L599.68 27.14 L600.17 27.16 L600.66 27.19 L601.14 27.21 L601.63 27.24 L602.12 27.26 L602.61 27.29 L603.09 27.31 L603.58 27.34 L604.07 27.37 L604.56 27.39 L605.04 27.42 L605.53 27.45 L606.02 27.48 L606.51 27.51 L606.99 27.54 L607.48 27.57 L607.97 27.60 L608.46 27.63 L608.94 27.66 L609.43 27.69 L609.92 27.72 L610.41 27.76 L610.89 27.79 L611.38 27.82 L611.87 27.85 L612.36 27.89 L612.84 27.92 L613.33 27.95 L613.82 27.99 L614.31 28.02 L614.79 28.06 L615.28 28.09 L615.77 28.12 L616.25 28.16 L616.74 28.19 L617.23 28.23 L617.72 28.27 L618.20 28.30 L618.69 28.34 L619.18 28.37 L619.67 28.41 L620.15 28.45 L620.64 28.48 L621.13 28.52 L621.62 28.56 L622.10 28.60 L622.59 28.63 L623.08 28.67 L623.57 28.71 L624.05 28.75 L624.54 28.79 L625.03 28.83 L625.52 28.86 L626.00 28.90 L626.49 28.94 L626.98 28.98 L627.47 29.02 L627.95 29.06 L628.44 29.11 L628.93 29.15 L629.42 29.19 L629.90 29.23 L630.39 29.27 L630.88 29.31 L631.37 29.36 L631.85 29.40 L632.34 29.44 L632.83 29.48 L633.32 29.53 L633.80 29.57 L634.29 29.61 L634.78 29.66 L635.27 29.70 L635.75 29.75 L636.24 29.79 L636.73 29.84 L637.22 29.88 L637.70 29.93 L638.19 29.97 L638.68 30.02 L639.17 30.07 L639.65 30.11 L640.14 30.16 L640.63 30.21 L641.12 30.26 L641.60 30.30 L642.09 30.35 L642.58 30.40 L643.07 30.45 L643.55 30.50 L644.04 30.55 L644.53 30.60 L645.02 30.65 L645.50 30.70 L645.99 30.75 L646.48 30.80 L646.97 30.85 L647.45 30.90 L647.94 30.95 L648.43 31.01 L648.92 31.06 L649.40 31.11 L649.89 31.16 L650.38 31.22 L650.86 31.27 L651.35 31.32 L651.84 31.38 L652.33 31.43 L652.81 31.49 L653.30 31.54 L653.79 31.60 L654.28 31.65 L654.76 31.71 L655.25 31.77 L655.74 31.82 L656.23 31.88 L656.71 31.94 L657.20 31.99 L657.69 32.05 L658.18 32.11 L658.66 32.17 L659.15 32.23 L659.64 32.29 L660.13 32.35 L660.61 32.41 L661.10 32.47 L661.59 32.53 L662.08 32.59 L662.56 32.65 L663.05 32.71 L663.54 32.77 L664.03 32.84 L664.51 32.90 L665.00 32.96 L665.49 33.03 L665.98 33.09 L666.46 33.15 L666.95 33.22 L667.44 33.28 L667.93 33.35 L668.41 33.41 L668.90 33.48 L669.39 33.54 L669.88 33.61 L670.36 33.68 L670.85 33.75 L671.34 33.81 L671.83 33.88 L672.31 33.95 L672.80 34.02 L673.29 34.09 L673.78 34.16 L674.26 34.23 L674.75 34.30 L675.24 34.37 L675.73 34.44 L676.21 34.51 L676.70 34.58 L677.19 34.65 L677.68 34.72 L678.16 34.80 L678.65 34.87 L679.14 34.94 L679.63 35.02 L680.11 35.09 L680.60 35.17 L681.09 35.24 L681.58 35.32 L682.06 35.39 L682.55 35.47 L683.04 35.55 L683.53 35.62 L684.01 35.70 L684.50 35.78" stroke="#000" stroke-width="1.35" stroke-dasharray="5.8 4.6"/>
<path d="M509.50 22.74 L509.99 22.72 L510.47 22.70 L510.96 22.67 L511.45 22.65 L511.94 22.63 L512.42 22.61 L512.91 22.59 L513.40 22.57 L513.89 22.55 L514.37 22.53 L514.86 22.51 L515.35 22.48 L515.84 22.46 L516.32 22.44 L516.81 22.42 L517.30 22.40 L517.79 22.37 L518.27 22.35 L518.76 22.33 L519.25 22.31 L519.74 22.28 L520.22 22.26 L520.71 22.24 L521.20 22.22 L521.69 22.19 L522.17 22.17 L522.66 22.15 L523.15 22.13 L523.64 22.10 L524.12 22.08 L524.61 22.06 L525.10 22.03 L525.59 22.01 L526.07 21.99 L526.56 21.97 L527.05 21.94 L527.54 21.92 L528.02 21.90 L528.51 21.87 L529.00 21.85 L529.49 21.83 L529.97 21.81 L530.46 21.78 L530.95 21.76 L531.44 21.74 L531.92 21.71 L532.41 21.69 L532.90 21.67 L533.39 21.65 L533.87 21.62 L534.36 21.60 L534.85 21.58 L535.34 21.56 L535.82 21.54 L536.31 21.51 L536.80 21.49 L537.29 21.47 L537.77 21.45 L538.26 21.43 L538.75 21.41 L539.24 21.38 L539.72 21.36 L540.21 21.34 L540.70 21.32 L541.19 21.30 L541.67 21.28 L542.16 21.26 L542.65 21.24 L543.14 21.22 L543.62 21.20 L544.11 21.18 L544.60 21.16 L545.08 21.14 L545.57 21.12 L546.06 21.10 L546.55 21.08 L547.03 21.06 L547.52 21.05 L548.01 21.03 L548.50 21.01 L548.98 20.99 L549.47 20.97 L549.96 20.96 L550.45 20.94 L550.93 20.92 L551.42 20.91 L551.91 20.89 L552.40 20.87 L552.88 20.86 L553.37 20.84 L553.86 20.83 L554.35 20.81 L554.83 20.80 L555.32 20.78 L555.81 20.77 L556.30 20.75 L556.78 20.74 L557.27 20.73 L557.76 20.71 L558.25 20.70 L558.73 20.69 L559.22 20.68 L559.71 20.67 L560.20 20.65 L560.68 20.64 L561.17 20.63 L561.66 20.62 L562.15 20.61 L562.63 20.60 L563.12 20.59 L563.61 20.58 L564.10 20.58 L564.58 20.57 L565.07 20.56 L565.56 20.55 L566.05 20.55 L566.53 20.54 L567.02 20.53 L567.51 20.53 L568.00 20.52 L568.48 20.52 L568.97 20.51 L569.46 20.51 L569.95 20.50 L570.43 20.50 L570.92 20.50 L571.41 20.49 L571.90 20.49 L572.38 20.49 L572.87 20.49 L573.36 20.49 L573.85 20.49 L574.33 20.49 L574.82 20.49 L575.31 20.49 L575.80 20.49 L576.28 20.50 L576.77 20.50 L577.26 20.50 L577.75 20.51 L578.23 20.51 L578.72 20.51 L579.21 20.52 L579.69 20.53 L580.18 20.53 L580.67 20.54 L581.16 20.55 L581.64 20.55 L582.13 20.56 L582.62 20.57 L583.11 20.58 L583.59 20.59 L584.08 20.60 L584.57 20.61 L585.06 20.62 L585.54 20.63 L586.03 20.65 L586.52 20.66 L587.01 20.67 L587.49 20.68 L587.98 20.70 L588.47 20.71 L588.96 20.73 L589.44 20.74 L589.93 20.76 L590.42 20.77 L590.91 20.79 L591.39 20.80 L591.88 20.82 L592.37 20.84 L592.86 20.85 L593.34 20.87 L593.83 20.89 L594.32 20.91 L594.81 20.93 L595.29 20.94 L595.78 20.96 L596.27 20.98 L596.76 21.00 L597.24 21.02 L597.73 21.04 L598.22 21.06 L598.71 21.08 L599.19 21.10 L599.68 21.12 L600.17 21.14 L600.66 21.16 L601.14 21.18 L601.63 21.21 L602.12 21.23 L602.61 21.25 L603.09 21.27 L603.58 21.29 L604.07 21.32 L604.56 21.34 L605.04 21.36 L605.53 21.38 L606.02 21.40 L606.51 21.43 L606.99 21.45 L607.48 21.47 L607.97 21.50 L608.46 21.52 L608.94 21.54 L609.43 21.56 L609.92 21.59 L610.41 21.61 L610.89 21.63 L611.38 21.66 L611.87 21.68 L612.36 21.70 L612.84 21.73 L613.33 21.75 L613.82 21.77 L614.31 21.79 L614.79 21.82 L615.28 21.84 L615.77 21.86 L616.25 21.89 L616.74 21.91 L617.23 21.93 L617.72 21.95 L618.20 21.98 L618.69 22.00 L619.18 22.02 L619.67 22.04 L620.15 22.07 L620.64 22.09 L621.13 22.11 L621.62 22.14 L622.10 22.16 L622.59 22.18 L623.08 22.20 L623.57 22.23 L624.05 22.25 L624.54 22.27 L625.03 22.30 L625.52 22.32 L626.00 22.34 L626.49 22.37 L626.98 22.39 L627.47 22.41 L627.95 22.44 L628.44 22.46 L628.93 22.48 L629.42 22.51 L629.90 22.53 L630.39 22.56 L630.88 22.58 L631.37 22.60 L631.85 22.63 L632.34 22.65 L632.83 22.68 L633.32 22.70 L633.80 22.73 L634.29 22.75 L634.78 22.78 L635.27 22.81 L635.75 22.83 L636.24 22.86 L636.73 22.88 L637.22 22.91 L637.70 22.94 L638.19 22.96 L638.68 22.99 L639.17 23.02 L639.65 23.05 L640.14 23.07 L640.63 23.10 L641.12 23.13 L641.60 23.16 L642.09 23.19 L642.58 23.22 L643.07 23.25 L643.55 23.28 L644.04 23.31 L644.53 23.34 L645.02 23.37 L645.50 23.40 L645.99 23.43 L646.48 23.46 L646.97 23.50 L647.45 23.53 L647.94 23.56 L648.43 23.59 L648.92 23.63 L649.40 23.66 L649.89 23.69 L650.38 23.73 L650.86 23.76 L651.35 23.80 L651.84 23.83 L652.33 23.87 L652.81 23.91 L653.30 23.94 L653.79 23.98 L654.28 24.02 L654.76 24.06 L655.25 24.09 L655.74 24.13 L656.23 24.17 L656.71 24.21 L657.20 24.25 L657.69 24.29 L658.18 24.33 L658.66 24.38 L659.15 24.42 L659.64 24.46 L660.13 24.50 L660.61 24.55 L661.10 24.59 L661.59 24.64 L662.08 24.68 L662.56 24.73 L663.05 24.77 L663.54 24.82 L664.03 24.87 L664.51 24.91 L665.00 24.96 L665.49 25.01 L665.98 25.06 L666.46 25.11 L666.95 25.16 L667.44 25.21 L667.93 25.26 L668.41 25.31 L668.90 25.37 L669.39 25.42 L669.88 25.47 L670.36 25.53 L670.85 25.58 L671.34 25.64 L671.83 25.69 L672.31 25.75 L672.80 25.81 L673.29 25.87 L673.78 25.93 L674.26 25.99 L674.75 26.05 L675.24 26.11 L675.73 26.17 L676.21 26.23 L676.70 26.29 L677.19 26.36 L677.68 26.42 L678.16 26.49 L678.65 26.55 L679.14 26.62 L679.63 26.68 L680.11 26.75 L680.60 26.82 L681.09 26.89 L681.58 26.96 L682.06 27.03 L682.55 27.10 L683.04 27.17 L683.53 27.25 L684.01 27.32 L684.50 27.39" stroke="#000" stroke-width="1.35" stroke-dasharray="5.3 1.9 1.3 1.9"/>
<path d="M509.50 63.47 L509.99 63.69 L510.47 63.91 L510.96 64.13 L511.45 64.35 L511.94 64.58 L512.42 64.82 L512.91 65.05 L513.40 65.29 L513.89 65.53 L514.37 65.78 L514.86 66.03 L515.35 66.28 L515.84 66.53 L516.32 66.79 L516.81 67.05 L517.30 67.32 L517.79 67.59 L518.27 67.86 L518.76 68.13 L519.25 68.41 L519.74 68.69 L520.22 68.97 L520.71 69.26 L521.20 69.55 L521.69 69.84 L522.17 70.14 L522.66 70.44 L523.15 70.74 L523.64 71.05 L524.12 71.36 L524.61 71.67 L525.10 71.99 L525.59 72.31 L526.07 72.63 L526.56 72.95 L527.05 73.28 L527.54 73.62 L528.02 73.95 L528.51 74.29 L529.00 74.63 L529.49 74.98 L529.97 75.32 L530.46 75.68 L530.95 76.03 L531.44 76.39 L531.92 76.75 L532.41 77.11 L532.90 77.48 L533.39 77.85 L533.87 78.23 L534.36 78.61 L534.85 78.99 L535.34 79.38 L535.82 79.77 L536.31 80.16 L536.80 80.55 L537.29 80.95 L537.77 81.36 L538.26 81.76 L538.75 82.17 L539.24 82.59 L539.72 83.01 L540.21 83.43 L540.70 83.85 L541.19 84.28 L541.67 84.72 L542.16 85.15 L542.65 85.59 L543.14 86.04 L543.62 86.49 L544.11 86.94 L544.60 87.40 L545.08 87.86 L545.57 88.32 L546.06 88.79 L546.55 89.27 L547.03 89.74 L547.52 90.23 L548.01 90.71 L548.50 91.20 L548.98 91.70 L549.47 92.20 L549.96 92.70 L550.45 93.21 L550.93 93.72 L551.42 94.24 L551.91 94.76 L552.40 95.29 L552.88 95.82 L553.37 96.36 L553.86 96.90 L554.35 97.45 L554.83 98.00 L555.32 98.56 L555.81 99.12 L556.30 99.69 L556.78 100.26 L557.27 100.84 L557.76 101.42 L558.25 102.01 L558.73 102.61 L559.22 103.21 L559.71 103.81 L560.20 104.42 L560.68 105.04 L561.17 105.66 L561.66 106.29 L562.15 106.92 L562.63 107.56 L563.12 108.20 L563.61 108.85 L564.10 109.50 L564.58 110.16 L565.07 110.83 L565.56 111.50 L566.05 112.18 L566.53 112.86 L567.02 113.55 L567.51 114.24 L568.00 114.94 L568.48 115.64 L568.97 116.34 L569.46 117.06 L569.95 117.77 L570.43 118.49 L570.92 119.22 L571.41 119.94 L571.90 120.67 L572.38 121.41 L572.87 122.14 L573.36 122.88 L573.85 123.62 L574.33 124.36 L574.82 125.10 L575.31 125.84 L575.80 126.58 L576.28 127.32 L576.77 128.05 L577.26 128.78 L577.75 129.51 L578.23 130.23 L578.72 130.94 L579.21 131.65 L579.69 132.34 L580.18 133.03 L580.67 133.70 L581.16 134.36 L581.64 135.00 L582.13 135.62 L582.62 136.23 L583.11 136.81 L583.59 137.37 L584.08 137.90 L584.57 138.41 L585.06 138.89 L585.54 139.33 L586.03 139.75 L586.52 140.12 L587.01 140.47 L587.49 140.77 L587.98 141.03 L588.47 141.25 L588.96 141.42 L589.44 141.55 L589.93 141.64 L590.42 141.68 L590.91 141.68 L591.39 141.62 L591.88 141.53 L592.37 141.38 L592.86 141.20 L593.34 140.96 L593.83 140.69 L594.32 140.37 L594.81 140.01 L595.29 139.61 L595.78 139.18 L596.27 138.70 L596.76 138.20 L597.24 137.66 L597.73 137.10 L598.22 136.50 L598.71 135.89 L599.19 135.24 L599.68 134.58 L600.17 133.90 L600.66 133.19 L601.14 132.48 L601.63 131.74 L602.12 131.00 L602.61 130.24 L603.09 129.48 L603.58 128.71 L604.07 127.93 L604.56 127.14 L605.04 126.35 L605.53 125.55 L606.02 124.76 L606.51 123.96 L606.99 123.16 L607.48 122.36 L607.97 121.56 L608.46 120.76 L608.94 119.96 L609.43 119.16 L609.92 118.37 L610.41 117.58 L610.89 116.80 L611.38 116.01 L611.87 115.24 L612.36 114.46 L612.84 113.69 L613.33 112.93 L613.82 112.17 L614.31 111.42 L614.79 110.67 L615.28 109.92 L615.77 109.19 L616.25 108.45 L616.74 107.73 L617.23 107.01 L617.72 106.29 L618.20 105.58 L618.69 104.88 L619.18 104.18 L619.67 103.49 L620.15 102.81 L620.64 102.13 L621.13 101.46 L621.62 100.79 L622.10 100.13 L622.59 99.47 L623.08 98.82 L623.57 98.18 L624.05 97.54 L624.54 96.91 L625.03 96.28 L625.52 95.66 L626.00 95.05 L626.49 94.44 L626.98 93.83 L627.47 93.23 L627.95 92.64 L628.44 92.05 L628.93 91.47 L629.42 90.89 L629.90 90.32 L630.39 89.76 L630.88 89.20 L631.37 88.64 L631.85 88.09 L632.34 87.54 L632.83 87.00 L633.32 86.47 L633.80 85.94 L634.29 85.41 L634.78 84.89 L635.27 84.37 L635.75 83.86 L636.24 83.35 L636.73 82.85 L637.22 82.36 L637.70 81.86 L638.19 81.37 L638.68 80.89 L639.17 80.41 L639.65 79.94 L640.14 79.47 L640.63 79.00 L641.12 78.54 L641.60 78.08 L642.09 77.63 L642.58 77.18 L643.07 76.74 L643.55 76.30 L644.04 75.86 L644.53 75.43 L645.02 75.01 L645.50 74.58 L645.99 74.16 L646.48 73.75 L646.97 73.34 L647.45 72.93 L647.94 72.53 L648.43 72.13 L648.92 71.74 L649.40 71.35 L649.89 70.96 L650.38 70.58 L650.86 70.20 L651.35 69.83 L651.84 69.46 L652.33 69.09 L652.81 68.73 L653.30 68.37 L653.79 68.01 L654.28 67.66 L654.76 67.31 L655.25 66.97 L655.74 66.63 L656.23 66.30 L656.71 65.96 L657.20 65.64 L657.69 65.31 L658.18 64.99 L658.66 64.68 L659.15 64.37 L659.64 64.06 L660.13 63.75 L660.61 63.45 L661.10 63.15 L661.59 62.86 L662.08 62.57 L662.56 62.29 L663.05 62.01 L663.54 61.73 L664.03 61.46 L664.51 61.19 L665.00 60.92 L665.49 60.66 L665.98 60.40 L666.46 60.15 L666.95 59.90 L667.44 59.65 L667.93 59.41 L668.41 59.17 L668.90 58.94 L669.39 58.71 L669.88 58.48 L670.36 58.26 L670.85 58.05 L671.34 57.83 L671.83 57.62 L672.31 57.42 L672.80 57.22 L673.29 57.02 L673.78 56.83 L674.26 56.64 L674.75 56.46 L675.24 56.28 L675.73 56.11 L676.21 55.94 L676.70 55.77 L677.19 55.61 L677.68 55.45 L678.16 55.30 L678.65 55.15 L679.14 55.01 L679.63 54.87 L680.11 54.74 L680.60 54.61 L681.09 54.49 L681.58 54.37 L682.06 54.25 L682.55 54.14 L683.04 54.04 L683.53 53.94 L684.01 53.85 L684.50 53.76" stroke="#a8a8a8" stroke-width="1.20" stroke-dasharray="1.3 1.3"/>
<path d="M509.50 72.92 L509.99 73.05 L510.47 73.18 L510.96 73.32 L511.45 73.47 L511.94 73.63 L512.42 73.79 L512.91 73.95 L513.40 74.13 L513.89 74.30 L514.37 74.49 L514.86 74.68 L515.35 74.87 L515.84 75.08 L516.32 75.28 L516.81 75.49 L517.30 75.71 L517.79 75.93 L518.27 76.16 L518.76 76.40 L519.25 76.64 L519.74 76.88 L520.22 77.13 L520.71 77.38 L521.20 77.64 L521.69 77.91 L522.17 78.17 L522.66 78.45 L523.15 78.73 L523.64 79.01 L524.12 79.30 L524.61 79.59 L525.10 79.89 L525.59 80.20 L526.07 80.50 L526.56 80.82 L527.05 81.13 L527.54 81.45 L528.02 81.78 L528.51 82.11 L529.00 82.45 L529.49 82.78 L529.97 83.13 L530.46 83.48 L530.95 83.83 L531.44 84.19 L531.92 84.55 L532.41 84.92 L532.90 85.29 L533.39 85.66 L533.87 86.04 L534.36 86.42 L534.85 86.81 L535.34 87.20 L535.82 87.60 L536.31 88.00 L536.80 88.40 L537.29 88.81 L537.77 89.23 L538.26 89.64 L538.75 90.07 L539.24 90.49 L539.72 90.92 L540.21 91.35 L540.70 91.79 L541.19 92.23 L541.67 92.68 L542.16 93.13 L542.65 93.59 L543.14 94.04 L543.62 94.51 L544.11 94.97 L544.60 95.44 L545.08 95.92 L545.57 96.40 L546.06 96.88 L546.55 97.36 L547.03 97.85 L547.52 98.35 L548.01 98.85 L548.50 99.35 L548.98 99.85 L549.47 100.36 L549.96 100.88 L550.45 101.39 L550.93 101.91 L551.42 102.44 L551.91 102.97 L552.40 103.50 L552.88 104.03 L553.37 104.57 L553.86 105.11 L554.35 105.66 L554.83 106.21 L555.32 106.76 L555.81 107.31 L556.30 107.87 L556.78 108.43 L557.27 109.00 L557.76 109.56 L558.25 110.13 L558.73 110.70 L559.22 111.28 L559.71 111.85 L560.20 112.43 L560.68 113.01 L561.17 113.59 L561.66 114.18 L562.15 114.76 L562.63 115.35 L563.12 115.94 L563.61 116.53 L564.10 117.11 L564.58 117.70 L565.07 118.29 L565.56 118.88 L566.05 119.47 L566.53 120.05 L567.02 120.64 L567.51 121.22 L568.00 121.80 L568.48 122.38 L568.97 122.95 L569.46 123.52 L569.95 124.09 L570.43 124.65 L570.92 125.21 L571.41 125.76 L571.90 126.30 L572.38 126.84 L572.87 127.37 L573.36 127.89 L573.85 128.40 L574.33 128.90 L574.82 129.39 L575.31 129.86 L575.80 130.33 L576.28 130.78 L576.77 131.22 L577.26 131.64 L577.75 132.05 L578.23 132.44 L578.72 132.82 L579.21 133.17 L579.69 133.51 L580.18 133.82 L580.67 134.12 L581.16 134.39 L581.64 134.64 L582.13 134.87 L582.62 135.08 L583.11 135.26 L583.59 135.41 L584.08 135.55 L584.57 135.65 L585.06 135.73 L585.54 135.79 L586.03 135.82 L586.52 135.82 L587.01 135.80 L587.49 135.75 L587.98 135.67 L588.47 135.57 L588.96 135.44 L589.44 135.29 L589.93 135.11 L590.42 134.91 L590.91 134.69 L591.39 134.44 L591.88 134.17 L592.37 133.88 L592.86 133.56 L593.34 133.23 L593.83 132.88 L594.32 132.51 L594.81 132.12 L595.29 131.71 L595.78 131.29 L596.27 130.85 L596.76 130.40 L597.24 129.94 L597.73 129.46 L598.22 128.97 L598.71 128.47 L599.19 127.96 L599.68 127.43 L600.17 126.90 L600.66 126.37 L601.14 125.82 L601.63 125.27 L602.12 124.71 L602.61 124.14 L603.09 123.57 L603.58 123.00 L604.07 122.42 L604.56 121.83 L605.04 121.25 L605.53 120.66 L606.02 120.07 L606.51 119.48 L606.99 118.88 L607.48 118.29 L607.97 117.69 L608.46 117.10 L608.94 116.50 L609.43 115.90 L609.92 115.31 L610.41 114.71 L610.89 114.12 L611.38 113.52 L611.87 112.93 L612.36 112.34 L612.84 111.75 L613.33 111.16 L613.82 110.58 L614.31 109.99 L614.79 109.41 L615.28 108.83 L615.77 108.26 L616.25 107.68 L616.74 107.11 L617.23 106.54 L617.72 105.97 L618.20 105.41 L618.69 104.85 L619.18 104.29 L619.67 103.73 L620.15 103.18 L620.64 102.63 L621.13 102.09 L621.62 101.54 L622.10 101.00 L622.59 100.47 L623.08 99.93 L623.57 99.40 L624.05 98.88 L624.54 98.35 L625.03 97.83 L625.52 97.32 L626.00 96.80 L626.49 96.29 L626.98 95.79 L627.47 95.29 L627.95 94.79 L628.44 94.29 L628.93 93.80 L629.42 93.31 L629.90 92.82 L630.39 92.34 L630.88 91.86 L631.37 91.39 L631.85 90.92 L632.34 90.45 L632.83 89.98 L633.32 89.52 L633.80 89.06 L634.29 88.61 L634.78 88.16 L635.27 87.71 L635.75 87.27 L636.24 86.83 L636.73 86.39 L637.22 85.96 L637.70 85.53 L638.19 85.10 L638.68 84.68 L639.17 84.26 L639.65 83.85 L640.14 83.44 L640.63 83.03 L641.12 82.63 L641.60 82.22 L642.09 81.83 L642.58 81.43 L643.07 81.05 L643.55 80.66 L644.04 80.28 L644.53 79.90 L645.02 79.52 L645.50 79.15 L645.99 78.78 L646.48 78.42 L646.97 78.06 L647.45 77.70 L647.94 77.35 L648.43 77.00 L648.92 76.66 L649.40 76.32 L649.89 75.98 L650.38 75.64 L650.86 75.31 L651.35 74.99 L651.84 74.67 L652.33 74.35 L652.81 74.04 L653.30 73.73 L653.79 73.42 L654.28 73.12 L654.76 72.82 L655.25 72.53 L655.74 72.24 L656.23 71.95 L656.71 71.67 L657.20 71.39 L657.69 71.12 L658.18 70.85 L658.66 70.58 L659.15 70.32 L659.64 70.07 L660.13 69.82 L660.61 69.57 L661.10 69.33 L661.59 69.09 L662.08 68.86 L662.56 68.63 L663.05 68.40 L663.54 68.18 L664.03 67.97 L664.51 67.76 L665.00 67.55 L665.49 67.35 L665.98 67.16 L666.46 66.97 L666.95 66.78 L667.44 66.60 L667.93 66.43 L668.41 66.26 L668.90 66.09 L669.39 65.94 L669.88 65.78 L670.36 65.63 L670.85 65.49 L671.34 65.35 L671.83 65.22 L672.31 65.10 L672.80 64.98 L673.29 64.86 L673.78 64.76 L674.26 64.66 L674.75 64.56 L675.24 64.47 L675.73 64.39 L676.21 64.31 L676.70 64.24 L677.19 64.18 L677.68 64.13 L678.16 64.08 L678.65 64.04 L679.14 64.00 L679.63 63.97 L680.11 63.95 L680.60 63.94 L681.09 63.94 L681.58 63.94 L682.06 63.95 L682.55 63.97 L683.04 64.00 L683.53 64.04 L684.01 64.08 L684.50 64.14" stroke="#a8a8a8" stroke-width="1.30"/>
<path d="M509.50 63.77 L509.99 64.01 L510.47 64.24 L510.96 64.48 L511.45 64.73 L511.94 64.97 L512.42 65.22 L512.91 65.47 L513.40 65.73 L513.89 65.98 L514.37 66.24 L514.86 66.51 L515.35 66.77 L515.84 67.04 L516.32 67.31 L516.81 67.59 L517.30 67.86 L517.79 68.14 L518.27 68.43 L518.76 68.71 L519.25 69.00 L519.74 69.30 L520.22 69.59 L520.71 69.89 L521.20 70.19 L521.69 70.50 L522.17 70.80 L522.66 71.11 L523.15 71.43 L523.64 71.75 L524.12 72.07 L524.61 72.39 L525.10 72.72 L525.59 73.05 L526.07 73.38 L526.56 73.72 L527.05 74.06 L527.54 74.41 L528.02 74.75 L528.51 75.10 L529.00 75.46 L529.49 75.82 L529.97 76.18 L530.46 76.55 L530.95 76.91 L531.44 77.29 L531.92 77.66 L532.41 78.04 L532.90 78.43 L533.39 78.82 L533.87 79.21 L534.36 79.61 L534.85 80.01 L535.34 80.41 L535.82 80.82 L536.31 81.23 L536.80 81.65 L537.29 82.07 L537.77 82.49 L538.26 82.92 L538.75 83.35 L539.24 83.79 L539.72 84.24 L540.21 84.68 L540.70 85.13 L541.19 85.59 L541.67 86.05 L542.16 86.51 L542.65 86.98 L543.14 87.46 L543.62 87.94 L544.11 88.42 L544.60 88.91 L545.08 89.41 L545.57 89.91 L546.06 90.41 L546.55 90.92 L547.03 91.43 L547.52 91.95 L548.01 92.48 L548.50 93.01 L548.98 93.55 L549.47 94.09 L549.96 94.63 L550.45 95.19 L550.93 95.74 L551.42 96.31 L551.91 96.88 L552.40 97.45 L552.88 98.03 L553.37 98.62 L553.86 99.21 L554.35 99.81 L554.83 100.41 L555.32 101.02 L555.81 101.63 L556.30 102.25 L556.78 102.88 L557.27 103.51 L557.76 104.15 L558.25 104.79 L558.73 105.44 L559.22 106.09 L559.71 106.75 L560.20 107.42 L560.68 108.09 L561.17 108.76 L561.66 109.44 L562.15 110.13 L562.63 110.82 L563.12 111.51 L563.61 112.21 L564.10 112.91 L564.58 113.62 L565.07 114.32 L565.56 115.04 L566.05 115.75 L566.53 116.46 L567.02 117.18 L567.51 117.90 L568.00 118.62 L568.48 119.33 L568.97 120.05 L569.46 120.76 L569.95 121.48 L570.43 122.18 L570.92 122.89 L571.41 123.58 L571.90 124.27 L572.38 124.95 L572.87 125.63 L573.36 126.29 L573.85 126.94 L574.33 127.57 L574.82 128.19 L575.31 128.79 L575.80 129.38 L576.28 129.94 L576.77 130.48 L577.26 131.00 L577.75 131.49 L578.23 131.95 L578.72 132.38 L579.21 132.79 L579.69 133.15 L580.18 133.49 L580.67 133.78 L581.16 134.04 L581.64 134.26 L582.13 134.44 L582.62 134.58 L583.11 134.68 L583.59 134.73 L584.08 134.74 L584.57 134.71 L585.06 134.64 L585.54 134.52 L586.03 134.36 L586.52 134.16 L587.01 133.92 L587.49 133.64 L587.98 133.32 L588.47 132.97 L588.96 132.58 L589.44 132.15 L589.93 131.70 L590.42 131.21 L590.91 130.70 L591.39 130.16 L591.88 129.60 L592.37 129.01 L592.86 128.41 L593.34 127.78 L593.83 127.14 L594.32 126.48 L594.81 125.81 L595.29 125.12 L595.78 124.43 L596.27 123.72 L596.76 123.01 L597.24 122.29 L597.73 121.56 L598.22 120.83 L598.71 120.09 L599.19 119.36 L599.68 118.62 L600.17 117.87 L600.66 117.13 L601.14 116.39 L601.63 115.65 L602.12 114.91 L602.61 114.17 L603.09 113.44 L603.58 112.70 L604.07 111.97 L604.56 111.25 L605.04 110.52 L605.53 109.81 L606.02 109.09 L606.51 108.38 L606.99 107.68 L607.48 106.98 L607.97 106.28 L608.46 105.59 L608.94 104.91 L609.43 104.23 L609.92 103.56 L610.41 102.89 L610.89 102.23 L611.38 101.57 L611.87 100.92 L612.36 100.27 L612.84 99.63 L613.33 99.00 L613.82 98.37 L614.31 97.75 L614.79 97.13 L615.28 96.52 L615.77 95.92 L616.25 95.32 L616.74 94.73 L617.23 94.14 L617.72 93.56 L618.20 92.98 L618.69 92.41 L619.18 91.84 L619.67 91.28 L620.15 90.73 L620.64 90.18 L621.13 89.63 L621.62 89.09 L622.10 88.56 L622.59 88.03 L623.08 87.51 L623.57 86.99 L624.05 86.48 L624.54 85.97 L625.03 85.46 L625.52 84.96 L626.00 84.47 L626.49 83.98 L626.98 83.50 L627.47 83.02 L627.95 82.54 L628.44 82.07 L628.93 81.60 L629.42 81.14 L629.90 80.68 L630.39 80.23 L630.88 79.78 L631.37 79.33 L631.85 78.89 L632.34 78.46 L632.83 78.03 L633.32 77.60 L633.80 77.17 L634.29 76.75 L634.78 76.34 L635.27 75.92 L635.75 75.52 L636.24 75.11 L636.73 74.71 L637.22 74.31 L637.70 73.92 L638.19 73.53 L638.68 73.14 L639.17 72.76 L639.65 72.38 L640.14 72.01 L640.63 71.64 L641.12 71.27 L641.60 70.90 L642.09 70.54 L642.58 70.18 L643.07 69.83 L643.55 69.48 L644.04 69.13 L644.53 68.79 L645.02 68.44 L645.50 68.11 L645.99 67.77 L646.48 67.44 L646.97 67.11 L647.45 66.78 L647.94 66.46 L648.43 66.14 L648.92 65.83 L649.40 65.51 L649.89 65.20 L650.38 64.90 L650.86 64.59 L651.35 64.29 L651.84 63.99 L652.33 63.70 L652.81 63.40 L653.30 63.11 L653.79 62.83 L654.28 62.54 L654.76 62.26 L655.25 61.98 L655.74 61.71 L656.23 61.44 L656.71 61.17 L657.20 60.90 L657.69 60.63 L658.18 60.37 L658.66 60.11 L659.15 59.86 L659.64 59.60 L660.13 59.35 L660.61 59.10 L661.10 58.86 L661.59 58.62 L662.08 58.38 L662.56 58.14 L663.05 57.90 L663.54 57.67 L664.03 57.44 L664.51 57.21 L665.00 56.99 L665.49 56.77 L665.98 56.55 L666.46 56.33 L666.95 56.12 L667.44 55.90 L667.93 55.70 L668.41 55.49 L668.90 55.28 L669.39 55.08 L669.88 54.88 L670.36 54.69 L670.85 54.49 L671.34 54.30 L671.83 54.11 L672.31 53.93 L672.80 53.74 L673.29 53.56 L673.78 53.38 L674.26 53.21 L674.75 53.03 L675.24 52.86 L675.73 52.69 L676.21 52.53 L676.70 52.37 L677.19 52.20 L677.68 52.05 L678.16 51.89 L678.65 51.74 L679.14 51.59 L679.63 51.44 L680.11 51.29 L680.60 51.15 L681.09 51.01 L681.58 50.87 L682.06 50.74 L682.55 50.60 L683.04 50.47 L683.53 50.35 L684.01 50.22 L684.50 50.10" stroke="#000" stroke-width="1.50" stroke-dasharray="1.3 1.3"/>
<path d="M509.50 73.49 L509.99 73.64 L510.47 73.80 L510.96 73.97 L511.45 74.14 L511.94 74.31 L512.42 74.49 L512.91 74.68 L513.40 74.87 L513.89 75.06 L514.37 75.26 L514.86 75.47 L515.35 75.68 L515.84 75.89 L516.32 76.11 L516.81 76.33 L517.30 76.56 L517.79 76.79 L518.27 77.03 L518.76 77.27 L519.25 77.52 L519.74 77.77 L520.22 78.03 L520.71 78.29 L521.20 78.55 L521.69 78.82 L522.17 79.09 L522.66 79.37 L523.15 79.65 L523.64 79.93 L524.12 80.22 L524.61 80.52 L525.10 80.82 L525.59 81.12 L526.07 81.42 L526.56 81.73 L527.05 82.05 L527.54 82.37 L528.02 82.69 L528.51 83.01 L529.00 83.34 L529.49 83.68 L529.97 84.02 L530.46 84.36 L530.95 84.70 L531.44 85.05 L531.92 85.41 L532.41 85.76 L532.90 86.13 L533.39 86.49 L533.87 86.86 L534.36 87.23 L534.85 87.61 L535.34 87.99 L535.82 88.37 L536.31 88.76 L536.80 89.15 L537.29 89.54 L537.77 89.94 L538.26 90.34 L538.75 90.75 L539.24 91.16 L539.72 91.57 L540.21 91.99 L540.70 92.41 L541.19 92.83 L541.67 93.26 L542.16 93.69 L542.65 94.12 L543.14 94.56 L543.62 95.00 L544.11 95.44 L544.60 95.89 L545.08 96.34 L545.57 96.79 L546.06 97.25 L546.55 97.71 L547.03 98.17 L547.52 98.64 L548.01 99.10 L548.50 99.58 L548.98 100.05 L549.47 100.53 L549.96 101.01 L550.45 101.49 L550.93 101.98 L551.42 102.47 L551.91 102.96 L552.40 103.45 L552.88 103.95 L553.37 104.45 L553.86 104.95 L554.35 105.45 L554.83 105.96 L555.32 106.46 L555.81 106.97 L556.30 107.48 L556.78 107.99 L557.27 108.50 L557.76 109.02 L558.25 109.53 L558.73 110.05 L559.22 110.56 L559.71 111.08 L560.20 111.60 L560.68 112.11 L561.17 112.63 L561.66 113.14 L562.15 113.66 L562.63 114.17 L563.12 114.68 L563.61 115.20 L564.10 115.70 L564.58 116.21 L565.07 116.71 L565.56 117.21 L566.05 117.71 L566.53 118.21 L567.02 118.69 L567.51 119.18 L568.00 119.66 L568.48 120.13 L568.97 120.60 L569.46 121.06 L569.95 121.51 L570.43 121.96 L570.92 122.39 L571.41 122.82 L571.90 123.24 L572.38 123.65 L572.87 124.05 L573.36 124.44 L573.85 124.81 L574.33 125.17 L574.82 125.52 L575.31 125.86 L575.80 126.18 L576.28 126.49 L576.77 126.78 L577.26 127.05 L577.75 127.31 L578.23 127.55 L578.72 127.78 L579.21 127.98 L579.69 128.17 L580.18 128.34 L580.67 128.49 L581.16 128.61 L581.64 128.72 L582.13 128.81 L582.62 128.88 L583.11 128.92 L583.59 128.95 L584.08 128.95 L584.57 128.94 L585.06 128.90 L585.54 128.84 L586.03 128.76 L586.52 128.66 L587.01 128.54 L587.49 128.40 L587.98 128.24 L588.47 128.06 L588.96 127.86 L589.44 127.64 L589.93 127.41 L590.42 127.15 L590.91 126.88 L591.39 126.60 L591.88 126.29 L592.37 125.97 L592.86 125.64 L593.34 125.29 L593.83 124.93 L594.32 124.55 L594.81 124.17 L595.29 123.77 L595.78 123.36 L596.27 122.93 L596.76 122.50 L597.24 122.06 L597.73 121.61 L598.22 121.15 L598.71 120.69 L599.19 120.21 L599.68 119.73 L600.17 119.24 L600.66 118.75 L601.14 118.25 L601.63 117.75 L602.12 117.24 L602.61 116.73 L603.09 116.22 L603.58 115.70 L604.07 115.18 L604.56 114.66 L605.04 114.13 L605.53 113.60 L606.02 113.07 L606.51 112.54 L606.99 112.01 L607.48 111.48 L607.97 110.95 L608.46 110.41 L608.94 109.88 L609.43 109.35 L609.92 108.81 L610.41 108.28 L610.89 107.75 L611.38 107.22 L611.87 106.69 L612.36 106.16 L612.84 105.63 L613.33 105.11 L613.82 104.58 L614.31 104.06 L614.79 103.54 L615.28 103.02 L615.77 102.50 L616.25 101.99 L616.74 101.48 L617.23 100.97 L617.72 100.46 L618.20 99.95 L618.69 99.45 L619.18 98.95 L619.67 98.45 L620.15 97.95 L620.64 97.46 L621.13 96.96 L621.62 96.48 L622.10 95.99 L622.59 95.51 L623.08 95.03 L623.57 94.55 L624.05 94.07 L624.54 93.60 L625.03 93.13 L625.52 92.67 L626.00 92.20 L626.49 91.74 L626.98 91.29 L627.47 90.83 L627.95 90.38 L628.44 89.93 L628.93 89.48 L629.42 89.04 L629.90 88.60 L630.39 88.17 L630.88 87.73 L631.37 87.30 L631.85 86.88 L632.34 86.45 L632.83 86.03 L633.32 85.61 L633.80 85.20 L634.29 84.79 L634.78 84.38 L635.27 83.97 L635.75 83.57 L636.24 83.17 L636.73 82.77 L637.22 82.38 L637.70 81.99 L638.19 81.60 L638.68 81.22 L639.17 80.84 L639.65 80.46 L640.14 80.09 L640.63 79.72 L641.12 79.35 L641.60 78.99 L642.09 78.63 L642.58 78.27 L643.07 77.91 L643.55 77.56 L644.04 77.22 L644.53 76.87 L645.02 76.53 L645.50 76.19 L645.99 75.86 L646.48 75.53 L646.97 75.20 L647.45 74.87 L647.94 74.55 L648.43 74.24 L648.92 73.92 L649.40 73.61 L649.89 73.30 L650.38 73.00 L650.86 72.70 L651.35 72.40 L651.84 72.11 L652.33 71.82 L652.81 71.53 L653.30 71.25 L653.79 70.97 L654.28 70.69 L654.76 70.42 L655.25 70.15 L655.74 69.89 L656.23 69.63 L656.71 69.37 L657.20 69.12 L657.69 68.87 L658.18 68.62 L658.66 68.38 L659.15 68.14 L659.64 67.91 L660.13 67.68 L660.61 67.45 L661.10 67.23 L661.59 67.01 L662.08 66.80 L662.56 66.59 L663.05 66.38 L663.54 66.18 L664.03 65.98 L664.51 65.79 L665.00 65.60 L665.49 65.42 L665.98 65.24 L666.46 65.06 L666.95 64.89 L667.44 64.72 L667.93 64.56 L668.41 64.41 L668.90 64.25 L669.39 64.10 L669.88 63.96 L670.36 63.82 L670.85 63.69 L671.34 63.56 L671.83 63.44 L672.31 63.32 L672.80 63.21 L673.29 63.10 L673.78 63.00 L674.26 62.90 L674.75 62.81 L675.24 62.72 L675.73 62.64 L676.21 62.57 L676.70 62.50 L677.19 62.44 L677.68 62.38 L678.16 62.33 L678.65 62.28 L679.14 62.24 L679.63 62.21 L680.11 62.18 L680.60 62.17 L681.09 62.15 L681.58 62.15 L682.06 62.15 L682.55 62.16 L683.04 62.17 L683.53 62.19 L684.01 62.22 L684.50 62.26" stroke="#000" stroke-width="1.40"/>
</g>
<path clip-path="url(#o2_0)" d="M509.50 22.74 L509.99 22.72 L510.47 22.70 L510.96 22.67 L511.45 22.65 L511.94 22.63 L512.42 22.61 L512.91 22.59 L513.40 22.57 L513.89 22.55 L514.37 22.53 L514.86 22.51 L515.35 22.48 L515.84 22.46 L516.32 22.44 L516.81 22.42 L517.30 22.40 L517.79 22.37 L518.27 22.35 L518.76 22.33 L519.25 22.31 L519.74 22.28 L520.22 22.26 L520.71 22.24 L521.20 22.22 L521.69 22.19 L522.17 22.17 L522.66 22.15 L523.15 22.13 L523.64 22.10 L524.12 22.08 L524.61 22.06 L525.10 22.03 L525.59 22.01 L526.07 21.99 L526.56 21.97 L527.05 21.94 L527.54 21.92 L528.02 21.90 L528.51 21.87 L529.00 21.85 L529.49 21.83 L529.97 21.81 L530.46 21.78 L530.95 21.76 L531.44 21.74 L531.92 21.71 L532.41 21.69 L532.90 21.67 L533.39 21.65 L533.87 21.62 L534.36 21.60 L534.85 21.58 L535.34 21.56 L535.82 21.54 L536.31 21.51 L536.80 21.49 L537.29 21.47 L537.77 21.45 L538.26 21.43 L538.75 21.41 L539.24 21.38 L539.72 21.36 L540.21 21.34 L540.70 21.32 L541.19 21.30 L541.67 21.28 L542.16 21.26 L542.65 21.24 L543.14 21.22 L543.62 21.20 L544.11 21.18 L544.60 21.16 L545.08 21.14 L545.57 21.12 L546.06 21.10 L546.55 21.08 L547.03 21.06 L547.52 21.05 L548.01 21.03 L548.50 21.01 L548.98 20.99 L549.47 20.97 L549.96 20.96 L550.45 20.94 L550.93 20.92 L551.42 20.91 L551.91 20.89 L552.40 20.87 L552.88 20.86 L553.37 20.84 L553.86 20.83 L554.35 20.81 L554.83 20.80 L555.32 20.78 L555.81 20.77 L556.30 20.75 L556.78 20.74 L557.27 20.73 L557.76 20.71 L558.25 20.70 L558.73 20.69 L559.22 20.68 L559.71 20.67 L560.20 20.65 L560.68 20.64 L561.17 20.63 L561.66 20.62 L562.15 20.61 L562.63 20.60 L563.12 20.59 L563.61 20.58 L564.10 20.58 L564.58 20.57 L565.07 20.56 L565.56 20.55 L566.05 20.55 L566.53 20.54 L567.02 20.53 L567.51 20.53 L568.00 20.52 L568.48 20.52 L568.97 20.51 L569.46 20.51 L569.95 20.50 L570.43 20.50 L570.92 20.50 L571.41 20.49 L571.90 20.49 L572.38 20.49 L572.87 20.49 L573.36 20.49 L573.85 20.49 L574.33 20.49 L574.82 20.49 L575.31 20.49 L575.80 20.49 L576.28 20.50 L576.77 20.50 L577.26 20.50 L577.75 20.51 L578.23 20.51 L578.72 20.51 L579.21 20.52 L579.69 20.53 L580.18 20.53 L580.67 20.54 L581.16 20.55 L581.64 20.55 L582.13 20.56 L582.62 20.57 L583.11 20.58 L583.59 20.59 L584.08 20.60 L584.57 20.61 L585.06 20.62 L585.54 20.63 L586.03 20.65 L586.52 20.66 L587.01 20.67 L587.49 20.68 L587.98 20.70 L588.47 20.71 L588.96 20.73 L589.44 20.74 L589.93 20.76 L590.42 20.77 L590.91 20.79 L591.39 20.80 L591.88 20.82 L592.37 20.84 L592.86 20.85 L593.34 20.87 L593.83 20.89 L594.32 20.91 L594.81 20.93 L595.29 20.94 L595.78 20.96 L596.27 20.98 L596.76 21.00 L597.24 21.02 L597.73 21.04 L598.22 21.06 L598.71 21.08 L599.19 21.10 L599.68 21.12 L600.17 21.14 L600.66 21.16 L601.14 21.18 L601.63 21.21 L602.12 21.23 L602.61 21.25 L603.09 21.27 L603.58 21.29 L604.07 21.32 L604.56 21.34 L605.04 21.36 L605.53 21.38 L606.02 21.40 L606.51 21.43 L606.99 21.45 L607.48 21.47 L607.97 21.50 L608.46 21.52 L608.94 21.54 L609.43 21.56 L609.92 21.59 L610.41 21.61 L610.89 21.63 L611.38 21.66 L611.87 21.68 L612.36 21.70 L612.84 21.73 L613.33 21.75 L613.82 21.77 L614.31 21.79 L614.79 21.82 L615.28 21.84 L615.77 21.86 L616.25 21.89 L616.74 21.91 L617.23 21.93 L617.72 21.95 L618.20 21.98 L618.69 22.00 L619.18 22.02 L619.67 22.04 L620.15 22.07 L620.64 22.09 L621.13 22.11 L621.62 22.14 L622.10 22.16 L622.59 22.18 L623.08 22.20 L623.57 22.23 L624.05 22.25 L624.54 22.27 L625.03 22.30 L625.52 22.32 L626.00 22.34 L626.49 22.37 L626.98 22.39 L627.47 22.41 L627.95 22.44 L628.44 22.46 L628.93 22.48 L629.42 22.51 L629.90 22.53 L630.39 22.56 L630.88 22.58 L631.37 22.60 L631.85 22.63 L632.34 22.65 L632.83 22.68 L633.32 22.70 L633.80 22.73 L634.29 22.75 L634.78 22.78 L635.27 22.81 L635.75 22.83 L636.24 22.86 L636.73 22.88 L637.22 22.91 L637.70 22.94 L638.19 22.96 L638.68 22.99 L639.17 23.02 L639.65 23.05 L640.14 23.07 L640.63 23.10 L641.12 23.13 L641.60 23.16 L642.09 23.19 L642.58 23.22 L643.07 23.25 L643.55 23.28 L644.04 23.31 L644.53 23.34 L645.02 23.37 L645.50 23.40 L645.99 23.43 L646.48 23.46 L646.97 23.50 L647.45 23.53 L647.94 23.56 L648.43 23.59 L648.92 23.63 L649.40 23.66 L649.89 23.69 L650.38 23.73 L650.86 23.76 L651.35 23.80 L651.84 23.83 L652.33 23.87 L652.81 23.91 L653.30 23.94 L653.79 23.98 L654.28 24.02 L654.76 24.06 L655.25 24.09 L655.74 24.13 L656.23 24.17 L656.71 24.21 L657.20 24.25 L657.69 24.29 L658.18 24.33 L658.66 24.38 L659.15 24.42 L659.64 24.46 L660.13 24.50 L660.61 24.55 L661.10 24.59 L661.59 24.64 L662.08 24.68 L662.56 24.73 L663.05 24.77 L663.54 24.82 L664.03 24.87 L664.51 24.91 L665.00 24.96 L665.49 25.01 L665.98 25.06 L666.46 25.11 L666.95 25.16 L667.44 25.21 L667.93 25.26 L668.41 25.31 L668.90 25.37 L669.39 25.42 L669.88 25.47 L670.36 25.53 L670.85 25.58 L671.34 25.64 L671.83 25.69 L672.31 25.75 L672.80 25.81 L673.29 25.87 L673.78 25.93 L674.26 25.99 L674.75 26.05 L675.24 26.11 L675.73 26.17 L676.21 26.23 L676.70 26.29 L677.19 26.36 L677.68 26.42 L678.16 26.49 L678.65 26.55 L679.14 26.62 L679.63 26.68 L680.11 26.75 L680.60 26.82 L681.09 26.89 L681.58 26.96 L682.06 27.03 L682.55 27.10 L683.04 27.17 L683.53 27.25 L684.01 27.32 L684.50 27.39" stroke="#a8a8a8" stroke-width="1.30" stroke-dasharray="5.3 1.9 1.3 1.9" fill="none"/>
<path clip-path="url(#o2_1)" d="M509.50 73.49 L509.99 73.64 L510.47 73.80 L510.96 73.97 L511.45 74.14 L511.94 74.31 L512.42 74.49 L512.91 74.68 L513.40 74.87 L513.89 75.06 L514.37 75.26 L514.86 75.47 L515.35 75.68 L515.84 75.89 L516.32 76.11 L516.81 76.33 L517.30 76.56 L517.79 76.79 L518.27 77.03 L518.76 77.27 L519.25 77.52 L519.74 77.77 L520.22 78.03 L520.71 78.29 L521.20 78.55 L521.69 78.82 L522.17 79.09 L522.66 79.37 L523.15 79.65 L523.64 79.93 L524.12 80.22 L524.61 80.52 L525.10 80.82 L525.59 81.12 L526.07 81.42 L526.56 81.73 L527.05 82.05 L527.54 82.37 L528.02 82.69 L528.51 83.01 L529.00 83.34 L529.49 83.68 L529.97 84.02 L530.46 84.36 L530.95 84.70 L531.44 85.05 L531.92 85.41 L532.41 85.76 L532.90 86.13 L533.39 86.49 L533.87 86.86 L534.36 87.23 L534.85 87.61 L535.34 87.99 L535.82 88.37 L536.31 88.76 L536.80 89.15 L537.29 89.54 L537.77 89.94 L538.26 90.34 L538.75 90.75 L539.24 91.16 L539.72 91.57 L540.21 91.99 L540.70 92.41 L541.19 92.83 L541.67 93.26 L542.16 93.69 L542.65 94.12 L543.14 94.56 L543.62 95.00 L544.11 95.44 L544.60 95.89 L545.08 96.34 L545.57 96.79 L546.06 97.25 L546.55 97.71 L547.03 98.17 L547.52 98.64 L548.01 99.10 L548.50 99.58 L548.98 100.05 L549.47 100.53 L549.96 101.01 L550.45 101.49 L550.93 101.98 L551.42 102.47 L551.91 102.96 L552.40 103.45 L552.88 103.95 L553.37 104.45 L553.86 104.95 L554.35 105.45 L554.83 105.96 L555.32 106.46 L555.81 106.97 L556.30 107.48 L556.78 107.99 L557.27 108.50 L557.76 109.02 L558.25 109.53 L558.73 110.05 L559.22 110.56 L559.71 111.08 L560.20 111.60 L560.68 112.11 L561.17 112.63 L561.66 113.14 L562.15 113.66 L562.63 114.17 L563.12 114.68 L563.61 115.20 L564.10 115.70 L564.58 116.21 L565.07 116.71 L565.56 117.21 L566.05 117.71 L566.53 118.21 L567.02 118.69 L567.51 119.18 L568.00 119.66 L568.48 120.13 L568.97 120.60 L569.46 121.06 L569.95 121.51 L570.43 121.96 L570.92 122.39 L571.41 122.82 L571.90 123.24 L572.38 123.65 L572.87 124.05 L573.36 124.44 L573.85 124.81 L574.33 125.17 L574.82 125.52 L575.31 125.86 L575.80 126.18 L576.28 126.49 L576.77 126.78 L577.26 127.05 L577.75 127.31 L578.23 127.55 L578.72 127.78 L579.21 127.98 L579.69 128.17 L580.18 128.34 L580.67 128.49 L581.16 128.61 L581.64 128.72 L582.13 128.81 L582.62 128.88 L583.11 128.92 L583.59 128.95 L584.08 128.95 L584.57 128.94 L585.06 128.90 L585.54 128.84 L586.03 128.76 L586.52 128.66 L587.01 128.54 L587.49 128.40 L587.98 128.24 L588.47 128.06 L588.96 127.86 L589.44 127.64 L589.93 127.41 L590.42 127.15 L590.91 126.88 L591.39 126.60 L591.88 126.29 L592.37 125.97 L592.86 125.64 L593.34 125.29 L593.83 124.93 L594.32 124.55 L594.81 124.17 L595.29 123.77 L595.78 123.36 L596.27 122.93 L596.76 122.50 L597.24 122.06 L597.73 121.61 L598.22 121.15 L598.71 120.69 L599.19 120.21 L599.68 119.73 L600.17 119.24 L600.66 118.75 L601.14 118.25 L601.63 117.75 L602.12 117.24 L602.61 116.73 L603.09 116.22 L603.58 115.70 L604.07 115.18 L604.56 114.66 L605.04 114.13 L605.53 113.60 L606.02 113.07 L606.51 112.54 L606.99 112.01 L607.48 111.48 L607.97 110.95 L608.46 110.41 L608.94 109.88 L609.43 109.35 L609.92 108.81 L610.41 108.28 L610.89 107.75 L611.38 107.22 L611.87 106.69 L612.36 106.16 L612.84 105.63 L613.33 105.11 L613.82 104.58 L614.31 104.06 L614.79 103.54 L615.28 103.02 L615.77 102.50 L616.25 101.99 L616.74 101.48 L617.23 100.97 L617.72 100.46 L618.20 99.95 L618.69 99.45 L619.18 98.95 L619.67 98.45 L620.15 97.95 L620.64 97.46 L621.13 96.96 L621.62 96.48 L622.10 95.99 L622.59 95.51 L623.08 95.03 L623.57 94.55 L624.05 94.07 L624.54 93.60 L625.03 93.13 L625.52 92.67 L626.00 92.20 L626.49 91.74 L626.98 91.29 L627.47 90.83 L627.95 90.38 L628.44 89.93 L628.93 89.48 L629.42 89.04 L629.90 88.60 L630.39 88.17 L630.88 87.73 L631.37 87.30 L631.85 86.88 L632.34 86.45 L632.83 86.03 L633.32 85.61 L633.80 85.20 L634.29 84.79 L634.78 84.38 L635.27 83.97 L635.75 83.57 L636.24 83.17 L636.73 82.77 L637.22 82.38 L637.70 81.99 L638.19 81.60 L638.68 81.22 L639.17 80.84 L639.65 80.46 L640.14 80.09 L640.63 79.72 L641.12 79.35 L641.60 78.99 L642.09 78.63 L642.58 78.27 L643.07 77.91 L643.55 77.56 L644.04 77.22 L644.53 76.87 L645.02 76.53 L645.50 76.19 L645.99 75.86 L646.48 75.53 L646.97 75.20 L647.45 74.87 L647.94 74.55 L648.43 74.24 L648.92 73.92 L649.40 73.61 L649.89 73.30 L650.38 73.00 L650.86 72.70 L651.35 72.40 L651.84 72.11 L652.33 71.82 L652.81 71.53 L653.30 71.25 L653.79 70.97 L654.28 70.69 L654.76 70.42 L655.25 70.15 L655.74 69.89 L656.23 69.63 L656.71 69.37 L657.20 69.12 L657.69 68.87 L658.18 68.62 L658.66 68.38 L659.15 68.14 L659.64 67.91 L660.13 67.68 L660.61 67.45 L661.10 67.23 L661.59 67.01 L662.08 66.80 L662.56 66.59 L663.05 66.38 L663.54 66.18 L664.03 65.98 L664.51 65.79 L665.00 65.60 L665.49 65.42 L665.98 65.24 L666.46 65.06 L666.95 64.89 L667.44 64.72 L667.93 64.56 L668.41 64.41 L668.90 64.25 L669.39 64.10 L669.88 63.96 L670.36 63.82 L670.85 63.69 L671.34 63.56 L671.83 63.44 L672.31 63.32 L672.80 63.21 L673.29 63.10 L673.78 63.00 L674.26 62.90 L674.75 62.81 L675.24 62.72 L675.73 62.64 L676.21 62.57 L676.70 62.50 L677.19 62.44 L677.68 62.38 L678.16 62.33 L678.65 62.28 L679.14 62.24 L679.63 62.21 L680.11 62.18 L680.60 62.17 L681.09 62.15 L681.58 62.15 L682.06 62.15 L682.55 62.16 L683.04 62.17 L683.53 62.19 L684.01 62.22 L684.50 62.26" stroke="#a8a8a8" stroke-width="1.50" stroke-opacity="0.5" fill="none"/>
<path d="M509.50 209.30 v-2.00 M509.50 5.50 v2.00 M544.50 209.30 v-2.00 M544.50 5.50 v2.00 M579.50 209.30 v-2.00 M579.50 5.50 v2.00 M614.50 209.30 v-2.00 M614.50 5.50 v2.00 M649.50 209.30 v-2.00 M649.50 5.50 v2.00 M509.50 5.50 h2.00 M684.50 5.50 h-2.00 M509.50 34.61 h2.00 M684.50 34.61 h-2.00 M509.50 63.73 h2.00 M684.50 63.73 h-2.00 M509.50 92.84 h2.00 M684.50 92.84 h-2.00 M509.50 121.96 h2.00 M684.50 121.96 h-2.00 M509.50 151.07 h2.00 M684.50 151.07 h-2.00 M509.50 180.19 h2.00 M684.50 180.19 h-2.00 M509.50 209.30 h2.00 M684.50 209.30 h-2.00" stroke="#606060" stroke-width="0.9" fill="none"/>
<rect x="509.50" y="5.50" width="175.00" height="203.80" fill="none" stroke="#606060" stroke-width="0.95"/>
<g font-family="'Liberation Serif','Times New Roman',serif" font-size="12" fill="#000">
<text x="505.30" y="10.20" text-anchor="end">0</text>
<text x="505.30" y="39.31" text-anchor="end">-5</text>
<text x="505.30" y="68.43" text-anchor="end">-10</text>
<text x="505.30" y="97.54" text-anchor="end">-15</text>
<text x="505.30" y="126.66" text-anchor="end">-20</text>
<text x="505.30" y="155.77" text-anchor="end">-25</text>
<text x="505.30" y="184.89" text-anchor="end">-30</text>
<text x="505.30" y="214.00" text-anchor="end">-35</text>
<text x="509.70" y="224.80" text-anchor="middle">1.3</text>
<text x="544.70" y="224.80" text-anchor="middle">1.4</text>
<text x="579.70" y="224.80" text-anchor="middle">1.5</text>
<text x="614.70" y="224.80" text-anchor="middle">1.6</text>
<text x="649.70" y="224.80" text-anchor="middle">1.7</text>
</g>
<g font-family="'Liberation Serif','Times New Roman',serif" font-size="13.3" fill="#000">
<text x="597.00" y="241.00" text-anchor="middle">Frequency [GHz]</text>
<text transform="translate(484.10 107.40) rotate(-90)" text-anchor="middle">S-parameters [dB]</text>
</g>
<text x="592.80" y="278.00" text-anchor="middle" font-family="'Liberation Serif','Times New Roman',serif" font-size="15.6" fill="#000">(c)</text>
<rect x="624.70" y="128.60" width="54.00" height="73.90" fill="#fff" stroke="#555" stroke-width="0.9"/>
<path d="M627.20 138.80 H653.40" stroke="#000" stroke-width="1.7" fill="none" stroke-dasharray="1.3 1.3"/>
<text font-family="'Liberation Serif','Times New Roman',serif" font-size="12.4" y="141.60"><tspan x="656.40" text-anchor="middle" fill="#333">|</tspan><tspan x="657.50" font-style="italic" fill="#000">S</tspan><tspan x="664.10" dy="5.7" font-size="8.4" fill="#000">11</tspan><tspan x="674.00" dy="-5.7" text-anchor="middle" fill="#666">|</tspan></text>
<path d="M627.20 156.80 H653.40" stroke="#000" stroke-width="1.4" fill="none" stroke-dasharray="5.8 4.6"/>
<text font-family="'Liberation Serif','Times New Roman',serif" font-size="12.4" y="159.60"><tspan x="656.40" text-anchor="middle" fill="#333">|</tspan><tspan x="657.50" font-style="italic" fill="#000">S</tspan><tspan x="664.10" dy="5.7" font-size="8.4" fill="#000">21</tspan><tspan x="674.00" dy="-5.7" text-anchor="middle" fill="#666">|</tspan></text>
<path d="M627.20 174.50 H653.40" stroke="#000" stroke-width="1.4" fill="none" stroke-dasharray="5.8 4.6"/>
<text font-family="'Liberation Serif','Times New Roman',serif" font-size="12.4" y="177.30"><tspan x="656.40" text-anchor="middle" fill="#333">|</tspan><tspan x="657.50" font-style="italic" fill="#000">S</tspan><tspan x="664.10" dy="5.7" font-size="8.4" fill="#000">31</tspan><tspan x="674.00" dy="-5.7" text-anchor="middle" fill="#666">|</tspan></text>
<path d="M627.20 192.40 H653.40" stroke="#000" stroke-width="1.4" fill="none"/>
<text font-family="'Liberation Serif','Times New Roman',serif" font-size="12.4" y="195.20"><tspan x="656.40" text-anchor="middle" fill="#333">|</tspan><tspan x="657.50" font-style="italic" fill="#000">S</tspan><tspan x="664.10" dy="5.7" font-size="8.4" fill="#000">41</tspan><tspan x="674.00" dy="-5.7" text-anchor="middle" fill="#666">|</tspan></text>
</svg>
</body></html>
